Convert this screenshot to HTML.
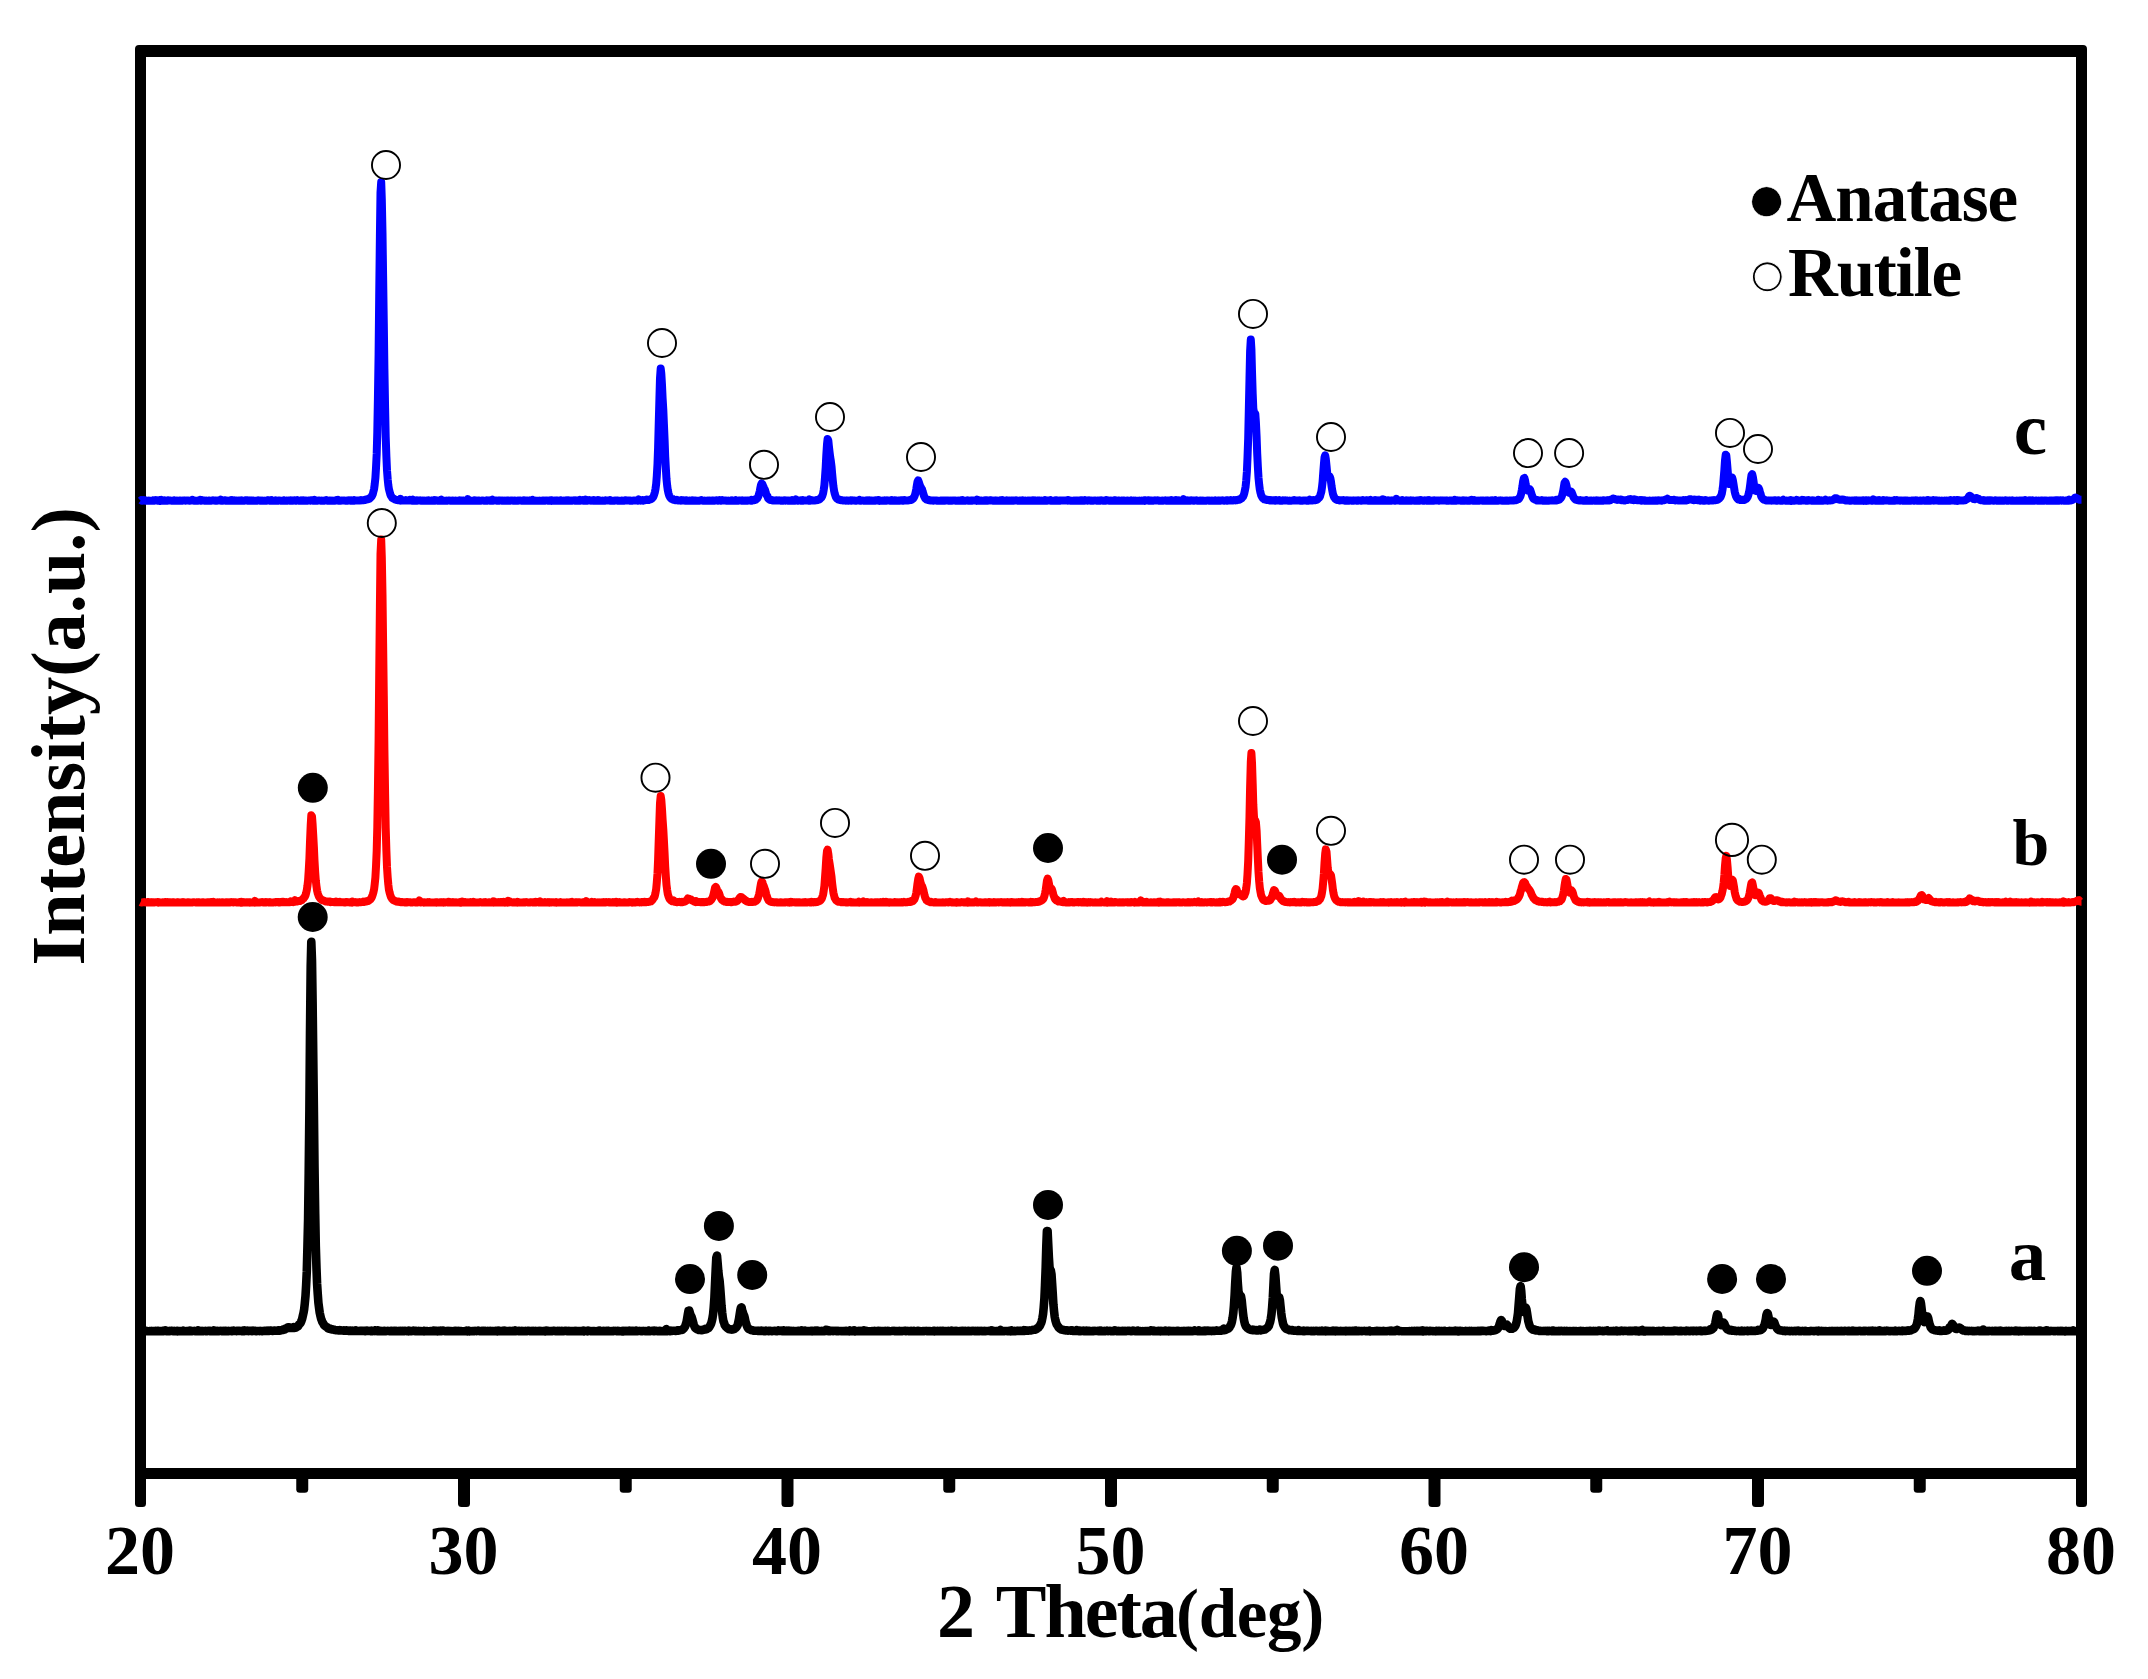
<!DOCTYPE html>
<html lang="en"><head><meta charset="utf-8"><title>XRD patterns</title>
<style>html,body{margin:0;padding:0;background:#fff}svg{display:block}text{font-family:"Liberation Serif", serif;font-weight:bold;fill:#000}</style></head><body>
<svg width="2148" height="1679" viewBox="0 0 2148 1679">
<rect width="2148" height="1679" fill="#fff"/>
<g fill="#000">
<path fill-rule="evenodd" d="M139,45H2083Q2087,45 2087,49V1479H135V49Q135,45 139,45ZM146,57V1468H2076V57Z"/>
<rect x="135" y="1465" width="11" height="42" rx="3.5"/>
<rect x="2076" y="1465" width="11" height="42" rx="3.5"/>
<rect x="458.00" y="1470" width="12" height="37" rx="3.5"/>
<rect x="781.50" y="1470" width="12" height="37" rx="3.5"/>
<rect x="1105.00" y="1470" width="12" height="37" rx="3.5"/>
<rect x="1428.50" y="1470" width="12" height="37" rx="3.5"/>
<rect x="1752.00" y="1470" width="12" height="37" rx="3.5"/>
<rect x="296.25" y="1470" width="12" height="22.8" rx="3.5"/>
<rect x="619.75" y="1470" width="12" height="22.8" rx="3.5"/>
<rect x="943.25" y="1470" width="12" height="22.8" rx="3.5"/>
<rect x="1266.75" y="1470" width="12" height="22.8" rx="3.5"/>
<rect x="1590.25" y="1470" width="12" height="22.8" rx="3.5"/>
<rect x="1913.75" y="1470" width="12" height="22.8" rx="3.5"/>
</g>
<polyline points="140.5,1331.2 141.1,1331.2 141.8,1331.0 142.4,1331.2 143.1,1331.0 143.7,1331.2 144.4,1330.8 145.0,1331.1 145.7,1330.8 146.3,1330.8 147.0,1331.2 147.6,1331.3 148.3,1331.2 148.9,1331.2 149.6,1331.1 150.2,1331.0 150.9,1331.2 151.5,1331.3 152.1,1331.2 152.8,1331.0 153.4,1331.1 154.1,1331.2 154.7,1331.3 155.4,1330.9 156.0,1331.3 156.7,1331.1 157.3,1330.9 158.0,1331.1 158.6,1330.9 159.3,1331.2 159.9,1331.1 160.6,1331.1 161.2,1331.0 161.9,1331.2 162.5,1330.9 163.1,1331.2 163.8,1330.8 164.4,1330.6 165.1,1330.4 165.7,1331.0 166.4,1331.2 167.0,1331.2 167.7,1331.2 168.3,1331.1 169.0,1331.0 169.6,1331.2 170.3,1331.1 170.9,1330.8 171.6,1330.9 172.2,1330.9 172.8,1331.2 173.5,1331.1 174.1,1330.8 174.8,1331.2 175.4,1331.1 176.1,1331.0 176.7,1330.9 177.4,1331.3 178.0,1330.9 178.7,1331.0 179.3,1331.1 180.0,1331.1 180.6,1331.2 181.3,1331.3 181.9,1331.2 182.6,1331.2 183.2,1330.7 183.8,1331.1 184.5,1331.2 185.1,1331.2 185.8,1331.2 186.4,1331.2 187.1,1331.0 187.7,1331.2 188.4,1331.2 189.0,1331.1 189.7,1330.6 190.3,1331.2 191.0,1331.2 191.6,1331.3 192.3,1331.0 192.9,1331.0 193.6,1331.0 194.2,1330.9 194.8,1331.2 195.5,1331.1 196.1,1331.0 196.8,1330.9 197.4,1331.2 198.1,1330.3 198.7,1331.1 199.4,1331.2 200.0,1331.0 200.7,1331.2 201.3,1331.0 202.0,1331.2 202.6,1331.2 203.3,1331.1 203.9,1331.1 204.6,1331.0 205.2,1330.9 205.8,1331.1 206.5,1331.3 207.1,1331.0 207.8,1331.0 208.4,1330.8 209.1,1330.7 209.7,1330.9 210.4,1331.2 211.0,1331.2 211.7,1331.0 212.3,1330.9 213.0,1331.1 213.6,1330.4 214.3,1330.9 214.9,1331.2 215.6,1330.8 216.2,1331.0 216.8,1331.3 217.5,1331.0 218.1,1331.2 218.8,1331.0 219.4,1331.1 220.1,1331.0 220.7,1330.7 221.4,1331.0 222.0,1331.2 222.7,1331.3 223.3,1330.8 224.0,1331.2 224.6,1331.2 225.3,1330.9 225.9,1330.8 226.6,1331.1 227.2,1331.3 227.8,1331.0 228.5,1330.8 229.1,1331.1 229.8,1331.0 230.4,1331.0 231.1,1330.9 231.7,1331.1 232.4,1331.1 233.0,1330.7 233.7,1330.6 234.3,1331.0 235.0,1331.0 235.6,1331.0 236.3,1330.9 236.9,1331.1 237.6,1331.0 238.2,1330.9 238.8,1330.7 239.5,1330.7 240.1,1331.0 240.8,1331.0 241.4,1331.1 242.1,1331.0 242.7,1331.1 243.4,1330.5 244.0,1330.4 244.7,1331.1 245.3,1331.0 246.0,1331.0 246.6,1331.0 247.3,1330.5 247.9,1330.7 248.5,1331.1 249.2,1330.7 249.8,1330.9 250.5,1330.8 251.1,1330.7 251.8,1331.1 252.4,1331.1 253.1,1330.6 253.7,1330.9 254.4,1330.7 255.0,1330.9 255.7,1330.9 256.3,1331.1 257.0,1331.1 257.6,1331.0 258.3,1331.0 258.9,1331.0 259.5,1331.1 260.2,1330.9 260.8,1331.0 261.5,1331.1 262.1,1331.1 262.8,1331.1 263.4,1331.0 264.1,1330.8 264.7,1331.0 265.4,1330.8 266.0,1330.8 266.7,1330.9 267.3,1330.8 268.0,1330.6 268.6,1330.8 269.3,1330.9 269.9,1330.6 270.5,1330.8 271.2,1330.5 271.8,1330.7 272.5,1330.9 273.1,1330.7 273.8,1330.7 274.4,1330.6 275.1,1330.5 275.7,1330.8 276.4,1330.5 277.0,1330.5 277.7,1330.4 278.3,1330.6 279.0,1330.4 279.6,1330.6 280.3,1330.4 280.9,1330.4 281.5,1330.0 282.2,1330.0 282.8,1329.9 283.5,1329.3 284.1,1329.5 284.8,1329.4 285.4,1328.6 286.1,1328.6 286.7,1328.4 287.4,1327.6 288.0,1327.4 288.7,1327.8 289.3,1327.3 290.0,1327.5 290.6,1327.9 291.3,1328.0 291.9,1327.7 292.5,1327.9 293.2,1327.9 293.8,1327.3 294.5,1327.9 295.1,1327.4 295.8,1327.6 296.4,1327.2 297.1,1326.7 297.7,1326.4 298.4,1325.9 299.0,1324.5 299.7,1324.0 300.3,1323.3 301.0,1322.1 301.6,1320.5 302.2,1318.7 302.9,1315.5 303.5,1312.9 304.2,1308.9 304.8,1303.4 305.5,1295.9 306.1,1285.7 306.8,1271.2 307.4,1248.1 308.1,1218.9 308.7,1173.2 309.4,1109.6 310.0,1033.6 310.7,966.6 311.3,941.9 312.0,961.0 312.6,1001.2 313.2,1051.9 313.9,1111.4 314.5,1166.6 315.2,1213.3 315.8,1246.1 316.5,1268.5 317.1,1284.0 317.8,1294.6 318.4,1302.8 319.1,1308.1 319.7,1312.6 320.4,1315.8 321.0,1318.4 321.7,1320.3 322.3,1321.9 323.0,1323.0 323.6,1324.1 324.2,1325.3 324.9,1325.8 325.5,1326.2 326.2,1326.7 326.8,1327.2 327.5,1327.5 328.1,1328.3 328.8,1328.5 329.4,1328.8 330.1,1328.6 330.7,1329.1 331.4,1329.3 332.0,1329.4 332.7,1329.3 333.3,1329.7 334.0,1329.7 334.6,1329.9 335.2,1330.0 335.9,1330.0 336.5,1330.3 337.2,1330.2 337.8,1330.3 338.5,1330.4 339.1,1330.4 339.8,1330.0 340.4,1330.3 341.1,1330.3 341.7,1330.5 342.4,1330.5 343.0,1330.6 343.7,1330.4 344.3,1330.8 345.0,1330.8 345.6,1330.6 346.2,1330.3 346.9,1330.4 347.5,1330.5 348.2,1330.8 348.8,1330.9 349.5,1330.9 350.1,1330.7 350.8,1330.5 351.4,1330.9 352.1,1330.9 352.7,1330.6 353.4,1330.9 354.0,1330.7 354.7,1331.0 355.3,1331.0 356.0,1330.5 356.6,1330.9 357.2,1330.9 357.9,1331.0 358.5,1331.0 359.2,1331.0 359.8,1330.7 360.5,1331.0 361.1,1330.8 361.8,1330.9 362.4,1330.9 363.1,1330.7 363.7,1330.8 364.4,1330.7 365.0,1331.2 365.7,1330.9 366.3,1330.6 366.9,1331.0 367.6,1330.9 368.2,1331.0 368.9,1330.7 369.5,1331.0 370.2,1331.1 370.8,1331.1 371.5,1330.7 372.1,1331.0 372.8,1331.2 373.4,1330.9 374.1,1330.6 374.7,1331.0 375.4,1330.5 376.0,1331.0 376.7,1331.1 377.3,1331.1 377.9,1330.3 378.6,1331.0 379.2,1330.6 379.9,1331.1 380.5,1331.0 381.2,1331.2 381.8,1331.2 382.5,1331.1 383.1,1331.2 383.8,1330.9 384.4,1330.8 385.1,1330.9 385.7,1331.1 386.4,1331.1 387.0,1331.0 387.7,1330.8 388.3,1331.0 388.9,1331.1 389.6,1331.2 390.2,1331.2 390.9,1330.7 391.5,1330.9 392.2,1331.2 392.8,1331.0 393.5,1331.1 394.1,1330.9 394.8,1330.7 395.4,1331.2 396.1,1330.9 396.7,1331.1 397.4,1331.1 398.0,1331.1 398.7,1331.2 399.3,1331.1 399.9,1330.8 400.6,1331.2 401.2,1331.0 401.9,1331.1 402.5,1330.8 403.2,1330.9 403.8,1331.2 404.5,1330.7 405.1,1330.7 405.8,1331.0 406.4,1331.1 407.1,1331.2 407.7,1331.0 408.4,1331.3 409.0,1330.7 409.7,1331.1 410.3,1331.1 410.9,1331.3 411.6,1331.1 412.2,1330.9 412.9,1330.8 413.5,1330.6 414.2,1330.8 414.8,1331.1 415.5,1330.9 416.1,1330.8 416.8,1331.2 417.4,1331.1 418.1,1331.2 418.7,1330.9 419.4,1331.2 420.0,1331.1 420.7,1331.1 421.3,1331.2 421.9,1331.2 422.6,1331.2 423.2,1331.0 423.9,1331.3 424.5,1330.9 425.2,1331.0 425.8,1331.3 426.5,1331.2 427.1,1331.1 427.8,1331.2 428.4,1331.2 429.1,1331.2 429.7,1331.2 430.4,1331.1 431.0,1331.2 431.6,1331.2 432.3,1331.0 432.9,1330.7 433.6,1330.6 434.2,1331.2 434.9,1331.1 435.5,1330.8 436.2,1331.1 436.8,1330.8 437.5,1331.3 438.1,1330.9 438.8,1330.8 439.4,1331.1 440.1,1331.1 440.7,1330.7 441.4,1331.2 442.0,1331.1 442.6,1330.6 443.3,1330.6 443.9,1331.0 444.6,1331.1 445.2,1331.2 445.9,1331.2 446.5,1331.2 447.2,1330.9 447.8,1331.0 448.5,1331.2 449.1,1331.0 449.8,1331.2 450.4,1331.2 451.1,1331.0 451.7,1331.2 452.4,1331.2 453.0,1331.2 453.6,1331.1 454.3,1331.1 454.9,1330.9 455.6,1331.1 456.2,1330.9 456.9,1331.2 457.5,1331.3 458.2,1330.8 458.8,1331.2 459.5,1331.3 460.1,1331.1 460.8,1331.1 461.4,1331.2 462.1,1331.2 462.7,1331.2 463.4,1331.3 464.0,1331.2 464.6,1331.3 465.3,1331.2 465.9,1330.8 466.6,1330.6 467.2,1331.3 467.9,1331.1 468.5,1330.7 469.2,1331.3 469.8,1331.1 470.5,1331.2 471.1,1331.2 471.8,1331.2 472.4,1331.1 473.1,1331.1 473.7,1331.3 474.4,1331.1 475.0,1330.8 475.6,1331.0 476.3,1331.1 476.9,1331.1 477.6,1331.0 478.2,1330.6 478.9,1330.8 479.5,1331.2 480.2,1331.1 480.8,1331.0 481.5,1330.9 482.1,1331.3 482.8,1331.2 483.4,1330.8 484.1,1330.7 484.7,1331.3 485.4,1331.3 486.0,1331.1 486.6,1331.1 487.3,1331.2 487.9,1330.9 488.6,1331.0 489.2,1331.3 489.9,1331.2 490.5,1330.9 491.2,1331.1 491.8,1331.1 492.5,1331.3 493.1,1331.1 493.8,1331.0 494.4,1331.0 495.1,1330.9 495.7,1331.3 496.4,1331.1 497.0,1331.1 497.6,1331.3 498.3,1330.7 498.9,1331.1 499.6,1331.2 500.2,1331.0 500.9,1331.3 501.5,1331.2 502.2,1330.9 502.8,1331.2 503.5,1331.1 504.1,1330.7 504.8,1331.1 505.4,1330.8 506.1,1331.3 506.7,1331.3 507.3,1331.0 508.0,1331.3 508.6,1331.2 509.3,1331.1 509.9,1330.8 510.6,1331.0 511.2,1331.2 511.9,1331.3 512.5,1330.9 513.2,1331.3 513.8,1331.3 514.5,1331.3 515.1,1330.6 515.8,1331.1 516.4,1331.1 517.1,1331.0 517.7,1331.0 518.3,1330.8 519.0,1331.2 519.6,1330.9 520.3,1331.1 520.9,1331.2 521.6,1330.9 522.2,1331.3 522.9,1331.2 523.5,1331.0 524.2,1331.2 524.8,1331.2 525.5,1330.9 526.1,1331.0 526.8,1331.2 527.4,1331.1 528.1,1330.8 528.7,1330.7 529.3,1331.0 530.0,1331.2 530.6,1331.3 531.3,1331.0 531.9,1330.9 532.6,1331.2 533.2,1331.2 533.9,1330.9 534.5,1331.0 535.2,1331.2 535.8,1330.9 536.5,1331.0 537.1,1331.2 537.8,1331.0 538.4,1331.2 539.1,1331.1 539.7,1330.9 540.3,1331.2 541.0,1331.2 541.6,1331.1 542.3,1331.3 542.9,1331.0 543.6,1331.3 544.2,1331.2 544.9,1331.0 545.5,1331.3 546.2,1330.6 546.8,1331.2 547.5,1331.0 548.1,1330.9 548.8,1331.1 549.4,1331.1 550.1,1331.1 550.7,1331.2 551.3,1331.1 552.0,1331.2 552.6,1331.1 553.3,1330.9 553.9,1330.9 554.6,1330.8 555.2,1331.2 555.9,1331.2 556.5,1331.1 557.2,1331.1 557.8,1330.9 558.5,1331.2 559.1,1330.9 559.8,1331.1 560.4,1331.2 561.0,1331.1 561.7,1330.8 562.3,1331.3 563.0,1331.1 563.6,1331.2 564.3,1331.1 564.9,1330.7 565.6,1330.9 566.2,1330.8 566.9,1331.3 567.5,1331.2 568.2,1330.9 568.8,1331.2 569.5,1331.3 570.1,1331.2 570.8,1331.0 571.4,1331.1 572.0,1331.0 572.7,1331.1 573.3,1331.1 574.0,1331.1 574.6,1331.2 575.3,1331.2 575.9,1330.9 576.6,1331.1 577.2,1331.1 577.9,1331.1 578.5,1331.1 579.2,1331.2 579.8,1331.1 580.5,1331.1 581.1,1331.1 581.8,1331.1 582.4,1330.9 583.0,1330.6 583.7,1331.3 584.3,1331.0 585.0,1330.9 585.6,1331.0 586.3,1331.1 586.9,1330.9 587.6,1331.3 588.2,1330.7 588.9,1330.9 589.5,1330.9 590.2,1331.0 590.8,1331.2 591.5,1331.2 592.1,1331.0 592.8,1331.3 593.4,1331.2 594.0,1331.1 594.7,1331.0 595.3,1331.2 596.0,1331.2 596.6,1331.2 597.3,1331.2 597.9,1330.9 598.6,1331.2 599.2,1330.6 599.9,1331.1 600.5,1330.8 601.2,1331.2 601.8,1331.3 602.5,1331.2 603.1,1331.1 603.8,1330.8 604.4,1331.2 605.0,1331.3 605.7,1331.1 606.3,1330.9 607.0,1331.1 607.6,1330.8 608.3,1331.1 608.9,1330.9 609.6,1331.0 610.2,1331.2 610.9,1331.3 611.5,1331.2 612.2,1331.1 612.8,1331.2 613.5,1330.8 614.1,1330.9 614.8,1331.0 615.4,1330.9 616.0,1331.0 616.7,1331.2 617.3,1330.8 618.0,1330.8 618.6,1331.2 619.3,1331.1 619.9,1331.2 620.6,1331.2 621.2,1331.3 621.9,1331.0 622.5,1331.3 623.2,1330.8 623.8,1331.3 624.5,1331.0 625.1,1330.8 625.8,1331.2 626.4,1331.3 627.0,1330.9 627.7,1331.2 628.3,1330.9 629.0,1330.6 629.6,1331.2 630.3,1331.2 630.9,1331.0 631.6,1330.8 632.2,1330.8 632.9,1331.2 633.5,1331.0 634.2,1331.1 634.8,1331.1 635.5,1331.0 636.1,1330.5 636.7,1331.2 637.4,1331.2 638.0,1331.1 638.7,1331.0 639.3,1330.9 640.0,1331.0 640.6,1331.0 641.3,1331.1 641.9,1331.3 642.6,1331.0 643.2,1330.9 643.9,1331.0 644.5,1331.0 645.2,1331.2 645.8,1331.1 646.5,1331.3 647.1,1331.1 647.7,1331.2 648.4,1330.7 649.0,1331.1 649.7,1330.8 650.3,1331.2 651.0,1331.0 651.6,1330.9 652.3,1330.8 652.9,1331.1 653.6,1331.2 654.2,1330.5 654.9,1331.1 655.5,1330.7 656.2,1330.9 656.8,1331.1 657.5,1331.2 658.1,1331.2 658.7,1331.2 659.4,1330.7 660.0,1330.7 660.7,1331.2 661.3,1331.2 662.0,1331.2 662.6,1331.0 663.3,1331.1 663.9,1330.7 664.6,1330.9 665.2,1330.9 665.9,1331.2 666.5,1329.1 667.2,1330.8 667.8,1331.1 668.5,1331.0 669.1,1330.7 669.7,1331.1 670.4,1331.1 671.0,1330.7 671.7,1331.0 672.3,1330.8 673.0,1330.8 673.6,1330.7 674.3,1330.7 674.9,1330.8 675.6,1330.9 676.2,1330.8 676.9,1330.4 677.5,1330.3 678.2,1330.7 678.8,1330.2 679.5,1330.4 680.1,1330.0 680.7,1330.0 681.4,1329.9 682.0,1329.9 682.7,1329.4 683.3,1328.6 684.0,1328.3 684.6,1327.2 685.3,1326.1 685.9,1324.1 686.6,1321.8 687.2,1318.1 687.9,1313.9 688.5,1310.7 689.2,1310.6 689.8,1312.6 690.5,1314.9 691.1,1315.9 691.7,1317.3 692.4,1319.6 693.0,1321.9 693.7,1324.4 694.3,1326.0 695.0,1327.6 695.6,1328.3 696.3,1328.6 696.9,1329.1 697.6,1329.5 698.2,1329.6 698.9,1330.0 699.5,1330.0 700.2,1330.0 700.8,1330.1 701.4,1330.2 702.1,1329.9 702.7,1329.9 703.4,1330.0 704.0,1329.7 704.7,1329.5 705.3,1329.0 706.0,1329.4 706.6,1329.1 707.3,1328.4 707.9,1328.3 708.6,1327.9 709.2,1327.3 709.9,1326.0 710.5,1324.9 711.2,1323.4 711.8,1321.2 712.4,1318.5 713.1,1314.1 713.7,1307.6 714.4,1297.9 715.0,1284.4 715.7,1269.4 716.3,1257.8 717.0,1255.6 717.6,1262.7 718.3,1271.0 718.9,1276.5 719.6,1280.8 720.2,1287.7 720.9,1297.0 721.5,1305.8 722.2,1312.8 722.8,1317.7 723.4,1321.1 724.1,1322.9 724.7,1325.0 725.4,1326.0 726.0,1326.8 726.7,1327.4 727.3,1328.0 728.0,1328.5 728.6,1329.0 729.3,1329.2 729.9,1329.3 730.6,1329.4 731.2,1329.2 731.9,1329.6 732.5,1329.3 733.2,1329.4 733.8,1329.1 734.4,1328.9 735.1,1328.3 735.7,1327.8 736.4,1327.4 737.0,1326.4 737.7,1325.0 738.3,1322.3 739.0,1318.9 739.6,1315.0 740.3,1310.4 740.9,1307.6 741.6,1307.4 742.2,1310.6 742.9,1312.4 743.5,1314.4 744.2,1315.7 744.8,1318.1 745.4,1321.0 746.1,1323.6 746.7,1325.4 747.4,1327.1 748.0,1328.2 748.7,1328.9 749.3,1329.2 750.0,1329.6 750.6,1329.7 751.3,1330.2 751.9,1330.1 752.6,1330.4 753.2,1330.4 753.9,1330.7 754.5,1330.8 755.1,1330.7 755.8,1330.7 756.4,1330.8 757.1,1330.8 757.7,1330.7 758.4,1331.0 759.0,1330.7 759.7,1330.8 760.3,1330.9 761.0,1330.7 761.6,1330.6 762.3,1330.9 762.9,1330.8 763.6,1331.1 764.2,1331.0 764.9,1331.1 765.5,1331.2 766.1,1330.7 766.8,1331.0 767.4,1331.0 768.1,1330.9 768.7,1331.1 769.4,1330.9 770.0,1330.9 770.7,1330.9 771.3,1331.2 772.0,1331.1 772.6,1331.1 773.3,1331.0 773.9,1330.9 774.6,1330.9 775.2,1330.7 775.9,1331.1 776.5,1331.0 777.1,1331.2 777.8,1331.0 778.4,1330.5 779.1,1330.9 779.7,1331.0 780.4,1330.8 781.0,1330.6 781.7,1331.1 782.3,1331.1 783.0,1331.1 783.6,1330.4 784.3,1331.1 784.9,1330.8 785.6,1331.2 786.2,1331.1 786.9,1330.7 787.5,1331.1 788.1,1331.1 788.8,1330.7 789.4,1331.1 790.1,1331.0 790.7,1331.2 791.4,1331.1 792.0,1330.9 792.7,1331.0 793.3,1331.2 794.0,1331.1 794.6,1331.2 795.3,1331.2 795.9,1331.0 796.6,1331.0 797.2,1331.1 797.9,1330.9 798.5,1331.1 799.1,1330.9 799.8,1331.2 800.4,1331.2 801.1,1331.1 801.7,1330.5 802.4,1331.0 803.0,1331.2 803.7,1331.1 804.3,1331.1 805.0,1330.5 805.6,1331.2 806.3,1331.2 806.9,1331.0 807.6,1331.2 808.2,1331.1 808.9,1331.2 809.5,1331.1 810.1,1331.1 810.8,1330.9 811.4,1330.9 812.1,1331.3 812.7,1330.8 813.4,1331.2 814.0,1330.9 814.7,1331.3 815.3,1331.3 816.0,1330.6 816.6,1331.3 817.3,1331.2 817.9,1330.7 818.6,1331.0 819.2,1331.2 819.9,1331.0 820.5,1331.1 821.1,1331.2 821.8,1330.8 822.4,1331.2 823.1,1331.1 823.7,1331.2 824.4,1331.2 825.0,1331.0 825.7,1330.9 826.3,1329.7 827.0,1331.0 827.6,1331.0 828.3,1331.2 828.9,1330.3 829.6,1331.1 830.2,1331.2 830.8,1331.0 831.5,1330.9 832.1,1330.8 832.8,1331.1 833.4,1331.1 834.1,1330.8 834.7,1331.0 835.4,1330.9 836.0,1331.2 836.7,1330.8 837.3,1331.2 838.0,1330.8 838.6,1331.2 839.3,1331.0 839.9,1331.0 840.6,1331.1 841.2,1331.1 841.8,1331.0 842.5,1331.3 843.1,1331.0 843.8,1331.0 844.4,1331.2 845.1,1331.2 845.7,1330.9 846.4,1330.9 847.0,1331.1 847.7,1331.0 848.3,1330.9 849.0,1331.3 849.6,1330.4 850.3,1331.1 850.9,1331.2 851.6,1331.2 852.2,1331.2 852.8,1331.2 853.5,1330.9 854.1,1330.3 854.8,1331.3 855.4,1331.1 856.1,1331.2 856.7,1331.1 857.4,1331.1 858.0,1331.2 858.7,1330.8 859.3,1331.1 860.0,1330.9 860.6,1331.2 861.3,1330.8 861.9,1331.1 862.6,1331.2 863.2,1331.1 863.8,1330.6 864.5,1331.3 865.1,1331.3 865.8,1331.1 866.4,1330.8 867.1,1331.3 867.7,1331.2 868.4,1331.2 869.0,1331.2 869.7,1331.2 870.3,1331.2 871.0,1331.2 871.6,1331.2 872.3,1331.1 872.9,1331.3 873.6,1331.2 874.2,1331.1 874.8,1330.9 875.5,1331.2 876.1,1331.2 876.8,1331.2 877.4,1331.1 878.1,1330.8 878.7,1330.8 879.4,1331.1 880.0,1331.3 880.7,1331.2 881.3,1331.1 882.0,1331.2 882.6,1331.1 883.3,1331.2 883.9,1331.2 884.5,1331.2 885.2,1330.8 885.8,1331.1 886.5,1331.2 887.1,1331.1 887.8,1330.8 888.4,1331.0 889.1,1331.1 889.7,1331.3 890.4,1331.2 891.0,1331.0 891.7,1331.0 892.3,1330.9 893.0,1331.0 893.6,1330.9 894.3,1331.1 894.9,1331.2 895.5,1331.1 896.2,1331.2 896.8,1331.1 897.5,1331.2 898.1,1331.2 898.8,1331.3 899.4,1330.9 900.1,1331.2 900.7,1331.1 901.4,1331.1 902.0,1331.2 902.7,1331.1 903.3,1331.0 904.0,1330.9 904.6,1330.8 905.3,1331.1 905.9,1330.9 906.5,1331.1 907.2,1331.0 907.8,1330.9 908.5,1331.0 909.1,1331.3 909.8,1331.2 910.4,1331.3 911.1,1330.8 911.7,1331.0 912.4,1331.2 913.0,1331.3 913.7,1330.8 914.3,1330.9 915.0,1331.2 915.6,1331.2 916.3,1331.2 916.9,1331.2 917.5,1330.8 918.2,1330.9 918.8,1331.2 919.5,1331.1 920.1,1331.2 920.8,1331.2 921.4,1331.2 922.1,1331.3 922.7,1331.1 923.4,1331.1 924.0,1331.2 924.7,1331.1 925.3,1331.0 926.0,1330.9 926.6,1331.2 927.3,1331.0 927.9,1331.1 928.5,1331.1 929.2,1331.1 929.8,1331.1 930.5,1331.2 931.1,1331.2 931.8,1331.3 932.4,1331.2 933.1,1330.9 933.7,1330.8 934.4,1331.3 935.0,1330.9 935.7,1331.2 936.3,1331.1 937.0,1331.1 937.6,1330.9 938.3,1331.1 938.9,1331.2 939.5,1331.1 940.2,1330.8 940.8,1331.2 941.5,1331.1 942.1,1330.9 942.8,1331.1 943.4,1330.9 944.1,1331.2 944.7,1331.1 945.4,1331.1 946.0,1331.0 946.7,1331.3 947.3,1331.2 948.0,1331.1 948.6,1330.9 949.2,1331.0 949.9,1331.3 950.5,1331.2 951.2,1331.2 951.8,1330.6 952.5,1331.0 953.1,1331.1 953.8,1331.1 954.4,1331.0 955.1,1330.8 955.7,1331.2 956.4,1330.9 957.0,1331.1 957.7,1331.0 958.3,1331.2 959.0,1331.2 959.6,1331.1 960.2,1331.2 960.9,1331.2 961.5,1331.0 962.2,1330.8 962.8,1330.7 963.5,1331.3 964.1,1331.2 964.8,1331.2 965.4,1330.9 966.1,1331.1 966.7,1331.1 967.4,1331.1 968.0,1331.3 968.7,1330.9 969.3,1331.1 970.0,1331.0 970.6,1331.1 971.2,1331.2 971.9,1331.2 972.5,1330.9 973.2,1330.9 973.8,1331.1 974.5,1331.2 975.1,1331.2 975.8,1330.9 976.4,1331.2 977.1,1331.2 977.7,1330.8 978.4,1331.1 979.0,1331.3 979.7,1331.1 980.3,1330.9 981.0,1331.0 981.6,1330.9 982.2,1331.2 982.9,1331.3 983.5,1331.2 984.2,1330.9 984.8,1331.2 985.5,1331.2 986.1,1331.0 986.8,1331.0 987.4,1331.0 988.1,1331.0 988.7,1330.9 989.4,1331.0 990.0,1330.8 990.7,1331.2 991.3,1330.6 992.0,1331.2 992.6,1331.2 993.2,1330.8 993.9,1330.9 994.5,1331.2 995.2,1331.0 995.8,1331.2 996.5,1331.2 997.1,1331.1 997.8,1330.9 998.4,1331.1 999.1,1331.1 999.7,1331.1 1000.4,1329.9 1001.0,1331.2 1001.7,1331.1 1002.3,1331.2 1003.0,1331.2 1003.6,1331.1 1004.2,1331.0 1004.9,1331.1 1005.5,1331.0 1006.2,1331.0 1006.8,1331.1 1007.5,1331.1 1008.1,1331.2 1008.8,1330.9 1009.4,1331.1 1010.1,1330.8 1010.7,1331.2 1011.4,1330.4 1012.0,1331.0 1012.7,1331.1 1013.3,1331.0 1014.0,1331.1 1014.6,1330.8 1015.2,1331.1 1015.9,1331.1 1016.5,1330.8 1017.2,1330.8 1017.8,1331.0 1018.5,1330.9 1019.1,1330.7 1019.8,1330.9 1020.4,1331.0 1021.1,1330.7 1021.7,1330.8 1022.4,1330.9 1023.0,1330.6 1023.7,1330.2 1024.3,1330.9 1024.9,1330.7 1025.6,1330.3 1026.2,1330.8 1026.9,1330.6 1027.5,1330.7 1028.2,1330.7 1028.8,1330.5 1029.5,1330.4 1030.1,1330.5 1030.8,1330.4 1031.4,1330.4 1032.1,1330.1 1032.7,1329.9 1033.4,1329.8 1034.0,1329.8 1034.7,1329.8 1035.3,1329.5 1035.9,1329.3 1036.6,1328.9 1037.2,1328.3 1037.9,1327.9 1038.5,1327.6 1039.2,1326.3 1039.8,1325.9 1040.5,1324.4 1041.1,1323.2 1041.8,1320.9 1042.4,1318.0 1043.1,1313.9 1043.7,1307.6 1044.4,1298.4 1045.0,1285.1 1045.7,1267.2 1046.3,1246.4 1046.9,1231.2 1047.6,1231.0 1048.2,1243.4 1048.9,1257.8 1049.5,1267.1 1050.2,1270.0 1050.8,1270.4 1051.5,1274.2 1052.1,1283.2 1052.8,1294.3 1053.4,1304.4 1054.1,1311.6 1054.7,1316.7 1055.4,1320.3 1056.0,1322.4 1056.7,1324.5 1057.3,1325.2 1057.9,1326.3 1058.6,1327.4 1059.2,1327.8 1059.9,1328.6 1060.5,1328.9 1061.2,1329.4 1061.8,1329.5 1062.5,1329.8 1063.1,1329.8 1063.8,1330.1 1064.4,1330.2 1065.1,1330.2 1065.7,1330.4 1066.4,1330.5 1067.0,1330.3 1067.7,1330.6 1068.3,1330.6 1068.9,1330.5 1069.6,1330.5 1070.2,1330.6 1070.9,1330.4 1071.5,1330.6 1072.2,1330.4 1072.8,1330.6 1073.5,1331.0 1074.1,1330.8 1074.8,1331.0 1075.4,1330.9 1076.1,1330.8 1076.7,1330.2 1077.4,1330.8 1078.0,1330.6 1078.7,1331.1 1079.3,1330.6 1079.9,1330.6 1080.6,1331.1 1081.2,1330.9 1081.9,1331.0 1082.5,1331.0 1083.2,1330.6 1083.8,1331.1 1084.5,1331.0 1085.1,1331.2 1085.8,1331.1 1086.4,1330.6 1087.1,1331.2 1087.7,1331.1 1088.4,1331.1 1089.0,1330.9 1089.6,1330.7 1090.3,1331.1 1090.9,1331.2 1091.6,1331.2 1092.2,1331.2 1092.9,1330.9 1093.5,1331.2 1094.2,1331.0 1094.8,1330.7 1095.5,1331.0 1096.1,1331.0 1096.8,1331.0 1097.4,1330.9 1098.1,1331.1 1098.7,1331.0 1099.4,1331.1 1100.0,1330.5 1100.6,1331.2 1101.3,1331.1 1101.9,1330.9 1102.6,1331.2 1103.2,1331.2 1103.9,1331.2 1104.5,1330.9 1105.2,1331.2 1105.8,1331.0 1106.5,1331.0 1107.1,1330.6 1107.8,1330.9 1108.4,1331.1 1109.1,1331.0 1109.7,1330.8 1110.4,1330.9 1111.0,1331.1 1111.6,1331.1 1112.3,1331.0 1112.9,1330.9 1113.6,1331.2 1114.2,1331.0 1114.9,1330.4 1115.5,1330.6 1116.2,1331.1 1116.8,1331.0 1117.5,1331.2 1118.1,1330.9 1118.8,1331.2 1119.4,1331.0 1120.1,1331.2 1120.7,1331.1 1121.4,1331.2 1122.0,1330.9 1122.6,1330.8 1123.3,1331.2 1123.9,1331.3 1124.6,1331.1 1125.2,1330.9 1125.9,1331.2 1126.5,1331.0 1127.2,1330.8 1127.8,1331.0 1128.5,1330.8 1129.1,1330.9 1129.8,1330.9 1130.4,1331.2 1131.1,1331.1 1131.7,1331.2 1132.4,1331.0 1133.0,1330.5 1133.6,1330.7 1134.3,1330.8 1134.9,1331.2 1135.6,1331.2 1136.2,1331.0 1136.9,1331.1 1137.5,1330.7 1138.2,1331.2 1138.8,1330.9 1139.5,1331.2 1140.1,1331.1 1140.8,1331.2 1141.4,1331.2 1142.1,1331.2 1142.7,1331.0 1143.3,1331.2 1144.0,1331.2 1144.6,1331.2 1145.3,1331.1 1145.9,1331.2 1146.6,1331.0 1147.2,1331.1 1147.9,1331.2 1148.5,1331.0 1149.2,1331.0 1149.8,1331.3 1150.5,1331.0 1151.1,1330.2 1151.8,1331.0 1152.4,1331.0 1153.1,1331.2 1153.7,1330.7 1154.3,1331.2 1155.0,1330.8 1155.6,1331.2 1156.3,1331.2 1156.9,1331.2 1157.6,1331.2 1158.2,1330.8 1158.9,1330.8 1159.5,1331.0 1160.2,1331.3 1160.8,1330.9 1161.5,1331.2 1162.1,1331.0 1162.8,1331.0 1163.4,1331.1 1164.1,1331.2 1164.7,1331.2 1165.3,1330.5 1166.0,1331.2 1166.6,1331.2 1167.3,1331.1 1167.9,1331.0 1168.6,1331.3 1169.2,1330.9 1169.9,1330.9 1170.5,1331.3 1171.2,1331.2 1171.8,1331.0 1172.5,1331.2 1173.1,1331.2 1173.8,1331.1 1174.4,1331.1 1175.1,1331.2 1175.7,1331.1 1176.3,1331.2 1177.0,1331.2 1177.6,1330.9 1178.3,1330.7 1178.9,1331.1 1179.6,1331.0 1180.2,1331.2 1180.9,1331.2 1181.5,1331.2 1182.2,1331.0 1182.8,1331.1 1183.5,1331.1 1184.1,1330.9 1184.8,1331.2 1185.4,1331.1 1186.1,1331.2 1186.7,1331.2 1187.3,1330.9 1188.0,1331.1 1188.6,1331.2 1189.3,1331.1 1189.9,1330.8 1190.6,1331.1 1191.2,1331.0 1191.9,1331.1 1192.5,1331.0 1193.2,1331.1 1193.8,1331.0 1194.5,1330.5 1195.1,1331.0 1195.8,1331.0 1196.4,1331.0 1197.1,1331.1 1197.7,1331.2 1198.3,1331.1 1199.0,1330.4 1199.6,1330.8 1200.3,1331.2 1200.9,1331.0 1201.6,1331.1 1202.2,1331.2 1202.9,1330.9 1203.5,1331.0 1204.2,1331.1 1204.8,1330.6 1205.5,1331.1 1206.1,1331.1 1206.8,1330.8 1207.4,1330.6 1208.0,1331.0 1208.7,1330.9 1209.3,1330.9 1210.0,1330.7 1210.6,1331.0 1211.3,1331.1 1211.9,1330.8 1212.6,1330.9 1213.2,1330.7 1213.9,1330.8 1214.5,1330.9 1215.2,1330.8 1215.8,1330.7 1216.5,1330.4 1217.1,1330.7 1217.8,1330.7 1218.4,1330.8 1219.0,1330.8 1219.7,1330.6 1220.3,1330.6 1221.0,1330.4 1221.6,1330.6 1222.3,1330.5 1222.9,1330.3 1223.6,1328.6 1224.2,1330.3 1224.9,1329.6 1225.5,1329.9 1226.2,1329.7 1226.8,1329.0 1227.5,1328.9 1228.1,1328.7 1228.8,1328.2 1229.4,1327.5 1230.0,1326.3 1230.7,1325.3 1231.3,1323.9 1232.0,1321.3 1232.6,1318.0 1233.3,1313.2 1233.9,1306.2 1234.6,1295.3 1235.2,1283.2 1235.9,1271.7 1236.5,1267.4 1237.2,1272.6 1237.8,1283.2 1238.5,1291.9 1239.1,1296.2 1239.8,1296.6 1240.4,1295.6 1241.0,1296.1 1241.7,1300.2 1242.3,1306.4 1243.0,1312.9 1243.6,1317.7 1244.3,1321.5 1244.9,1323.9 1245.6,1325.7 1246.2,1326.7 1246.9,1327.3 1247.5,1328.1 1248.2,1328.6 1248.8,1329.0 1249.5,1329.3 1250.1,1329.5 1250.8,1329.8 1251.4,1330.0 1252.0,1330.1 1252.7,1329.7 1253.3,1330.1 1254.0,1330.3 1254.6,1330.2 1255.3,1330.1 1255.9,1330.4 1256.6,1330.1 1257.2,1330.4 1257.9,1330.4 1258.5,1330.3 1259.2,1330.1 1259.8,1329.5 1260.5,1330.4 1261.1,1330.2 1261.8,1330.0 1262.4,1330.0 1263.0,1329.8 1263.7,1329.7 1264.3,1329.5 1265.0,1329.4 1265.6,1328.9 1266.3,1328.5 1266.9,1328.0 1267.6,1327.6 1268.2,1326.7 1268.9,1325.7 1269.5,1323.7 1270.2,1321.8 1270.8,1318.7 1271.5,1314.2 1272.1,1307.6 1272.8,1298.0 1273.4,1285.9 1274.0,1274.0 1274.7,1269.9 1275.3,1274.9 1276.0,1284.9 1276.6,1293.4 1277.3,1298.2 1277.9,1299.2 1278.6,1298.0 1279.2,1297.3 1279.9,1300.2 1280.5,1306.1 1281.2,1312.8 1281.8,1317.4 1282.5,1320.9 1283.1,1323.8 1283.7,1325.4 1284.4,1326.6 1285.0,1327.5 1285.7,1328.4 1286.3,1328.8 1287.0,1329.1 1287.6,1329.3 1288.3,1329.5 1288.9,1329.8 1289.6,1330.2 1290.2,1330.1 1290.9,1330.1 1291.5,1330.5 1292.2,1330.1 1292.8,1330.2 1293.5,1330.7 1294.1,1330.6 1294.7,1330.8 1295.4,1330.6 1296.0,1330.8 1296.7,1330.8 1297.3,1330.9 1298.0,1330.9 1298.6,1330.3 1299.3,1330.9 1299.9,1330.9 1300.6,1331.0 1301.2,1330.9 1301.9,1331.0 1302.5,1330.9 1303.2,1331.1 1303.8,1330.6 1304.5,1331.0 1305.1,1331.1 1305.7,1331.0 1306.4,1330.8 1307.0,1331.0 1307.7,1330.8 1308.3,1330.7 1309.0,1331.0 1309.6,1331.0 1310.3,1331.0 1310.9,1330.9 1311.6,1331.2 1312.2,1331.0 1312.9,1331.2 1313.5,1330.8 1314.2,1331.0 1314.8,1331.1 1315.5,1330.9 1316.1,1330.9 1316.7,1330.8 1317.4,1331.1 1318.0,1331.2 1318.7,1331.0 1319.3,1330.9 1320.0,1331.2 1320.6,1331.1 1321.3,1331.1 1321.9,1330.7 1322.6,1331.2 1323.2,1331.0 1323.9,1331.1 1324.5,1331.1 1325.2,1330.7 1325.8,1331.3 1326.5,1330.9 1327.1,1331.2 1327.7,1330.8 1328.4,1331.0 1329.0,1331.0 1329.7,1331.3 1330.3,1331.2 1331.0,1331.2 1331.6,1331.1 1332.3,1330.9 1332.9,1330.6 1333.6,1331.2 1334.2,1331.2 1334.9,1330.9 1335.5,1331.3 1336.2,1331.0 1336.8,1331.2 1337.5,1330.8 1338.1,1331.1 1338.7,1331.1 1339.4,1331.1 1340.0,1331.2 1340.7,1330.8 1341.3,1331.2 1342.0,1331.0 1342.6,1331.0 1343.3,1331.2 1343.9,1331.0 1344.6,1331.0 1345.2,1330.9 1345.9,1331.3 1346.5,1330.8 1347.2,1331.3 1347.8,1331.2 1348.4,1331.3 1349.1,1330.9 1349.7,1331.2 1350.4,1331.2 1351.0,1331.1 1351.7,1331.1 1352.3,1330.9 1353.0,1331.1 1353.6,1330.9 1354.3,1330.9 1354.9,1331.1 1355.6,1330.7 1356.2,1331.1 1356.9,1330.8 1357.5,1331.2 1358.2,1331.2 1358.8,1330.9 1359.4,1331.1 1360.1,1331.0 1360.7,1331.1 1361.4,1331.2 1362.0,1331.2 1362.7,1331.0 1363.3,1331.0 1364.0,1330.9 1364.6,1330.9 1365.3,1331.0 1365.9,1331.2 1366.6,1331.2 1367.2,1331.1 1367.9,1331.1 1368.5,1331.1 1369.2,1330.7 1369.8,1331.3 1370.4,1331.0 1371.1,1331.3 1371.7,1331.3 1372.4,1331.3 1373.0,1331.3 1373.7,1331.2 1374.3,1331.3 1375.0,1331.1 1375.6,1331.2 1376.3,1330.9 1376.9,1331.3 1377.6,1331.1 1378.2,1331.1 1378.9,1331.2 1379.5,1331.2 1380.2,1331.0 1380.8,1331.0 1381.4,1331.3 1382.1,1331.2 1382.7,1331.1 1383.4,1330.9 1384.0,1331.2 1384.7,1331.0 1385.3,1331.2 1386.0,1331.2 1386.6,1331.3 1387.3,1331.0 1387.9,1331.0 1388.6,1331.0 1389.2,1330.8 1389.9,1331.2 1390.5,1331.3 1391.2,1330.7 1391.8,1330.9 1392.4,1331.1 1393.1,1331.3 1393.7,1331.3 1394.4,1330.9 1395.0,1331.2 1395.7,1331.1 1396.3,1331.0 1397.0,1329.9 1397.6,1330.9 1398.3,1330.8 1398.9,1331.1 1399.6,1330.9 1400.2,1331.0 1400.9,1331.1 1401.5,1331.1 1402.2,1331.3 1402.8,1331.2 1403.4,1331.2 1404.1,1331.3 1404.7,1331.2 1405.4,1331.2 1406.0,1331.2 1406.7,1331.2 1407.3,1331.2 1408.0,1331.2 1408.6,1331.3 1409.3,1331.1 1409.9,1331.3 1410.6,1331.3 1411.2,1331.2 1411.9,1330.9 1412.5,1331.0 1413.1,1331.1 1413.8,1331.2 1414.4,1330.8 1415.1,1331.3 1415.7,1331.2 1416.4,1330.8 1417.0,1331.1 1417.7,1330.9 1418.3,1331.1 1419.0,1331.2 1419.6,1331.1 1420.3,1330.9 1420.9,1331.2 1421.6,1330.8 1422.2,1330.5 1422.9,1331.3 1423.5,1331.0 1424.1,1330.8 1424.8,1330.9 1425.4,1331.2 1426.1,1330.7 1426.7,1330.9 1427.4,1331.0 1428.0,1331.1 1428.7,1331.0 1429.3,1330.9 1430.0,1331.2 1430.6,1330.8 1431.3,1331.0 1431.9,1331.1 1432.6,1331.2 1433.2,1331.1 1433.9,1331.3 1434.5,1331.2 1435.1,1331.0 1435.8,1331.3 1436.4,1330.8 1437.1,1330.9 1437.7,1331.2 1438.4,1330.9 1439.0,1331.2 1439.7,1330.9 1440.3,1331.0 1441.0,1331.2 1441.6,1331.3 1442.3,1331.0 1442.9,1331.1 1443.6,1331.2 1444.2,1330.8 1444.9,1331.2 1445.5,1331.0 1446.1,1331.3 1446.8,1331.2 1447.4,1331.3 1448.1,1331.2 1448.7,1331.0 1449.4,1330.9 1450.0,1331.1 1450.7,1331.3 1451.3,1331.1 1452.0,1331.0 1452.6,1331.2 1453.3,1331.2 1453.9,1331.1 1454.6,1331.0 1455.2,1330.7 1455.9,1331.2 1456.5,1331.0 1457.1,1330.9 1457.8,1331.3 1458.4,1331.0 1459.1,1331.3 1459.7,1330.8 1460.4,1331.3 1461.0,1331.1 1461.7,1331.1 1462.3,1331.1 1463.0,1331.2 1463.6,1331.2 1464.3,1331.3 1464.9,1331.2 1465.6,1330.9 1466.2,1331.2 1466.8,1331.1 1467.5,1331.2 1468.1,1331.2 1468.8,1331.2 1469.4,1330.9 1470.1,1331.1 1470.7,1331.2 1471.4,1330.9 1472.0,1331.2 1472.7,1331.2 1473.3,1331.2 1474.0,1331.1 1474.6,1331.1 1475.3,1331.1 1475.9,1331.2 1476.6,1331.1 1477.2,1331.1 1477.8,1330.8 1478.5,1330.9 1479.1,1331.1 1479.8,1330.7 1480.4,1330.9 1481.1,1331.2 1481.7,1330.9 1482.4,1330.9 1483.0,1330.9 1483.7,1330.8 1484.3,1331.0 1485.0,1331.0 1485.6,1331.1 1486.3,1331.1 1486.9,1331.1 1487.6,1331.0 1488.2,1331.0 1488.8,1330.5 1489.5,1330.7 1490.1,1330.3 1490.8,1330.9 1491.4,1330.3 1492.1,1330.8 1492.7,1330.7 1493.4,1330.6 1494.0,1330.3 1494.7,1330.5 1495.3,1330.2 1496.0,1329.8 1496.6,1329.4 1497.3,1329.2 1497.9,1328.1 1498.6,1327.4 1499.2,1325.4 1499.8,1323.6 1500.5,1321.2 1501.1,1320.1 1501.8,1320.8 1502.4,1322.8 1503.1,1324.6 1503.7,1325.7 1504.4,1325.9 1505.0,1326.0 1505.7,1325.6 1506.3,1325.3 1507.0,1324.8 1507.6,1325.6 1508.3,1327.1 1508.9,1327.8 1509.6,1328.3 1510.2,1328.7 1510.8,1328.8 1511.5,1328.8 1512.1,1328.7 1512.8,1328.4 1513.4,1328.1 1514.1,1327.7 1514.7,1326.8 1515.4,1325.8 1516.0,1324.2 1516.7,1321.6 1517.3,1318.0 1518.0,1313.1 1518.6,1305.3 1519.3,1296.6 1519.9,1288.8 1520.6,1286.1 1521.2,1290.8 1521.8,1299.1 1522.5,1306.0 1523.1,1310.5 1523.8,1312.0 1524.4,1311.4 1525.1,1309.2 1525.7,1307.5 1526.4,1309.1 1527.0,1312.8 1527.7,1317.3 1528.3,1321.2 1529.0,1323.7 1529.6,1325.8 1530.3,1327.1 1530.9,1327.9 1531.5,1328.7 1532.2,1329.1 1532.8,1329.6 1533.5,1329.4 1534.1,1329.9 1534.8,1329.6 1535.4,1330.4 1536.1,1330.3 1536.7,1330.3 1537.4,1330.3 1538.0,1330.4 1538.7,1330.8 1539.3,1330.9 1540.0,1330.9 1540.6,1330.8 1541.3,1331.0 1541.9,1331.0 1542.5,1331.0 1543.2,1330.9 1543.8,1331.0 1544.5,1331.0 1545.1,1330.8 1545.8,1331.0 1546.4,1331.1 1547.1,1330.8 1547.7,1330.9 1548.4,1331.1 1549.0,1330.9 1549.7,1330.9 1550.3,1331.0 1551.0,1331.1 1551.6,1330.9 1552.3,1331.1 1552.9,1330.7 1553.5,1331.1 1554.2,1330.8 1554.8,1331.2 1555.5,1331.1 1556.1,1331.1 1556.8,1331.1 1557.4,1331.1 1558.1,1331.1 1558.7,1330.8 1559.4,1331.2 1560.0,1331.2 1560.7,1331.0 1561.3,1330.8 1562.0,1330.9 1562.6,1331.1 1563.3,1331.1 1563.9,1331.2 1564.5,1330.8 1565.2,1331.2 1565.8,1331.0 1566.5,1330.9 1567.1,1331.1 1567.8,1331.1 1568.4,1331.3 1569.1,1331.1 1569.7,1331.2 1570.4,1331.0 1571.0,1331.2 1571.7,1331.3 1572.3,1331.1 1573.0,1331.1 1573.6,1331.3 1574.3,1331.1 1574.9,1331.0 1575.5,1331.1 1576.2,1331.1 1576.8,1331.2 1577.5,1331.2 1578.1,1331.3 1578.8,1331.2 1579.4,1331.1 1580.1,1331.1 1580.7,1330.9 1581.4,1331.1 1582.0,1331.0 1582.7,1331.1 1583.3,1331.1 1584.0,1331.2 1584.6,1331.2 1585.3,1331.2 1585.9,1331.2 1586.5,1331.1 1587.2,1331.1 1587.8,1331.2 1588.5,1331.2 1589.1,1331.3 1589.8,1330.8 1590.4,1330.9 1591.1,1331.1 1591.7,1331.2 1592.4,1331.3 1593.0,1331.1 1593.7,1330.9 1594.3,1331.0 1595.0,1331.3 1595.6,1331.0 1596.2,1331.1 1596.9,1331.1 1597.5,1331.2 1598.2,1331.1 1598.8,1330.6 1599.5,1331.0 1600.1,1330.8 1600.8,1330.9 1601.4,1331.0 1602.1,1330.9 1602.7,1331.1 1603.4,1331.1 1604.0,1331.2 1604.7,1330.7 1605.3,1330.9 1606.0,1331.0 1606.6,1331.0 1607.2,1330.5 1607.9,1331.2 1608.5,1331.1 1609.2,1331.2 1609.8,1331.2 1610.5,1331.2 1611.1,1331.1 1611.8,1331.2 1612.4,1331.2 1613.1,1331.1 1613.7,1330.9 1614.4,1331.0 1615.0,1331.2 1615.7,1331.2 1616.3,1330.7 1617.0,1331.3 1617.6,1330.9 1618.2,1331.2 1618.9,1331.1 1619.5,1331.3 1620.2,1331.1 1620.8,1331.1 1621.5,1330.6 1622.1,1331.0 1622.8,1331.1 1623.4,1331.1 1624.1,1330.8 1624.7,1330.9 1625.4,1331.0 1626.0,1330.8 1626.7,1331.0 1627.3,1331.1 1628.0,1331.1 1628.6,1330.9 1629.2,1330.9 1629.9,1330.9 1630.5,1331.1 1631.2,1330.8 1631.8,1331.2 1632.5,1331.2 1633.1,1330.8 1633.8,1330.7 1634.4,1330.7 1635.1,1331.1 1635.7,1330.7 1636.4,1331.1 1637.0,1330.9 1637.7,1330.9 1638.3,1331.3 1639.0,1330.9 1639.6,1331.3 1640.2,1331.0 1640.9,1331.1 1641.5,1330.9 1642.2,1329.9 1642.8,1330.7 1643.5,1331.3 1644.1,1330.7 1644.8,1331.3 1645.4,1331.0 1646.1,1330.9 1646.7,1331.3 1647.4,1331.1 1648.0,1330.9 1648.7,1331.3 1649.3,1331.2 1650.0,1330.8 1650.6,1331.1 1651.2,1331.3 1651.9,1331.2 1652.5,1330.9 1653.2,1331.2 1653.8,1330.9 1654.5,1331.2 1655.1,1331.3 1655.8,1331.2 1656.4,1331.2 1657.1,1331.1 1657.7,1331.1 1658.4,1331.1 1659.0,1330.9 1659.7,1331.1 1660.3,1331.1 1661.0,1331.2 1661.6,1331.1 1662.2,1331.2 1662.9,1331.0 1663.5,1330.6 1664.2,1331.0 1664.8,1331.1 1665.5,1331.3 1666.1,1331.2 1666.8,1331.2 1667.4,1331.1 1668.1,1331.1 1668.7,1331.2 1669.4,1331.0 1670.0,1331.3 1670.7,1331.3 1671.3,1331.1 1671.9,1331.0 1672.6,1331.1 1673.2,1331.2 1673.9,1331.2 1674.5,1330.6 1675.2,1331.0 1675.8,1330.9 1676.5,1330.9 1677.1,1330.7 1677.8,1331.2 1678.4,1331.2 1679.1,1331.0 1679.7,1331.2 1680.4,1330.9 1681.0,1330.8 1681.7,1330.9 1682.3,1331.1 1682.9,1331.0 1683.6,1331.0 1684.2,1331.1 1684.9,1331.1 1685.5,1331.1 1686.2,1331.2 1686.8,1330.6 1687.5,1330.9 1688.1,1330.8 1688.8,1331.1 1689.4,1331.1 1690.1,1331.2 1690.7,1330.7 1691.4,1330.9 1692.0,1330.7 1692.7,1330.9 1693.3,1331.2 1693.9,1330.7 1694.6,1330.9 1695.2,1330.9 1695.9,1331.1 1696.5,1331.2 1697.2,1331.1 1697.8,1330.8 1698.5,1331.0 1699.1,1330.9 1699.8,1330.7 1700.4,1330.6 1701.1,1331.2 1701.7,1331.0 1702.4,1331.1 1703.0,1331.0 1703.7,1330.8 1704.3,1330.7 1704.9,1331.0 1705.6,1330.9 1706.2,1330.7 1706.9,1330.8 1707.5,1330.7 1708.2,1330.6 1708.8,1330.4 1709.5,1330.4 1710.1,1329.5 1710.8,1329.9 1711.4,1329.7 1712.1,1329.2 1712.7,1328.7 1713.4,1328.1 1714.0,1326.6 1714.7,1325.2 1715.3,1323.1 1715.9,1320.0 1716.6,1316.3 1717.2,1314.3 1717.9,1314.8 1718.5,1317.9 1719.2,1321.0 1719.8,1323.0 1720.5,1324.5 1721.1,1325.2 1721.8,1324.6 1722.4,1323.9 1723.1,1322.6 1723.7,1322.6 1724.4,1323.6 1725.0,1325.3 1725.7,1326.9 1726.3,1328.0 1726.9,1328.9 1727.6,1329.4 1728.2,1329.7 1728.9,1330.1 1729.5,1330.3 1730.2,1330.4 1730.8,1329.8 1731.5,1330.5 1732.1,1330.7 1732.8,1330.5 1733.4,1330.4 1734.1,1330.6 1734.7,1331.0 1735.4,1330.9 1736.0,1330.8 1736.6,1331.1 1737.3,1331.0 1737.9,1330.9 1738.6,1330.8 1739.2,1331.1 1739.9,1331.1 1740.5,1331.1 1741.2,1331.1 1741.8,1330.7 1742.5,1331.1 1743.1,1331.0 1743.8,1331.1 1744.4,1330.9 1745.1,1330.9 1745.7,1331.0 1746.4,1331.0 1747.0,1331.1 1747.6,1330.7 1748.3,1331.1 1748.9,1331.0 1749.6,1330.9 1750.2,1331.0 1750.9,1330.7 1751.5,1330.6 1752.2,1331.0 1752.8,1330.9 1753.5,1330.7 1754.1,1331.0 1754.8,1330.9 1755.4,1330.9 1756.1,1330.7 1756.7,1330.7 1757.4,1330.7 1758.0,1330.0 1758.6,1330.4 1759.3,1330.2 1759.9,1330.3 1760.6,1330.0 1761.2,1329.8 1761.9,1329.2 1762.5,1328.7 1763.2,1327.7 1763.8,1326.5 1764.5,1325.0 1765.1,1322.5 1765.8,1319.3 1766.4,1315.1 1767.1,1313.1 1767.7,1313.4 1768.4,1316.2 1769.0,1319.7 1769.6,1322.2 1770.3,1323.6 1770.9,1324.9 1771.6,1324.8 1772.2,1323.8 1772.9,1322.8 1773.5,1321.6 1774.2,1322.2 1774.8,1323.9 1775.5,1325.9 1776.1,1326.9 1776.8,1328.1 1777.4,1328.9 1778.1,1329.7 1778.7,1330.0 1779.4,1330.2 1780.0,1330.2 1780.6,1330.4 1781.3,1330.5 1781.9,1330.5 1782.6,1330.5 1783.2,1330.9 1783.9,1331.0 1784.5,1330.7 1785.2,1331.1 1785.8,1330.9 1786.5,1330.7 1787.1,1330.9 1787.8,1330.8 1788.4,1331.0 1789.1,1331.1 1789.7,1331.2 1790.3,1331.2 1791.0,1331.0 1791.6,1330.9 1792.3,1331.0 1792.9,1331.2 1793.6,1331.0 1794.2,1330.9 1794.9,1331.1 1795.5,1331.2 1796.2,1331.2 1796.8,1330.9 1797.5,1331.0 1798.1,1330.6 1798.8,1331.2 1799.4,1331.2 1800.1,1331.0 1800.7,1331.1 1801.3,1331.2 1802.0,1331.0 1802.6,1330.9 1803.3,1331.0 1803.9,1331.2 1804.6,1331.3 1805.2,1330.8 1805.9,1331.1 1806.5,1331.0 1807.2,1331.3 1807.8,1331.3 1808.5,1331.2 1809.1,1331.2 1809.8,1331.2 1810.4,1331.1 1811.1,1330.9 1811.7,1331.0 1812.3,1331.0 1813.0,1331.1 1813.6,1331.0 1814.3,1331.1 1814.9,1331.1 1815.6,1331.0 1816.2,1330.8 1816.9,1331.1 1817.5,1331.1 1818.2,1331.3 1818.8,1330.6 1819.5,1330.9 1820.1,1331.2 1820.8,1331.2 1821.4,1330.9 1822.1,1331.1 1822.7,1331.0 1823.3,1331.0 1824.0,1331.3 1824.6,1331.3 1825.3,1331.0 1825.9,1331.0 1826.6,1331.3 1827.2,1331.2 1827.9,1331.2 1828.5,1331.3 1829.2,1331.0 1829.8,1331.3 1830.5,1331.0 1831.1,1331.0 1831.8,1331.0 1832.4,1331.2 1833.1,1331.0 1833.7,1331.3 1834.3,1331.1 1835.0,1331.2 1835.6,1331.0 1836.3,1331.3 1836.9,1331.1 1837.6,1331.2 1838.2,1331.2 1838.9,1331.0 1839.5,1331.0 1840.2,1331.3 1840.8,1331.2 1841.5,1330.8 1842.1,1331.2 1842.8,1331.0 1843.4,1331.0 1844.1,1330.9 1844.7,1331.2 1845.3,1330.8 1846.0,1331.0 1846.6,1331.0 1847.3,1331.2 1847.9,1331.2 1848.6,1330.9 1849.2,1330.7 1849.9,1331.2 1850.5,1331.2 1851.2,1331.0 1851.8,1331.3 1852.5,1331.2 1853.1,1330.7 1853.8,1331.0 1854.4,1331.2 1855.0,1331.2 1855.7,1331.1 1856.3,1331.1 1857.0,1331.1 1857.6,1331.1 1858.3,1331.2 1858.9,1330.9 1859.6,1330.9 1860.2,1330.8 1860.9,1331.2 1861.5,1331.3 1862.2,1331.3 1862.8,1331.1 1863.5,1330.9 1864.1,1330.9 1864.8,1331.2 1865.4,1331.1 1866.0,1330.8 1866.7,1331.0 1867.3,1331.1 1868.0,1331.1 1868.6,1330.9 1869.3,1331.1 1869.9,1331.2 1870.6,1330.9 1871.2,1330.8 1871.9,1331.2 1872.5,1330.7 1873.2,1331.2 1873.8,1331.2 1874.5,1331.2 1875.1,1330.8 1875.8,1331.0 1876.4,1331.2 1877.0,1331.2 1877.7,1330.8 1878.3,1331.2 1879.0,1331.2 1879.6,1330.5 1880.3,1331.0 1880.9,1331.3 1881.6,1331.3 1882.2,1331.1 1882.9,1331.1 1883.5,1331.2 1884.2,1330.9 1884.8,1330.9 1885.5,1331.2 1886.1,1331.1 1886.8,1330.7 1887.4,1331.0 1888.0,1331.0 1888.7,1331.0 1889.3,1331.2 1890.0,1331.0 1890.6,1331.2 1891.3,1331.1 1891.9,1331.0 1892.6,1331.1 1893.2,1331.1 1893.9,1331.0 1894.5,1331.1 1895.2,1330.7 1895.8,1331.1 1896.5,1331.0 1897.1,1331.2 1897.8,1331.0 1898.4,1330.9 1899.0,1331.0 1899.7,1330.8 1900.3,1331.1 1901.0,1331.0 1901.6,1330.9 1902.3,1331.1 1902.9,1330.7 1903.6,1331.0 1904.2,1330.9 1904.9,1330.7 1905.5,1330.8 1906.2,1330.9 1906.8,1330.5 1907.5,1330.7 1908.1,1330.3 1908.8,1330.7 1909.4,1330.6 1910.0,1330.5 1910.7,1330.4 1911.3,1330.1 1912.0,1329.7 1912.6,1329.6 1913.3,1329.1 1913.9,1329.0 1914.6,1328.5 1915.2,1327.7 1915.9,1326.5 1916.5,1325.2 1917.2,1322.8 1917.8,1319.4 1918.5,1314.6 1919.1,1308.0 1919.8,1302.7 1920.4,1301.0 1921.0,1303.7 1921.7,1309.6 1922.3,1314.7 1923.0,1318.7 1923.6,1321.2 1924.3,1322.1 1924.9,1322.0 1925.6,1320.5 1926.2,1318.6 1926.9,1316.4 1927.5,1316.5 1928.2,1318.2 1928.8,1321.1 1929.5,1324.0 1930.1,1325.6 1930.7,1327.4 1931.4,1328.3 1932.0,1328.9 1932.7,1329.4 1933.3,1329.7 1934.0,1329.9 1934.6,1330.2 1935.3,1330.3 1935.9,1330.2 1936.6,1330.5 1937.2,1330.6 1937.9,1330.5 1938.5,1330.6 1939.2,1330.4 1939.8,1330.9 1940.5,1330.6 1941.1,1330.8 1941.7,1330.9 1942.4,1330.7 1943.0,1330.7 1943.7,1330.4 1944.3,1330.7 1945.0,1330.7 1945.6,1330.6 1946.3,1330.6 1946.9,1330.3 1947.6,1330.2 1948.2,1329.8 1948.9,1329.2 1949.5,1327.3 1950.2,1327.8 1950.8,1326.5 1951.5,1325.0 1952.1,1323.9 1952.7,1324.3 1953.4,1325.5 1954.0,1326.7 1954.7,1327.8 1955.3,1328.5 1956.0,1329.0 1956.6,1329.0 1957.3,1328.6 1957.9,1328.3 1958.6,1328.1 1959.2,1327.6 1959.9,1327.7 1960.5,1328.4 1961.2,1328.8 1961.8,1329.4 1962.5,1330.2 1963.1,1330.4 1963.7,1330.5 1964.4,1330.3 1965.0,1330.5 1965.7,1330.9 1966.3,1330.8 1967.0,1330.9 1967.6,1330.8 1968.3,1331.1 1968.9,1331.0 1969.6,1330.9 1970.2,1331.0 1970.9,1331.0 1971.5,1330.9 1972.2,1331.1 1972.8,1331.1 1973.5,1331.1 1974.1,1331.2 1974.7,1331.2 1975.4,1331.1 1976.0,1331.0 1976.7,1331.1 1977.3,1330.8 1978.0,1330.6 1978.6,1330.9 1979.3,1331.1 1979.9,1330.9 1980.6,1331.2 1981.2,1331.1 1981.9,1330.8 1982.5,1331.1 1983.2,1329.5 1983.8,1331.0 1984.5,1331.2 1985.1,1331.1 1985.7,1331.2 1986.4,1331.2 1987.0,1331.0 1987.7,1331.2 1988.3,1331.0 1989.0,1331.2 1989.6,1330.9 1990.3,1331.0 1990.9,1331.0 1991.6,1331.2 1992.2,1330.9 1992.9,1331.1 1993.5,1331.0 1994.2,1331.3 1994.8,1331.3 1995.4,1330.9 1996.1,1330.7 1996.7,1331.1 1997.4,1331.3 1998.0,1331.2 1998.7,1330.9 1999.3,1330.9 2000.0,1330.6 2000.6,1331.1 2001.3,1331.3 2001.9,1331.2 2002.6,1331.1 2003.2,1331.3 2003.9,1331.3 2004.5,1331.1 2005.2,1331.3 2005.8,1331.2 2006.4,1330.8 2007.1,1331.0 2007.7,1331.2 2008.4,1330.9 2009.0,1331.1 2009.7,1331.3 2010.3,1331.1 2011.0,1331.2 2011.6,1330.9 2012.3,1331.0 2012.9,1331.0 2013.6,1331.1 2014.2,1331.1 2014.9,1331.1 2015.5,1330.7 2016.2,1331.2 2016.8,1331.3 2017.4,1330.8 2018.1,1330.9 2018.7,1331.3 2019.4,1330.8 2020.0,1331.0 2020.7,1331.2 2021.3,1331.2 2022.0,1331.0 2022.6,1331.1 2023.3,1331.0 2023.9,1331.0 2024.6,1331.0 2025.2,1331.2 2025.9,1331.1 2026.5,1330.9 2027.2,1331.0 2027.8,1331.2 2028.4,1330.8 2029.1,1331.2 2029.7,1331.2 2030.4,1331.1 2031.0,1330.8 2031.7,1331.1 2032.3,1331.2 2033.0,1331.0 2033.6,1331.1 2034.3,1330.8 2034.9,1331.2 2035.6,1331.2 2036.2,1331.2 2036.9,1331.2 2037.5,1331.2 2038.2,1330.8 2038.8,1331.2 2039.4,1330.7 2040.1,1330.6 2040.7,1331.2 2041.4,1331.3 2042.0,1331.3 2042.7,1331.3 2043.3,1331.2 2044.0,1331.0 2044.6,1331.1 2045.3,1331.0 2045.9,1331.2 2046.6,1330.2 2047.2,1330.9 2047.9,1331.1 2048.5,1330.9 2049.2,1331.1 2049.8,1331.0 2050.4,1331.1 2051.1,1330.9 2051.7,1331.0 2052.4,1331.0 2053.0,1331.1 2053.7,1331.2 2054.3,1331.1 2055.0,1331.2 2055.6,1331.1 2056.3,1331.0 2056.9,1331.0 2057.6,1331.2 2058.2,1331.0 2058.9,1331.1 2059.5,1331.1 2060.1,1330.8 2060.8,1331.1 2061.4,1331.3 2062.1,1330.8 2062.7,1331.1 2063.4,1331.1 2064.0,1331.3 2064.7,1331.0 2065.3,1331.3 2066.0,1330.8 2066.6,1331.0 2067.3,1331.3 2067.9,1331.1 2068.6,1331.1 2069.2,1331.0 2069.9,1331.1 2070.5,1331.3 2071.1,1331.2 2071.8,1331.2 2072.4,1331.1 2073.1,1330.6 2073.7,1331.3 2074.4,1331.3 2075.0,1331.2 2075.7,1331.2 2076.3,1331.0 2077.0,1331.3 2077.6,1331.2 2078.3,1330.9 2078.9,1330.7 2079.6,1330.7 2080.2,1331.0 2080.9,1331.0 2081.5,1331.0" fill="none" stroke="#000000" stroke-width="8.6" stroke-linejoin="round" stroke-linecap="butt"/>
<polyline points="140.5,902.1 141.1,902.4 141.8,902.4 142.4,902.4 143.1,902.3 143.7,902.3 144.4,902.0 145.0,902.3 145.7,902.5 146.3,902.4 147.0,902.4 147.6,902.0 148.3,902.0 148.9,902.5 149.6,902.5 150.2,902.3 150.9,902.2 151.5,902.5 152.1,902.2 152.8,902.4 153.4,902.3 154.1,902.4 154.7,902.5 155.4,902.3 156.0,902.2 156.7,902.3 157.3,902.0 158.0,902.0 158.6,902.6 159.3,902.3 159.9,902.4 160.6,902.5 161.2,902.5 161.9,902.5 162.5,902.3 163.1,902.4 163.8,902.6 164.4,902.5 165.1,902.0 165.7,902.0 166.4,902.6 167.0,902.6 167.7,902.1 168.3,902.4 169.0,902.6 169.6,902.4 170.3,902.2 170.9,902.4 171.6,902.5 172.2,902.2 172.8,902.2 173.5,902.5 174.1,902.2 174.8,902.6 175.4,902.4 176.1,902.6 176.7,902.3 177.4,902.4 178.0,902.4 178.7,902.2 179.3,902.4 180.0,902.4 180.6,902.5 181.3,902.3 181.9,902.4 182.6,902.6 183.2,902.1 183.8,902.2 184.5,902.5 185.1,902.5 185.8,902.4 186.4,902.5 187.1,902.4 187.7,902.3 188.4,902.6 189.0,902.3 189.7,902.5 190.3,902.6 191.0,902.5 191.6,902.4 192.3,902.4 192.9,902.2 193.6,902.2 194.2,902.3 194.8,902.3 195.5,902.5 196.1,902.4 196.8,902.3 197.4,902.5 198.1,902.3 198.7,902.5 199.4,902.2 200.0,902.4 200.7,902.5 201.3,902.6 202.0,902.2 202.6,902.2 203.3,902.3 203.9,902.5 204.6,902.6 205.2,902.5 205.8,902.4 206.5,902.4 207.1,902.2 207.8,902.5 208.4,902.3 209.1,902.5 209.7,902.3 210.4,902.6 211.0,902.3 211.7,902.0 212.3,902.4 213.0,902.5 213.6,901.9 214.3,902.3 214.9,902.4 215.6,902.5 216.2,902.4 216.8,902.5 217.5,902.3 218.1,902.5 218.8,902.4 219.4,902.2 220.1,902.5 220.7,902.4 221.4,902.5 222.0,902.4 222.7,902.2 223.3,902.5 224.0,902.4 224.6,902.5 225.3,902.5 225.9,902.3 226.6,902.5 227.2,902.2 227.8,902.4 228.5,902.5 229.1,902.2 229.8,902.5 230.4,902.4 231.1,902.1 231.7,902.3 232.4,902.2 233.0,902.5 233.7,902.2 234.3,902.3 235.0,902.2 235.6,902.3 236.3,902.5 236.9,902.5 237.6,902.5 238.2,902.6 238.8,902.3 239.5,902.1 240.1,902.4 240.8,902.6 241.4,902.0 242.1,902.6 242.7,902.2 243.4,902.2 244.0,902.4 244.7,902.2 245.3,902.5 246.0,902.5 246.6,902.3 247.3,902.5 247.9,902.2 248.5,902.2 249.2,902.3 249.8,902.6 250.5,902.2 251.1,902.4 251.8,902.5 252.4,902.4 253.1,902.5 253.7,902.3 254.4,902.6 255.0,901.0 255.7,902.3 256.3,902.6 257.0,902.5 257.6,902.5 258.3,902.4 258.9,902.5 259.5,902.4 260.2,902.5 260.8,902.2 261.5,902.2 262.1,902.0 262.8,902.3 263.4,902.5 264.1,902.5 264.7,902.5 265.4,902.1 266.0,902.5 266.7,902.4 267.3,902.3 268.0,902.4 268.6,902.2 269.3,902.4 269.9,902.1 270.5,902.4 271.2,902.4 271.8,902.5 272.5,902.4 273.1,902.4 273.8,902.4 274.4,902.3 275.1,902.4 275.7,902.1 276.4,901.9 277.0,901.9 277.7,902.3 278.3,902.4 279.0,902.0 279.6,902.4 280.3,902.4 280.9,902.3 281.5,902.1 282.2,901.8 282.8,902.3 283.5,901.9 284.1,902.3 284.8,902.1 285.4,902.3 286.1,902.3 286.7,902.1 287.4,902.2 288.0,902.3 288.7,902.3 289.3,902.3 290.0,901.9 290.6,901.4 291.3,902.0 291.9,902.1 292.5,901.7 293.2,902.1 293.8,901.7 294.5,901.8 295.1,900.2 295.8,901.5 296.4,900.9 297.1,901.4 297.7,901.4 298.4,901.1 299.0,901.0 299.7,901.1 300.3,900.9 301.0,900.5 301.6,900.3 302.2,899.7 302.9,898.9 303.5,898.5 304.2,897.4 304.8,896.8 305.5,895.3 306.1,893.2 306.8,890.2 307.4,886.2 308.1,880.2 308.7,870.9 309.4,858.6 310.0,841.9 310.7,825.3 311.3,815.3 312.0,816.4 312.6,824.3 313.2,834.8 313.9,847.2 314.5,860.7 315.2,872.4 315.8,880.6 316.5,886.4 317.1,890.6 317.8,893.5 318.4,895.2 319.1,896.9 319.7,897.8 320.4,898.8 321.0,899.1 321.7,900.0 322.3,900.2 323.0,900.3 323.6,900.5 324.2,900.7 324.9,901.3 325.5,901.4 326.2,901.6 326.8,901.5 327.5,901.5 328.1,901.8 328.8,901.6 329.4,901.6 330.1,901.6 330.7,902.1 331.4,901.7 332.0,902.0 332.7,902.1 333.3,902.0 334.0,902.2 334.6,902.2 335.2,902.3 335.9,901.7 336.5,902.3 337.2,902.1 337.8,901.9 338.5,902.2 339.1,902.1 339.8,901.8 340.4,902.3 341.1,902.3 341.7,902.3 342.4,902.2 343.0,902.3 343.7,902.4 344.3,902.2 345.0,902.3 345.6,902.4 346.2,902.0 346.9,901.9 347.5,902.2 348.2,902.3 348.8,902.3 349.5,902.5 350.1,902.2 350.8,902.4 351.4,901.9 352.1,902.5 352.7,901.7 353.4,902.3 354.0,902.3 354.7,902.2 355.3,902.1 356.0,902.4 356.6,902.3 357.2,902.4 357.9,902.4 358.5,902.2 359.2,902.3 359.8,902.1 360.5,902.2 361.1,902.2 361.8,902.0 362.4,902.0 363.1,901.6 363.7,901.9 364.4,902.0 365.0,901.7 365.7,901.5 366.3,901.2 366.9,901.4 367.6,901.1 368.2,901.0 368.9,900.5 369.5,900.1 370.2,899.6 370.8,898.9 371.5,897.8 372.1,896.5 372.8,894.4 373.4,892.3 374.1,889.2 374.7,884.3 375.4,877.4 376.0,866.6 376.7,850.7 377.3,826.8 377.9,791.1 378.6,740.3 379.2,675.2 379.9,606.8 380.5,554.0 381.2,539.4 381.8,557.2 382.5,594.5 383.1,642.4 383.8,696.0 384.4,749.3 385.1,793.9 385.7,827.7 386.4,851.1 387.0,866.9 387.7,877.5 388.3,884.4 388.9,889.5 389.6,892.6 390.2,894.7 390.9,896.9 391.5,897.9 392.2,899.0 392.8,899.7 393.5,900.2 394.1,900.5 394.8,900.9 395.4,900.9 396.1,901.5 396.7,901.6 397.4,901.7 398.0,901.8 398.7,901.5 399.3,902.0 399.9,901.7 400.6,902.2 401.2,902.2 401.9,902.0 402.5,902.1 403.2,902.3 403.8,902.3 404.5,902.2 405.1,902.4 405.8,902.4 406.4,902.1 407.1,902.4 407.7,902.0 408.4,902.2 409.0,902.3 409.7,902.2 410.3,902.3 410.9,902.5 411.6,902.5 412.2,902.4 412.9,902.4 413.5,902.3 414.2,902.3 414.8,902.4 415.5,902.5 416.1,902.2 416.8,902.1 417.4,902.5 418.1,902.4 418.7,902.3 419.4,900.5 420.0,902.4 420.7,902.5 421.3,902.3 421.9,902.3 422.6,902.2 423.2,902.2 423.9,902.6 424.5,902.3 425.2,902.4 425.8,902.5 426.5,902.5 427.1,902.3 427.8,902.5 428.4,902.2 429.1,902.0 429.7,902.5 430.4,902.5 431.0,902.4 431.6,902.4 432.3,902.4 432.9,902.4 433.6,902.6 434.2,902.5 434.9,902.4 435.5,902.3 436.2,902.6 436.8,902.2 437.5,902.4 438.1,902.5 438.8,902.5 439.4,902.5 440.1,902.3 440.7,902.2 441.4,902.5 442.0,902.2 442.6,902.3 443.3,902.6 443.9,902.2 444.6,902.3 445.2,902.5 445.9,902.4 446.5,902.2 447.2,902.3 447.8,902.5 448.5,901.8 449.1,901.9 449.8,901.9 450.4,902.6 451.1,902.5 451.7,902.4 452.4,902.5 453.0,902.1 453.6,902.4 454.3,902.3 454.9,902.6 455.6,902.4 456.2,902.3 456.9,902.5 457.5,902.5 458.2,902.5 458.8,902.4 459.5,902.1 460.1,902.6 460.8,902.0 461.4,902.5 462.1,901.8 462.7,902.5 463.4,902.4 464.0,902.4 464.6,902.1 465.3,902.1 465.9,902.5 466.6,902.5 467.2,902.5 467.9,902.3 468.5,902.5 469.2,902.6 469.8,902.6 470.5,902.1 471.1,902.6 471.8,902.6 472.4,902.6 473.1,902.6 473.7,901.9 474.4,902.2 475.0,902.6 475.6,902.5 476.3,902.4 476.9,902.6 477.6,902.5 478.2,902.4 478.9,902.5 479.5,902.4 480.2,902.0 480.8,902.4 481.5,902.5 482.1,902.4 482.8,902.6 483.4,902.3 484.1,902.4 484.7,902.4 485.4,902.0 486.0,902.4 486.6,902.5 487.3,902.4 487.9,902.6 488.6,902.2 489.2,902.3 489.9,902.5 490.5,902.5 491.2,902.4 491.8,902.5 492.5,902.3 493.1,901.5 493.8,902.4 494.4,901.7 495.1,902.5 495.7,902.5 496.4,902.5 497.0,902.3 497.6,902.5 498.3,902.5 498.9,902.1 499.6,902.4 500.2,902.1 500.9,902.5 501.5,902.2 502.2,902.5 502.8,902.3 503.5,901.8 504.1,902.3 504.8,902.6 505.4,902.2 506.1,902.4 506.7,902.2 507.3,902.5 508.0,900.8 508.6,902.5 509.3,902.4 509.9,901.4 510.6,902.3 511.2,902.3 511.9,902.3 512.5,902.5 513.2,902.5 513.8,902.3 514.5,902.2 515.1,902.5 515.8,902.3 516.4,902.3 517.1,902.6 517.7,901.9 518.3,902.2 519.0,902.5 519.6,902.6 520.3,902.5 520.9,902.4 521.6,902.5 522.2,902.5 522.9,902.5 523.5,902.3 524.2,902.2 524.8,902.4 525.5,902.4 526.1,902.1 526.8,902.3 527.4,902.4 528.1,902.5 528.7,902.5 529.3,902.6 530.0,902.2 530.6,902.4 531.3,902.3 531.9,902.4 532.6,902.5 533.2,902.2 533.9,902.1 534.5,902.5 535.2,902.6 535.8,902.0 536.5,902.5 537.1,902.2 537.8,901.9 538.4,902.1 539.1,902.5 539.7,902.5 540.3,901.4 541.0,902.6 541.6,902.6 542.3,902.6 542.9,902.6 543.6,902.5 544.2,902.3 544.9,902.1 545.5,902.5 546.2,902.4 546.8,902.6 547.5,902.5 548.1,902.1 548.8,902.2 549.4,902.6 550.1,902.3 550.7,902.3 551.3,902.4 552.0,902.5 552.6,902.2 553.3,902.2 553.9,902.5 554.6,902.4 555.2,902.4 555.9,902.1 556.5,902.6 557.2,902.2 557.8,902.5 558.5,902.5 559.1,902.5 559.8,902.4 560.4,902.1 561.0,902.5 561.7,902.4 562.3,902.6 563.0,902.4 563.6,902.5 564.3,902.4 564.9,902.5 565.6,902.5 566.2,902.6 566.9,902.2 567.5,902.4 568.2,902.4 568.8,902.6 569.5,902.3 570.1,902.4 570.8,902.6 571.4,902.3 572.0,901.9 572.7,902.4 573.3,902.3 574.0,902.5 574.6,902.5 575.3,902.2 575.9,902.5 576.6,902.2 577.2,902.5 577.9,902.4 578.5,902.3 579.2,902.3 579.8,902.3 580.5,902.5 581.1,902.5 581.8,902.6 582.4,902.4 583.0,902.3 583.7,902.6 584.3,902.6 585.0,902.5 585.6,902.3 586.3,901.1 586.9,902.6 587.6,902.5 588.2,902.3 588.9,902.3 589.5,902.5 590.2,902.4 590.8,902.3 591.5,901.9 592.1,902.4 592.8,902.2 593.4,902.4 594.0,902.5 594.7,902.0 595.3,902.4 596.0,902.5 596.6,902.5 597.3,902.6 597.9,902.3 598.6,902.5 599.2,902.6 599.9,902.5 600.5,902.5 601.2,902.3 601.8,902.6 602.5,902.4 603.1,902.3 603.8,902.1 604.4,902.4 605.0,902.3 605.7,902.5 606.3,902.0 607.0,902.2 607.6,902.2 608.3,902.1 608.9,902.4 609.6,902.4 610.2,902.3 610.9,902.4 611.5,902.6 612.2,902.4 612.8,902.1 613.5,902.5 614.1,902.6 614.8,902.6 615.4,902.1 616.0,901.9 616.7,902.6 617.3,902.4 618.0,902.4 618.6,902.5 619.3,902.0 619.9,902.5 620.6,902.5 621.2,902.4 621.9,902.5 622.5,902.5 623.2,902.6 623.8,902.3 624.5,902.5 625.1,902.2 625.8,902.6 626.4,902.4 627.0,902.5 627.7,902.5 628.3,902.5 629.0,902.1 629.6,902.0 630.3,902.2 630.9,902.2 631.6,902.2 632.2,902.6 632.9,902.3 633.5,902.3 634.2,902.5 634.8,902.6 635.5,902.5 636.1,902.0 636.7,902.3 637.4,901.9 638.0,902.2 638.7,902.3 639.3,902.4 640.0,902.4 640.6,902.3 641.3,902.4 641.9,902.0 642.6,901.9 643.2,902.0 643.9,902.2 644.5,901.7 645.2,902.0 645.8,902.1 646.5,902.2 647.1,901.9 647.7,902.1 648.4,901.9 649.0,901.7 649.7,901.8 650.3,901.3 651.0,901.3 651.6,900.7 652.3,900.2 652.9,899.4 653.6,897.9 654.2,897.5 654.9,895.7 655.5,892.9 656.2,888.8 656.8,882.5 657.5,873.2 658.1,859.7 658.7,841.2 659.4,820.9 660.0,803.1 660.7,796.0 661.3,799.9 662.0,809.4 662.6,819.4 663.3,829.3 663.9,840.3 664.6,853.8 665.2,866.7 665.9,877.3 666.5,885.0 667.2,890.3 667.8,894.0 668.5,896.3 669.1,898.0 669.7,899.2 670.4,899.7 671.0,900.5 671.7,900.9 672.3,901.3 673.0,901.3 673.6,900.5 674.3,901.6 674.9,901.9 675.6,902.0 676.2,902.1 676.9,902.2 677.5,902.1 678.2,902.1 678.8,902.0 679.5,901.8 680.1,902.1 680.7,902.2 681.4,902.3 682.0,901.9 682.7,902.2 683.3,901.9 684.0,901.6 684.6,901.8 685.3,901.3 685.9,901.0 686.6,900.4 687.2,899.8 687.9,898.5 688.5,898.8 689.2,898.8 689.8,899.3 690.5,899.6 691.1,899.5 691.7,900.2 692.4,900.6 693.0,901.0 693.7,901.2 694.3,901.6 695.0,901.2 695.6,901.9 696.3,901.3 696.9,902.0 697.6,902.0 698.2,901.9 698.9,902.1 699.5,902.0 700.2,902.2 700.8,902.1 701.4,902.3 702.1,902.0 702.7,902.0 703.4,902.0 704.0,902.2 704.7,902.2 705.3,901.9 706.0,902.1 706.6,901.9 707.3,901.7 707.9,901.6 708.6,901.6 709.2,901.4 709.9,901.1 710.5,900.7 711.2,899.9 711.8,898.9 712.4,898.0 713.1,896.0 713.7,893.8 714.4,890.5 715.0,887.8 715.7,886.9 716.3,887.9 717.0,889.6 717.6,890.9 718.3,891.7 718.9,892.9 719.6,894.9 720.2,896.8 720.9,898.1 721.5,899.1 722.2,900.1 722.8,900.2 723.4,901.0 724.1,901.1 724.7,901.6 725.4,901.6 726.0,901.9 726.7,901.8 727.3,901.9 728.0,902.1 728.6,902.0 729.3,902.0 729.9,902.0 730.6,902.0 731.2,902.2 731.9,901.9 732.5,902.0 733.2,901.9 733.8,901.5 734.4,901.8 735.1,901.6 735.7,901.7 736.4,901.2 737.0,901.1 737.7,900.5 738.3,899.9 739.0,899.1 739.6,897.9 740.3,897.1 740.9,896.9 741.6,897.2 742.2,898.0 742.9,898.3 743.5,898.7 744.2,899.2 744.8,899.7 745.4,900.5 746.1,900.7 746.7,901.4 747.4,901.6 748.0,901.8 748.7,901.8 749.3,902.1 750.0,902.0 750.6,902.0 751.3,902.1 751.9,901.8 752.6,902.0 753.2,901.9 753.9,901.8 754.5,901.8 755.1,901.5 755.8,901.1 756.4,900.6 757.1,900.0 757.7,898.8 758.4,896.6 759.0,894.6 759.7,891.4 760.3,887.4 761.0,883.4 761.6,881.5 762.3,882.0 762.9,884.0 763.6,885.7 764.2,887.4 764.9,889.3 765.5,891.2 766.1,893.9 766.8,896.0 767.4,898.0 768.1,899.4 768.7,900.5 769.4,901.0 770.0,901.5 770.7,901.4 771.3,901.9 772.0,901.8 772.6,902.0 773.3,902.2 773.9,902.3 774.6,902.4 775.2,902.3 775.9,902.3 776.5,902.4 777.1,902.3 777.8,902.5 778.4,902.5 779.1,902.4 779.7,902.5 780.4,902.3 781.0,902.2 781.7,902.5 782.3,902.6 783.0,902.5 783.6,902.5 784.3,902.5 784.9,902.3 785.6,902.5 786.2,902.2 786.9,902.3 787.5,902.3 788.1,902.5 788.8,902.3 789.4,902.6 790.1,902.2 790.7,901.9 791.4,902.5 792.0,902.4 792.7,902.1 793.3,902.2 794.0,902.3 794.6,902.4 795.3,902.5 795.9,902.2 796.6,902.3 797.2,902.6 797.9,902.4 798.5,902.3 799.1,902.4 799.8,902.2 800.4,902.6 801.1,902.5 801.7,902.5 802.4,902.6 803.0,902.2 803.7,902.3 804.3,902.4 805.0,902.4 805.6,902.1 806.3,902.4 806.9,902.4 807.6,902.5 808.2,902.2 808.9,902.3 809.5,902.4 810.1,902.5 810.8,902.3 811.4,901.8 812.1,902.4 812.7,902.3 813.4,902.4 814.0,902.1 814.7,901.9 815.3,902.3 816.0,901.9 816.6,901.9 817.3,901.9 817.9,901.7 818.6,901.5 819.2,901.2 819.9,901.0 820.5,900.3 821.1,899.7 821.8,898.6 822.4,896.7 823.1,894.7 823.7,890.8 824.4,885.7 825.0,877.6 825.7,868.1 826.3,858.0 827.0,851.0 827.6,849.7 828.3,853.8 828.9,859.3 829.6,863.7 830.2,867.5 830.8,871.7 831.5,876.6 832.1,883.1 832.8,888.6 833.4,892.7 834.1,895.6 834.7,897.9 835.4,899.2 836.0,900.0 836.7,900.8 837.3,901.3 838.0,901.5 838.6,901.8 839.3,901.7 839.9,901.9 840.6,902.0 841.2,902.2 841.8,902.1 842.5,902.2 843.1,901.9 843.8,902.2 844.4,902.2 845.1,902.2 845.7,902.5 846.4,902.3 847.0,902.5 847.7,902.5 848.3,902.4 849.0,902.2 849.6,902.3 850.3,901.9 850.9,902.5 851.6,902.3 852.2,902.5 852.8,902.3 853.5,902.4 854.1,902.4 854.8,902.4 855.4,902.5 856.1,902.5 856.7,902.5 857.4,902.2 858.0,902.3 858.7,901.8 859.3,902.6 860.0,902.2 860.6,902.4 861.3,902.6 861.9,902.4 862.6,902.2 863.2,901.5 863.8,902.4 864.5,902.4 865.1,902.6 865.8,902.6 866.4,902.1 867.1,902.4 867.7,902.1 868.4,902.4 869.0,902.4 869.7,902.4 870.3,902.5 871.0,902.2 871.6,902.3 872.3,902.5 872.9,902.4 873.6,902.5 874.2,902.6 874.8,902.2 875.5,902.4 876.1,902.4 876.8,902.2 877.4,902.5 878.1,902.3 878.7,902.5 879.4,902.6 880.0,902.6 880.7,902.1 881.3,902.2 882.0,902.6 882.6,902.6 883.3,901.9 883.9,902.4 884.5,902.2 885.2,902.2 885.8,901.8 886.5,902.5 887.1,902.5 887.8,902.5 888.4,902.2 889.1,902.6 889.7,902.2 890.4,902.2 891.0,902.5 891.7,902.6 892.3,902.4 893.0,902.5 893.6,902.5 894.3,902.1 894.9,902.0 895.5,902.4 896.2,902.3 896.8,902.6 897.5,902.3 898.1,902.4 898.8,902.4 899.4,902.2 900.1,902.3 900.7,902.4 901.4,902.1 902.0,902.5 902.7,902.5 903.3,902.4 904.0,901.9 904.6,902.2 905.3,902.3 905.9,902.4 906.5,902.3 907.2,902.2 907.8,902.1 908.5,901.8 909.1,902.1 909.8,902.0 910.4,902.0 911.1,901.9 911.7,900.8 912.4,900.9 913.0,901.0 913.7,900.1 914.3,899.5 915.0,897.7 915.6,896.0 916.3,892.8 916.9,888.3 917.5,883.6 918.2,879.0 918.8,876.6 919.5,878.0 920.1,880.6 920.8,883.4 921.4,884.8 922.1,886.1 922.7,887.8 923.4,890.2 924.0,893.0 924.7,895.9 925.3,898.0 926.0,898.9 926.6,900.3 927.3,900.8 927.9,901.2 928.5,901.5 929.2,901.7 929.8,901.9 930.5,902.2 931.1,901.8 931.8,902.3 932.4,902.3 933.1,902.4 933.7,902.5 934.4,902.3 935.0,902.5 935.7,902.1 936.3,902.5 937.0,902.5 937.6,902.4 938.3,902.4 938.9,902.5 939.5,902.5 940.2,902.4 940.8,902.4 941.5,902.4 942.1,902.5 942.8,902.2 943.4,902.5 944.1,902.6 944.7,902.6 945.4,902.4 946.0,902.3 946.7,902.2 947.3,902.3 948.0,902.5 948.6,902.5 949.2,902.2 949.9,901.8 950.5,902.3 951.2,902.4 951.8,902.4 952.5,902.2 953.1,902.4 953.8,902.5 954.4,902.6 955.1,902.5 955.7,902.4 956.4,902.6 957.0,902.0 957.7,902.4 958.3,902.4 959.0,902.5 959.6,902.5 960.2,902.5 960.9,902.4 961.5,902.1 962.2,902.3 962.8,902.2 963.5,902.4 964.1,902.3 964.8,902.4 965.4,902.5 966.1,902.2 966.7,902.1 967.4,902.6 968.0,901.4 968.7,902.3 969.3,902.5 970.0,902.6 970.6,902.5 971.2,902.5 971.9,902.2 972.5,902.2 973.2,902.6 973.8,902.4 974.5,902.4 975.1,902.0 975.8,901.5 976.4,902.4 977.1,902.5 977.7,902.6 978.4,902.5 979.0,902.3 979.7,902.3 980.3,902.3 981.0,902.3 981.6,902.6 982.2,902.5 982.9,902.5 983.5,902.6 984.2,902.5 984.8,902.2 985.5,902.5 986.1,902.3 986.8,902.5 987.4,902.4 988.1,902.4 988.7,902.1 989.4,902.6 990.0,902.3 990.7,902.3 991.3,902.4 992.0,902.6 992.6,902.6 993.2,902.5 993.9,902.0 994.5,902.4 995.2,902.3 995.8,902.5 996.5,902.5 997.1,902.2 997.8,902.3 998.4,902.4 999.1,902.4 999.7,902.3 1000.4,902.3 1001.0,902.0 1001.7,902.3 1002.3,902.4 1003.0,902.6 1003.6,902.4 1004.2,902.3 1004.9,902.3 1005.5,902.5 1006.2,902.3 1006.8,902.4 1007.5,902.1 1008.1,902.4 1008.8,902.3 1009.4,902.3 1010.1,902.6 1010.7,902.2 1011.4,902.5 1012.0,902.1 1012.7,902.5 1013.3,902.5 1014.0,902.2 1014.6,902.4 1015.2,902.5 1015.9,902.4 1016.5,902.3 1017.2,902.5 1017.8,902.4 1018.5,902.1 1019.1,902.5 1019.8,902.5 1020.4,902.5 1021.1,902.1 1021.7,901.8 1022.4,902.4 1023.0,902.1 1023.7,902.5 1024.3,902.2 1024.9,902.2 1025.6,902.5 1026.2,902.2 1026.9,902.3 1027.5,902.3 1028.2,902.5 1028.8,902.4 1029.5,902.2 1030.1,902.4 1030.8,901.9 1031.4,902.2 1032.1,902.4 1032.7,902.0 1033.4,902.1 1034.0,902.3 1034.7,902.2 1035.3,902.1 1035.9,902.0 1036.6,902.0 1037.2,901.9 1037.9,902.0 1038.5,901.5 1039.2,901.7 1039.8,901.3 1040.5,901.0 1041.1,900.8 1041.8,900.4 1042.4,899.7 1043.1,899.1 1043.7,898.1 1044.4,896.2 1045.0,893.6 1045.7,889.9 1046.3,885.5 1046.9,880.9 1047.6,878.6 1048.2,879.9 1048.9,883.4 1049.5,886.6 1050.2,887.8 1050.8,888.5 1051.5,888.4 1052.1,890.0 1052.8,892.3 1053.4,895.0 1054.1,896.6 1054.7,898.4 1055.4,899.5 1056.0,900.2 1056.7,899.6 1057.3,901.0 1057.9,901.0 1058.6,901.6 1059.2,901.6 1059.9,901.6 1060.5,901.6 1061.2,901.9 1061.8,901.9 1062.5,901.9 1063.1,902.1 1063.8,901.0 1064.4,902.0 1065.1,902.0 1065.7,902.4 1066.4,902.4 1067.0,902.4 1067.7,902.4 1068.3,902.4 1068.9,902.0 1069.6,902.4 1070.2,902.2 1070.9,901.9 1071.5,902.2 1072.2,902.0 1072.8,902.5 1073.5,902.3 1074.1,902.2 1074.8,902.4 1075.4,902.3 1076.1,902.2 1076.7,902.3 1077.4,902.0 1078.0,902.0 1078.7,902.5 1079.3,902.2 1079.9,902.3 1080.6,902.1 1081.2,902.5 1081.9,902.3 1082.5,902.3 1083.2,901.8 1083.8,902.4 1084.5,902.4 1085.1,902.2 1085.8,902.5 1086.4,902.2 1087.1,902.6 1087.7,902.2 1088.4,902.1 1089.0,902.5 1089.6,902.5 1090.3,902.1 1090.9,902.4 1091.6,902.3 1092.2,902.4 1092.9,902.4 1093.5,902.4 1094.2,902.5 1094.8,902.5 1095.5,902.2 1096.1,902.4 1096.8,902.6 1097.4,902.4 1098.1,902.5 1098.7,902.5 1099.4,902.6 1100.0,902.4 1100.6,902.4 1101.3,901.8 1101.9,902.4 1102.6,902.3 1103.2,902.3 1103.9,902.5 1104.5,902.5 1105.2,902.6 1105.8,902.3 1106.5,902.6 1107.1,901.1 1107.8,902.5 1108.4,901.6 1109.1,902.4 1109.7,902.2 1110.4,902.4 1111.0,901.7 1111.6,902.4 1112.3,902.2 1112.9,902.4 1113.6,902.4 1114.2,902.1 1114.9,902.5 1115.5,902.0 1116.2,902.3 1116.8,902.3 1117.5,902.5 1118.1,902.4 1118.8,902.6 1119.4,902.3 1120.1,902.2 1120.7,902.5 1121.4,902.6 1122.0,902.2 1122.6,902.5 1123.3,902.3 1123.9,902.5 1124.6,902.4 1125.2,902.2 1125.9,902.2 1126.5,902.2 1127.2,902.4 1127.8,902.4 1128.5,902.3 1129.1,902.5 1129.8,902.3 1130.4,902.4 1131.1,902.5 1131.7,902.1 1132.4,902.3 1133.0,902.2 1133.6,902.3 1134.3,902.6 1134.9,901.9 1135.6,902.4 1136.2,902.5 1136.9,902.5 1137.5,902.3 1138.2,902.4 1138.8,902.5 1139.5,902.4 1140.1,902.0 1140.8,900.4 1141.4,902.3 1142.1,902.4 1142.7,902.4 1143.3,902.4 1144.0,902.5 1144.6,902.1 1145.3,902.4 1145.9,902.4 1146.6,901.8 1147.2,902.3 1147.9,902.5 1148.5,902.4 1149.2,902.4 1149.8,902.4 1150.5,902.4 1151.1,902.3 1151.8,902.6 1152.4,902.6 1153.1,902.5 1153.7,902.3 1154.3,902.6 1155.0,902.3 1155.6,902.5 1156.3,902.5 1156.9,902.2 1157.6,902.4 1158.2,901.9 1158.9,902.6 1159.5,902.1 1160.2,901.6 1160.8,902.4 1161.5,902.4 1162.1,902.2 1162.8,902.2 1163.4,902.5 1164.1,902.6 1164.7,902.4 1165.3,902.5 1166.0,902.4 1166.6,902.4 1167.3,902.2 1167.9,902.5 1168.6,902.2 1169.2,902.5 1169.9,902.5 1170.5,902.4 1171.2,902.4 1171.8,902.5 1172.5,902.6 1173.1,902.2 1173.8,902.4 1174.4,902.3 1175.1,902.5 1175.7,902.3 1176.3,902.4 1177.0,902.4 1177.6,902.3 1178.3,902.2 1178.9,902.5 1179.6,902.2 1180.2,902.4 1180.9,902.6 1181.5,902.6 1182.2,902.4 1182.8,902.2 1183.5,902.2 1184.1,902.4 1184.8,902.5 1185.4,902.4 1186.1,902.4 1186.7,902.5 1187.3,902.3 1188.0,902.1 1188.6,902.5 1189.3,902.6 1189.9,902.4 1190.6,902.2 1191.2,902.4 1191.9,902.3 1192.5,902.4 1193.2,902.2 1193.8,902.3 1194.5,901.9 1195.1,902.2 1195.8,902.2 1196.4,902.5 1197.1,902.4 1197.7,902.1 1198.3,901.5 1199.0,902.5 1199.6,902.4 1200.3,902.5 1200.9,902.6 1201.6,902.1 1202.2,902.3 1202.9,902.5 1203.5,902.6 1204.2,902.5 1204.8,902.3 1205.5,902.3 1206.1,902.4 1206.8,902.5 1207.4,902.4 1208.0,902.3 1208.7,902.3 1209.3,902.2 1210.0,901.9 1210.6,902.2 1211.3,902.5 1211.9,902.2 1212.6,902.4 1213.2,902.0 1213.9,902.2 1214.5,902.4 1215.2,902.5 1215.8,902.5 1216.5,902.3 1217.1,902.4 1217.8,902.4 1218.4,902.2 1219.0,902.3 1219.7,901.8 1220.3,902.4 1221.0,902.4 1221.6,902.3 1222.3,902.0 1222.9,901.7 1223.6,902.0 1224.2,902.1 1224.9,902.2 1225.5,902.2 1226.2,902.1 1226.8,902.1 1227.5,901.9 1228.1,901.5 1228.8,901.5 1229.4,901.6 1230.0,901.1 1230.7,900.7 1231.3,900.3 1232.0,899.7 1232.6,899.1 1233.3,897.7 1233.9,895.5 1234.6,893.0 1235.2,890.4 1235.9,889.0 1236.5,889.2 1237.2,891.4 1237.8,893.0 1238.5,894.3 1239.1,894.3 1239.8,893.9 1240.4,893.9 1241.0,894.2 1241.7,895.2 1242.3,896.0 1243.0,896.5 1243.6,896.3 1244.3,895.5 1244.9,893.9 1245.6,892.2 1246.2,888.5 1246.9,882.9 1247.5,874.2 1248.2,860.9 1248.8,841.6 1249.5,816.3 1250.1,787.3 1250.8,762.1 1251.4,752.9 1252.0,762.7 1252.7,783.9 1253.3,804.5 1254.0,817.1 1254.6,821.2 1255.3,820.6 1255.9,822.2 1256.6,830.5 1257.2,844.2 1257.9,859.4 1258.5,872.0 1259.2,881.6 1259.8,887.8 1260.5,892.1 1261.1,895.2 1261.8,896.8 1262.4,898.2 1263.0,899.4 1263.7,900.1 1264.3,900.5 1265.0,900.7 1265.6,900.9 1266.3,900.9 1266.9,900.7 1267.6,900.4 1268.2,900.8 1268.9,900.6 1269.5,900.5 1270.2,900.1 1270.8,899.0 1271.5,898.1 1272.1,896.3 1272.8,894.0 1273.4,891.8 1274.0,890.1 1274.7,890.5 1275.3,891.6 1276.0,894.3 1276.6,895.4 1277.3,895.9 1277.9,895.8 1278.6,895.7 1279.2,895.8 1279.9,897.0 1280.5,898.1 1281.2,899.5 1281.8,899.9 1282.5,900.7 1283.1,901.2 1283.7,901.1 1284.4,901.7 1285.0,901.6 1285.7,902.0 1286.3,902.0 1287.0,902.1 1287.6,902.2 1288.3,902.1 1288.9,902.2 1289.6,902.2 1290.2,902.4 1290.9,902.1 1291.5,902.2 1292.2,902.0 1292.8,902.2 1293.5,902.2 1294.1,901.8 1294.7,902.3 1295.4,902.5 1296.0,902.3 1296.7,902.4 1297.3,902.4 1298.0,902.3 1298.6,902.4 1299.3,902.5 1299.9,902.2 1300.6,902.5 1301.2,902.5 1301.9,902.4 1302.5,901.8 1303.2,902.2 1303.8,902.1 1304.5,902.4 1305.1,902.0 1305.7,902.3 1306.4,902.4 1307.0,902.3 1307.7,902.3 1308.3,902.5 1309.0,902.2 1309.6,902.3 1310.3,902.4 1310.9,902.3 1311.6,902.3 1312.2,902.3 1312.9,902.3 1313.5,902.0 1314.2,902.1 1314.8,902.0 1315.5,902.0 1316.1,902.0 1316.7,901.5 1317.4,901.0 1318.0,901.0 1318.7,900.7 1319.3,899.7 1320.0,899.1 1320.6,897.9 1321.3,896.1 1321.9,893.1 1322.6,888.7 1323.2,881.8 1323.9,873.5 1324.5,862.9 1325.2,853.6 1325.8,849.4 1326.5,851.6 1327.1,859.5 1327.7,867.6 1328.4,873.0 1329.0,874.6 1329.7,874.6 1330.3,874.2 1331.0,875.3 1331.6,879.3 1332.3,884.4 1332.9,889.7 1333.6,893.7 1334.2,896.3 1334.9,898.1 1335.5,899.3 1336.2,900.3 1336.8,900.5 1337.5,901.2 1338.1,901.5 1338.7,901.8 1339.4,901.8 1340.0,901.9 1340.7,902.2 1341.3,902.2 1342.0,902.3 1342.6,902.1 1343.3,902.2 1343.9,902.3 1344.6,902.2 1345.2,902.5 1345.9,902.3 1346.5,902.3 1347.2,902.3 1347.8,902.5 1348.4,902.2 1349.1,902.5 1349.7,902.2 1350.4,902.4 1351.0,902.5 1351.7,902.5 1352.3,902.4 1353.0,902.4 1353.6,902.2 1354.3,901.8 1354.9,902.4 1355.6,902.2 1356.2,902.2 1356.9,902.4 1357.5,902.0 1358.2,902.4 1358.8,901.1 1359.4,902.5 1360.1,902.6 1360.7,902.2 1361.4,902.4 1362.0,902.1 1362.7,902.4 1363.3,901.8 1364.0,902.6 1364.6,902.6 1365.3,902.5 1365.9,902.3 1366.6,902.4 1367.2,902.3 1367.9,902.6 1368.5,902.5 1369.2,902.1 1369.8,902.5 1370.4,902.0 1371.1,902.1 1371.7,902.4 1372.4,902.3 1373.0,902.4 1373.7,902.3 1374.3,902.4 1375.0,902.6 1375.6,902.6 1376.3,902.6 1376.9,902.4 1377.6,902.4 1378.2,902.6 1378.9,902.6 1379.5,902.3 1380.2,902.4 1380.8,902.1 1381.4,902.5 1382.1,902.5 1382.7,902.3 1383.4,902.0 1384.0,902.2 1384.7,902.6 1385.3,902.4 1386.0,902.5 1386.6,902.5 1387.3,902.6 1387.9,902.3 1388.6,902.6 1389.2,902.2 1389.9,902.5 1390.5,902.5 1391.2,902.1 1391.8,902.4 1392.4,902.4 1393.1,902.6 1393.7,902.4 1394.4,902.3 1395.0,902.4 1395.7,902.5 1396.3,902.6 1397.0,902.0 1397.6,902.4 1398.3,902.3 1398.9,902.6 1399.6,902.4 1400.2,902.5 1400.9,902.1 1401.5,902.6 1402.2,902.3 1402.8,902.3 1403.4,902.0 1404.1,902.3 1404.7,902.6 1405.4,901.8 1406.0,902.4 1406.7,902.5 1407.3,902.5 1408.0,902.5 1408.6,902.4 1409.3,902.5 1409.9,902.5 1410.6,902.5 1411.2,902.3 1411.9,902.5 1412.5,902.3 1413.1,902.2 1413.8,902.5 1414.4,902.1 1415.1,902.4 1415.7,902.2 1416.4,902.4 1417.0,902.1 1417.7,902.4 1418.3,902.3 1419.0,902.5 1419.6,902.3 1420.3,902.3 1420.9,901.9 1421.6,902.6 1422.2,902.4 1422.9,902.4 1423.5,902.4 1424.1,901.8 1424.8,902.6 1425.4,902.3 1426.1,901.9 1426.7,902.3 1427.4,902.3 1428.0,902.4 1428.7,902.6 1429.3,902.4 1430.0,902.2 1430.6,902.3 1431.3,902.4 1431.9,902.6 1432.6,902.6 1433.2,902.4 1433.9,902.4 1434.5,902.4 1435.1,902.4 1435.8,902.3 1436.4,902.5 1437.1,902.4 1437.7,902.3 1438.4,902.5 1439.0,902.5 1439.7,902.2 1440.3,902.4 1441.0,902.2 1441.6,902.0 1442.3,902.5 1442.9,902.3 1443.6,902.6 1444.2,902.4 1444.9,902.6 1445.5,902.2 1446.1,902.6 1446.8,902.6 1447.4,901.7 1448.1,902.4 1448.7,902.4 1449.4,902.4 1450.0,902.3 1450.7,902.2 1451.3,902.2 1452.0,902.6 1452.6,902.5 1453.3,902.3 1453.9,902.5 1454.6,902.4 1455.2,902.4 1455.9,902.4 1456.5,902.1 1457.1,902.4 1457.8,902.5 1458.4,902.4 1459.1,902.3 1459.7,902.4 1460.4,902.2 1461.0,902.5 1461.7,902.5 1462.3,902.2 1463.0,902.4 1463.6,902.4 1464.3,902.1 1464.9,902.4 1465.6,902.5 1466.2,902.2 1466.8,902.3 1467.5,902.1 1468.1,902.3 1468.8,902.3 1469.4,902.5 1470.1,902.6 1470.7,902.2 1471.4,902.4 1472.0,902.4 1472.7,902.6 1473.3,902.5 1474.0,902.6 1474.6,902.4 1475.3,902.4 1475.9,902.3 1476.6,902.4 1477.2,902.5 1477.8,902.5 1478.5,902.5 1479.1,902.2 1479.8,902.5 1480.4,902.2 1481.1,902.3 1481.7,902.2 1482.4,902.4 1483.0,902.4 1483.7,902.5 1484.3,902.4 1485.0,902.0 1485.6,902.5 1486.3,902.5 1486.9,902.5 1487.6,902.4 1488.2,902.4 1488.8,902.1 1489.5,902.1 1490.1,902.5 1490.8,902.4 1491.4,902.5 1492.1,902.1 1492.7,902.2 1493.4,902.3 1494.0,902.5 1494.7,902.4 1495.3,902.4 1496.0,902.4 1496.6,901.9 1497.3,902.4 1497.9,902.1 1498.6,902.2 1499.2,902.2 1499.8,902.5 1500.5,902.5 1501.1,902.4 1501.8,902.4 1502.4,902.3 1503.1,902.2 1503.7,902.3 1504.4,902.3 1505.0,902.3 1505.7,901.8 1506.3,902.1 1507.0,902.2 1507.6,902.2 1508.3,901.9 1508.9,901.9 1509.6,902.0 1510.2,902.0 1510.8,901.4 1511.5,901.7 1512.1,900.7 1512.8,901.2 1513.4,901.1 1514.1,901.1 1514.7,900.3 1515.4,900.2 1516.0,900.0 1516.7,899.6 1517.3,899.0 1518.0,898.1 1518.6,897.1 1519.3,895.9 1519.9,894.3 1520.6,891.3 1521.2,889.9 1521.8,887.2 1522.5,884.9 1523.1,882.8 1523.8,882.2 1524.4,882.1 1525.1,883.0 1525.7,884.6 1526.4,885.9 1527.0,886.5 1527.7,888.1 1528.3,888.7 1529.0,889.4 1529.6,890.2 1530.3,891.3 1530.9,892.6 1531.5,894.4 1532.2,895.8 1532.8,896.7 1533.5,898.1 1534.1,898.7 1534.8,899.5 1535.4,900.1 1536.1,900.4 1536.7,900.7 1537.4,900.9 1538.0,901.3 1538.7,901.3 1539.3,901.7 1540.0,901.8 1540.6,901.8 1541.3,901.7 1541.9,901.9 1542.5,901.8 1543.2,902.1 1543.8,902.2 1544.5,902.2 1545.1,902.3 1545.8,902.1 1546.4,902.2 1547.1,902.4 1547.7,902.1 1548.4,902.3 1549.0,902.3 1549.7,901.7 1550.3,902.4 1551.0,902.4 1551.6,902.3 1552.3,902.3 1552.9,902.2 1553.5,902.3 1554.2,902.3 1554.8,902.0 1555.5,902.3 1556.1,902.3 1556.8,901.9 1557.4,901.9 1558.1,901.8 1558.7,901.5 1559.4,901.2 1560.0,901.2 1560.7,900.3 1561.3,899.9 1562.0,898.7 1562.6,896.7 1563.3,894.2 1563.9,890.6 1564.5,885.9 1565.2,881.6 1565.8,879.0 1566.5,879.7 1567.1,883.0 1567.8,886.9 1568.4,890.2 1569.1,892.0 1569.7,892.6 1570.4,892.0 1571.0,891.0 1571.7,890.5 1572.3,891.5 1573.0,893.4 1573.6,896.0 1574.3,897.6 1574.9,898.8 1575.5,900.2 1576.2,900.7 1576.8,901.2 1577.5,901.1 1578.1,901.8 1578.8,902.0 1579.4,902.2 1580.1,901.9 1580.7,902.2 1581.4,902.4 1582.0,902.4 1582.7,902.3 1583.3,902.4 1584.0,902.4 1584.6,902.3 1585.3,902.3 1585.9,902.2 1586.5,902.3 1587.2,901.9 1587.8,902.5 1588.5,902.3 1589.1,902.0 1589.8,902.6 1590.4,902.3 1591.1,902.4 1591.7,902.5 1592.4,902.3 1593.0,902.6 1593.7,902.4 1594.3,902.1 1595.0,902.6 1595.6,902.5 1596.2,902.3 1596.9,902.6 1597.5,902.3 1598.2,902.6 1598.8,902.4 1599.5,902.2 1600.1,902.4 1600.8,902.3 1601.4,902.2 1602.1,902.6 1602.7,902.6 1603.4,902.4 1604.0,902.3 1604.7,902.5 1605.3,902.5 1606.0,902.2 1606.6,902.4 1607.2,902.3 1607.9,901.9 1608.5,902.1 1609.2,902.5 1609.8,902.5 1610.5,902.5 1611.1,902.4 1611.8,902.4 1612.4,902.5 1613.1,902.2 1613.7,902.2 1614.4,902.3 1615.0,902.5 1615.7,902.3 1616.3,902.5 1617.0,902.4 1617.6,902.2 1618.2,902.5 1618.9,902.5 1619.5,902.2 1620.2,902.4 1620.8,902.4 1621.5,902.3 1622.1,902.5 1622.8,902.4 1623.4,902.5 1624.1,902.4 1624.7,902.3 1625.4,902.0 1626.0,902.2 1626.7,902.3 1627.3,902.4 1628.0,902.5 1628.6,902.5 1629.2,902.5 1629.9,902.4 1630.5,902.5 1631.2,902.2 1631.8,902.6 1632.5,902.4 1633.1,902.4 1633.8,902.4 1634.4,902.4 1635.1,902.4 1635.7,902.3 1636.4,902.5 1637.0,902.2 1637.7,902.5 1638.3,902.4 1639.0,902.3 1639.6,902.5 1640.2,902.3 1640.9,902.5 1641.5,902.2 1642.2,902.0 1642.8,902.5 1643.5,902.5 1644.1,902.4 1644.8,902.3 1645.4,902.6 1646.1,902.4 1646.7,902.6 1647.4,902.5 1648.0,902.3 1648.7,901.9 1649.3,901.5 1650.0,902.2 1650.6,902.4 1651.2,902.5 1651.9,902.4 1652.5,902.5 1653.2,902.2 1653.8,902.6 1654.5,902.3 1655.1,902.4 1655.8,902.5 1656.4,902.3 1657.1,902.3 1657.7,902.5 1658.4,902.6 1659.0,901.9 1659.7,902.4 1660.3,902.5 1661.0,902.3 1661.6,902.6 1662.2,902.4 1662.9,902.4 1663.5,902.4 1664.2,902.5 1664.8,902.5 1665.5,902.5 1666.1,902.4 1666.8,902.3 1667.4,902.5 1668.1,902.1 1668.7,902.4 1669.4,901.6 1670.0,902.1 1670.7,902.3 1671.3,902.4 1671.9,902.3 1672.6,902.2 1673.2,902.5 1673.9,902.3 1674.5,902.4 1675.2,902.5 1675.8,902.2 1676.5,902.3 1677.1,902.5 1677.8,902.6 1678.4,902.5 1679.1,902.5 1679.7,902.5 1680.4,902.6 1681.0,902.2 1681.7,902.4 1682.3,902.4 1682.9,902.3 1683.6,902.0 1684.2,902.6 1684.9,902.5 1685.5,902.3 1686.2,902.5 1686.8,902.1 1687.5,902.3 1688.1,902.5 1688.8,902.5 1689.4,902.6 1690.1,902.4 1690.7,902.5 1691.4,902.2 1692.0,902.3 1692.7,902.5 1693.3,902.5 1693.9,902.0 1694.6,902.4 1695.2,902.2 1695.9,902.4 1696.5,902.1 1697.2,902.5 1697.8,902.5 1698.5,902.4 1699.1,902.1 1699.8,902.4 1700.4,902.5 1701.1,902.4 1701.7,902.5 1702.4,902.1 1703.0,902.3 1703.7,902.4 1704.3,902.0 1704.9,902.1 1705.6,902.1 1706.2,902.2 1706.9,902.4 1707.5,902.2 1708.2,902.3 1708.8,902.1 1709.5,902.0 1710.1,902.0 1710.8,901.7 1711.4,901.2 1712.1,901.2 1712.7,900.6 1713.4,900.1 1714.0,899.1 1714.7,898.0 1715.3,897.2 1715.9,897.1 1716.6,897.8 1717.2,898.6 1717.9,899.2 1718.5,899.4 1719.2,899.1 1719.8,898.4 1720.5,897.6 1721.1,895.6 1721.8,893.9 1722.4,891.2 1723.1,887.5 1723.7,882.4 1724.4,874.6 1725.0,865.6 1725.7,858.3 1726.3,855.9 1726.9,859.4 1727.6,867.2 1728.2,875.7 1728.9,881.6 1729.5,884.2 1730.2,885.9 1730.8,884.3 1731.5,881.7 1732.1,879.7 1732.8,880.4 1733.4,883.3 1734.1,887.5 1734.7,891.9 1735.4,895.1 1736.0,897.1 1736.6,898.9 1737.3,900.0 1737.9,900.6 1738.6,901.0 1739.2,901.4 1739.9,901.8 1740.5,901.8 1741.2,901.9 1741.8,902.0 1742.5,902.0 1743.1,902.0 1743.8,901.8 1744.4,901.7 1745.1,901.3 1745.7,901.2 1746.4,900.7 1747.0,900.5 1747.6,899.5 1748.3,898.0 1748.9,896.4 1749.6,893.3 1750.2,889.8 1750.9,885.7 1751.5,882.9 1752.2,882.4 1752.8,885.0 1753.5,888.7 1754.1,891.6 1754.8,894.3 1755.4,895.2 1756.1,895.3 1756.7,894.6 1757.4,893.4 1758.0,892.6 1758.6,892.8 1759.3,894.3 1759.9,896.1 1760.6,897.7 1761.2,899.4 1761.9,900.4 1762.5,900.9 1763.2,901.3 1763.8,901.6 1764.5,901.6 1765.1,901.8 1765.8,901.6 1766.4,901.6 1767.1,901.2 1767.7,900.8 1768.4,900.6 1769.0,899.8 1769.6,898.3 1770.3,898.2 1770.9,898.3 1771.6,899.0 1772.2,900.0 1772.9,900.5 1773.5,901.0 1774.2,900.7 1774.8,901.0 1775.5,900.4 1776.1,900.4 1776.8,900.2 1777.4,900.2 1778.1,900.6 1778.7,901.1 1779.4,901.5 1780.0,901.7 1780.6,901.5 1781.3,902.2 1781.9,902.3 1782.6,901.9 1783.2,902.3 1783.9,902.2 1784.5,902.3 1785.2,902.4 1785.8,902.4 1786.5,902.3 1787.1,902.5 1787.8,902.5 1788.4,902.2 1789.1,902.3 1789.7,902.4 1790.3,902.4 1791.0,902.5 1791.6,902.5 1792.3,902.6 1792.9,902.5 1793.6,902.5 1794.2,901.8 1794.9,902.5 1795.5,902.2 1796.2,902.3 1796.8,902.0 1797.5,902.4 1798.1,902.5 1798.8,902.5 1799.4,902.3 1800.1,902.5 1800.7,902.4 1801.3,902.4 1802.0,902.2 1802.6,902.5 1803.3,902.5 1803.9,902.4 1804.6,902.1 1805.2,902.4 1805.9,902.5 1806.5,902.6 1807.2,902.5 1807.8,902.5 1808.5,902.3 1809.1,902.4 1809.8,902.6 1810.4,902.3 1811.1,902.0 1811.7,902.6 1812.3,902.2 1813.0,902.5 1813.6,902.1 1814.3,902.5 1814.9,902.1 1815.6,902.5 1816.2,902.0 1816.9,902.4 1817.5,902.3 1818.2,902.5 1818.8,902.3 1819.5,902.4 1820.1,902.4 1820.8,902.3 1821.4,902.2 1822.1,902.3 1822.7,902.2 1823.3,902.4 1824.0,902.6 1824.6,902.4 1825.3,902.4 1825.9,902.5 1826.6,902.4 1827.2,902.4 1827.9,902.2 1828.5,902.4 1829.2,902.0 1829.8,902.3 1830.5,901.9 1831.1,901.9 1831.8,902.2 1832.4,902.1 1833.1,901.7 1833.7,901.4 1834.3,901.0 1835.0,900.9 1835.6,900.3 1836.3,900.4 1836.9,900.9 1837.6,901.2 1838.2,901.4 1838.9,901.6 1839.5,901.8 1840.2,901.7 1840.8,901.9 1841.5,901.6 1842.1,901.3 1842.8,901.4 1843.4,901.6 1844.1,901.9 1844.7,902.0 1845.3,902.2 1846.0,902.1 1846.6,902.2 1847.3,902.3 1847.9,901.9 1848.6,901.8 1849.2,902.4 1849.9,902.3 1850.5,902.5 1851.2,902.4 1851.8,902.4 1852.5,902.4 1853.1,902.5 1853.8,902.2 1854.4,902.1 1855.0,902.6 1855.7,902.5 1856.3,902.5 1857.0,902.4 1857.6,902.6 1858.3,902.4 1858.9,902.1 1859.6,902.6 1860.2,902.5 1860.9,902.2 1861.5,902.5 1862.2,902.4 1862.8,902.5 1863.5,902.6 1864.1,902.4 1864.8,902.2 1865.4,902.4 1866.0,902.3 1866.7,902.6 1867.3,902.5 1868.0,902.5 1868.6,902.4 1869.3,902.2 1869.9,902.3 1870.6,902.4 1871.2,902.0 1871.9,902.1 1872.5,902.3 1873.2,902.3 1873.8,902.5 1874.5,902.3 1875.1,902.5 1875.8,902.5 1876.4,902.5 1877.0,902.3 1877.7,902.3 1878.3,902.3 1879.0,902.2 1879.6,902.5 1880.3,902.4 1880.9,902.0 1881.6,902.3 1882.2,902.5 1882.9,902.5 1883.5,902.4 1884.2,902.4 1884.8,902.4 1885.5,902.5 1886.1,902.6 1886.8,902.2 1887.4,902.0 1888.0,902.5 1888.7,902.6 1889.3,902.5 1890.0,902.5 1890.6,902.4 1891.3,902.6 1891.9,902.4 1892.6,902.0 1893.2,902.5 1893.9,902.3 1894.5,902.5 1895.2,902.5 1895.8,902.5 1896.5,902.6 1897.1,902.4 1897.8,902.6 1898.4,902.2 1899.0,902.5 1899.7,902.5 1900.3,902.5 1901.0,902.4 1901.6,902.4 1902.3,902.4 1902.9,902.5 1903.6,902.5 1904.2,902.4 1904.9,902.5 1905.5,902.3 1906.2,902.5 1906.8,902.2 1907.5,902.5 1908.1,902.3 1908.8,902.2 1909.4,902.4 1910.0,902.2 1910.7,902.3 1911.3,902.3 1912.0,902.1 1912.6,902.2 1913.3,902.3 1913.9,902.2 1914.6,902.1 1915.2,901.6 1915.9,901.9 1916.5,901.7 1917.2,901.1 1917.8,900.9 1918.5,900.2 1919.1,899.3 1919.8,897.8 1920.4,896.6 1921.0,895.3 1921.7,895.1 1922.3,895.7 1923.0,896.9 1923.6,898.5 1924.3,899.6 1924.9,899.6 1925.6,900.1 1926.2,900.1 1926.9,899.9 1927.5,898.7 1928.2,898.9 1928.8,898.1 1929.5,899.0 1930.1,900.2 1930.7,900.8 1931.4,901.2 1932.0,901.3 1932.7,901.6 1933.3,901.8 1934.0,902.0 1934.6,901.9 1935.3,902.2 1935.9,901.9 1936.6,902.3 1937.2,902.2 1937.9,902.2 1938.5,902.5 1939.2,902.2 1939.8,902.5 1940.5,902.5 1941.1,902.1 1941.7,902.3 1942.4,902.2 1943.0,902.4 1943.7,902.4 1944.3,902.4 1945.0,902.5 1945.6,902.2 1946.3,902.3 1946.9,902.1 1947.6,902.6 1948.2,902.4 1948.9,902.5 1949.5,902.0 1950.2,902.5 1950.8,902.5 1951.5,902.4 1952.1,902.6 1952.7,902.3 1953.4,902.3 1954.0,902.6 1954.7,902.5 1955.3,902.5 1956.0,902.5 1956.6,902.5 1957.3,902.3 1957.9,902.5 1958.6,902.2 1959.2,902.2 1959.9,902.3 1960.5,902.1 1961.2,902.3 1961.8,902.4 1962.5,902.3 1963.1,902.2 1963.7,902.3 1964.4,901.9 1965.0,902.2 1965.7,902.1 1966.3,901.8 1967.0,901.5 1967.6,900.4 1968.3,900.1 1968.9,899.6 1969.6,898.4 1970.2,898.7 1970.9,899.1 1971.5,899.8 1972.2,900.5 1972.8,901.1 1973.5,901.3 1974.1,900.8 1974.7,901.5 1975.4,901.2 1976.0,901.1 1976.7,900.8 1977.3,900.7 1978.0,900.8 1978.6,901.0 1979.3,901.6 1979.9,901.9 1980.6,902.1 1981.2,901.9 1981.9,901.8 1982.5,902.3 1983.2,902.4 1983.8,902.1 1984.5,902.3 1985.1,902.3 1985.7,902.1 1986.4,902.4 1987.0,902.6 1987.7,902.3 1988.3,902.5 1989.0,902.0 1989.6,902.2 1990.3,902.4 1990.9,902.1 1991.6,902.3 1992.2,902.0 1992.9,902.3 1993.5,902.2 1994.2,902.4 1994.8,902.4 1995.4,902.3 1996.1,902.5 1996.7,902.1 1997.4,902.5 1998.0,902.5 1998.7,902.1 1999.3,902.4 2000.0,902.5 2000.6,902.4 2001.3,902.5 2001.9,902.5 2002.6,902.3 2003.2,902.4 2003.9,902.5 2004.5,902.5 2005.2,902.5 2005.8,901.7 2006.4,902.5 2007.1,902.3 2007.7,902.6 2008.4,902.5 2009.0,902.4 2009.7,902.5 2010.3,901.6 2011.0,902.2 2011.6,902.6 2012.3,902.4 2012.9,902.3 2013.6,902.6 2014.2,902.3 2014.9,902.4 2015.5,902.5 2016.2,902.1 2016.8,902.3 2017.4,902.4 2018.1,902.5 2018.7,902.3 2019.4,902.5 2020.0,902.4 2020.7,902.6 2021.3,902.3 2022.0,902.4 2022.6,902.4 2023.3,902.6 2023.9,902.5 2024.6,902.4 2025.2,902.2 2025.9,902.4 2026.5,902.4 2027.2,902.5 2027.8,902.5 2028.4,902.5 2029.1,902.2 2029.7,902.6 2030.4,902.3 2031.0,901.7 2031.7,902.5 2032.3,902.6 2033.0,902.4 2033.6,902.3 2034.3,902.3 2034.9,902.4 2035.6,902.6 2036.2,902.5 2036.9,902.2 2037.5,902.3 2038.2,902.2 2038.8,902.5 2039.4,902.4 2040.1,902.4 2040.7,902.6 2041.4,902.3 2042.0,901.9 2042.7,902.4 2043.3,902.5 2044.0,902.3 2044.6,902.3 2045.3,902.3 2045.9,902.4 2046.6,902.5 2047.2,902.1 2047.9,902.6 2048.5,902.6 2049.2,902.5 2049.8,902.1 2050.4,902.5 2051.1,902.5 2051.7,902.3 2052.4,902.5 2053.0,902.3 2053.7,902.5 2054.3,902.4 2055.0,902.5 2055.6,902.3 2056.3,902.6 2056.9,902.5 2057.6,902.4 2058.2,902.4 2058.9,902.6 2059.5,902.2 2060.1,902.2 2060.8,902.5 2061.4,902.4 2062.1,902.2 2062.7,902.5 2063.4,901.4 2064.0,902.6 2064.7,902.1 2065.3,902.5 2066.0,902.3 2066.6,902.4 2067.3,902.5 2067.9,902.5 2068.6,902.1 2069.2,902.5 2069.9,902.4 2070.5,902.4 2071.1,902.4 2071.8,902.3 2072.4,902.1 2073.1,902.3 2073.7,901.9 2074.4,901.9 2075.0,901.7 2075.7,901.5 2076.3,901.3 2077.0,900.7 2077.6,900.5 2078.3,900.2 2078.9,900.1 2079.6,901.2 2080.2,901.5 2080.9,901.7 2081.5,901.7" fill="none" stroke="#ff0000" stroke-width="8" stroke-linejoin="round" stroke-linecap="butt"/>
<polyline points="140.5,500.7 141.1,500.2 141.8,500.8 142.4,500.7 143.1,500.3 143.7,500.1 144.4,500.4 145.0,500.7 145.7,500.4 146.3,500.5 147.0,500.7 147.6,500.7 148.3,500.7 148.9,500.5 149.6,500.7 150.2,500.7 150.9,500.7 151.5,500.7 152.1,500.6 152.8,500.8 153.4,500.4 154.1,500.7 154.7,500.6 155.4,500.6 156.0,500.1 156.7,500.4 157.3,500.7 158.0,500.7 158.6,500.4 159.3,500.8 159.9,500.2 160.6,500.7 161.2,500.0 161.9,500.7 162.5,500.8 163.1,500.7 163.8,500.4 164.4,500.8 165.1,500.6 165.7,500.6 166.4,500.7 167.0,500.5 167.7,500.7 168.3,500.3 169.0,500.6 169.6,500.6 170.3,500.5 170.9,500.6 171.6,500.7 172.2,500.8 172.8,500.5 173.5,500.8 174.1,500.3 174.8,500.4 175.4,500.7 176.1,500.8 176.7,500.5 177.4,500.6 178.0,500.7 178.7,500.7 179.3,500.5 180.0,500.6 180.6,500.4 181.3,500.7 181.9,500.8 182.6,500.4 183.2,500.6 183.8,500.5 184.5,500.6 185.1,500.6 185.8,500.7 186.4,500.4 187.1,500.4 187.7,500.6 188.4,500.4 189.0,500.7 189.7,500.7 190.3,500.6 191.0,500.6 191.6,500.6 192.3,499.9 192.9,500.6 193.6,500.6 194.2,500.7 194.8,500.6 195.5,500.8 196.1,500.8 196.8,500.7 197.4,500.7 198.1,500.7 198.7,500.3 199.4,500.5 200.0,500.0 200.7,500.7 201.3,500.8 202.0,500.2 202.6,500.6 203.3,500.4 203.9,500.6 204.6,500.7 205.2,500.6 205.8,500.7 206.5,500.5 207.1,500.8 207.8,500.7 208.4,500.6 209.1,500.6 209.7,500.6 210.4,500.8 211.0,500.7 211.7,500.6 212.3,500.6 213.0,500.3 213.6,500.5 214.3,500.6 214.9,500.4 215.6,500.7 216.2,500.5 216.8,500.7 217.5,500.6 218.1,500.5 218.8,500.5 219.4,500.5 220.1,500.5 220.7,499.6 221.4,500.2 222.0,500.8 222.7,500.7 223.3,500.5 224.0,500.4 224.6,500.3 225.3,500.8 225.9,500.6 226.6,500.6 227.2,500.6 227.8,500.7 228.5,500.8 229.1,500.5 229.8,500.5 230.4,500.7 231.1,500.3 231.7,500.1 232.4,500.8 233.0,500.7 233.7,500.8 234.3,500.4 235.0,500.8 235.6,500.7 236.3,500.4 236.9,500.4 237.6,500.8 238.2,500.5 238.8,500.7 239.5,500.5 240.1,500.8 240.8,500.5 241.4,500.3 242.1,500.5 242.7,500.6 243.4,500.8 244.0,500.7 244.7,500.7 245.3,500.4 246.0,500.2 246.6,500.5 247.3,500.7 247.9,500.4 248.5,500.6 249.2,500.7 249.8,500.4 250.5,500.5 251.1,500.7 251.8,500.4 252.4,500.6 253.1,500.5 253.7,500.6 254.4,500.8 255.0,500.7 255.7,500.8 256.3,500.8 257.0,500.7 257.6,500.6 258.3,500.3 258.9,500.6 259.5,500.6 260.2,500.7 260.8,500.4 261.5,500.7 262.1,500.6 262.8,500.8 263.4,500.7 264.1,500.6 264.7,500.7 265.4,500.7 266.0,500.7 266.7,500.8 267.3,500.3 268.0,500.4 268.6,500.3 269.3,500.6 269.9,500.7 270.5,500.5 271.2,500.0 271.8,500.5 272.5,500.8 273.1,500.6 273.8,500.7 274.4,500.7 275.1,500.8 275.7,500.3 276.4,500.7 277.0,500.7 277.7,500.8 278.3,500.4 279.0,500.6 279.6,500.5 280.3,500.6 280.9,500.8 281.5,500.8 282.2,500.7 282.8,500.7 283.5,500.4 284.1,500.8 284.8,500.5 285.4,500.8 286.1,500.6 286.7,500.5 287.4,500.8 288.0,500.6 288.7,500.5 289.3,500.6 290.0,500.7 290.6,500.2 291.3,500.5 291.9,500.7 292.5,500.6 293.2,500.7 293.8,500.4 294.5,500.3 295.1,500.4 295.8,500.8 296.4,500.4 297.1,500.1 297.7,500.5 298.4,500.5 299.0,500.7 299.7,500.7 300.3,500.7 301.0,500.3 301.6,500.7 302.2,500.5 302.9,500.3 303.5,500.4 304.2,500.7 304.8,500.6 305.5,500.6 306.1,500.5 306.8,500.8 307.4,500.7 308.1,500.6 308.7,500.5 309.4,500.5 310.0,500.6 310.7,500.7 311.3,500.4 312.0,500.2 312.6,500.6 313.2,500.7 313.9,500.8 314.5,499.9 315.2,500.7 315.8,500.7 316.5,500.7 317.1,500.7 317.8,500.7 318.4,500.4 319.1,500.4 319.7,500.5 320.4,500.6 321.0,500.7 321.7,500.5 322.3,500.7 323.0,500.7 323.6,500.8 324.2,500.4 324.9,500.6 325.5,500.6 326.2,500.1 326.8,500.6 327.5,500.7 328.1,500.7 328.8,500.7 329.4,500.4 330.1,500.6 330.7,500.7 331.4,500.8 332.0,500.6 332.7,500.8 333.3,500.7 334.0,500.6 334.6,500.7 335.2,500.7 335.9,500.5 336.5,500.0 337.2,500.2 337.8,499.9 338.5,500.6 339.1,500.4 339.8,500.7 340.4,500.7 341.1,500.4 341.7,500.5 342.4,500.6 343.0,500.6 343.7,500.6 344.3,500.6 345.0,500.6 345.6,500.7 346.2,500.7 346.9,500.4 347.5,500.7 348.2,500.6 348.8,500.3 349.5,500.4 350.1,500.7 350.8,500.3 351.4,500.4 352.1,500.6 352.7,500.7 353.4,500.6 354.0,500.1 354.7,500.7 355.3,500.4 356.0,500.6 356.6,500.6 357.2,500.4 357.9,500.6 358.5,500.4 359.2,500.5 359.8,500.3 360.5,500.4 361.1,500.3 361.8,500.4 362.4,500.3 363.1,500.3 363.7,500.0 364.4,500.1 365.0,500.0 365.7,499.5 366.3,499.6 366.9,499.3 367.6,499.1 368.2,499.2 368.9,498.6 369.5,498.7 370.2,498.0 370.8,497.4 371.5,496.6 372.1,495.6 372.8,494.1 373.4,491.6 374.1,488.9 374.7,484.4 375.4,477.9 376.0,468.0 376.7,453.9 377.3,431.9 377.9,399.6 378.6,354.0 379.2,296.4 379.9,236.2 380.5,192.6 381.2,181.9 381.8,199.4 382.5,233.1 383.1,275.6 383.8,323.3 384.4,368.7 385.1,407.9 385.7,436.9 386.4,456.8 387.0,470.3 387.7,479.3 388.3,485.1 388.9,489.1 389.6,491.8 390.2,494.0 390.9,495.9 391.5,496.7 392.2,497.8 392.8,498.2 393.5,498.6 394.1,498.9 394.8,499.3 395.4,499.6 396.1,499.9 396.7,499.8 397.4,500.1 398.0,500.1 398.7,500.3 399.3,500.2 399.9,500.4 400.6,498.9 401.2,500.5 401.9,500.1 402.5,500.4 403.2,500.5 403.8,500.5 404.5,500.6 405.1,500.6 405.8,500.1 406.4,500.5 407.1,500.6 407.7,500.6 408.4,500.6 409.0,500.3 409.7,499.8 410.3,500.4 410.9,500.0 411.6,500.5 412.2,500.7 412.9,499.7 413.5,500.7 414.2,500.6 414.8,500.4 415.5,500.4 416.1,500.8 416.8,500.4 417.4,500.7 418.1,500.5 418.7,500.5 419.4,500.6 420.0,500.3 420.7,500.8 421.3,500.8 421.9,500.7 422.6,500.6 423.2,500.4 423.9,500.7 424.5,500.6 425.2,500.7 425.8,500.8 426.5,500.5 427.1,500.6 427.8,500.8 428.4,500.3 429.1,500.4 429.7,500.8 430.4,500.7 431.0,500.6 431.6,500.8 432.3,500.5 432.9,500.3 433.6,500.7 434.2,500.2 434.9,500.8 435.5,500.6 436.2,500.3 436.8,500.5 437.5,500.4 438.1,500.8 438.8,500.6 439.4,500.8 440.1,500.7 440.7,500.8 441.4,499.8 442.0,500.7 442.6,500.5 443.3,500.8 443.9,500.7 444.6,500.7 445.2,500.7 445.9,500.8 446.5,500.6 447.2,500.7 447.8,500.6 448.5,500.5 449.1,500.5 449.8,500.5 450.4,500.7 451.1,500.7 451.7,500.6 452.4,500.5 453.0,500.5 453.6,500.7 454.3,500.8 454.9,500.8 455.6,500.5 456.2,500.7 456.9,500.7 457.5,500.7 458.2,500.6 458.8,500.6 459.5,500.2 460.1,500.7 460.8,500.6 461.4,500.6 462.1,500.7 462.7,500.4 463.4,500.7 464.0,500.5 464.6,500.8 465.3,500.6 465.9,500.8 466.6,500.8 467.2,500.6 467.9,499.1 468.5,500.7 469.2,500.6 469.8,500.4 470.5,500.8 471.1,500.8 471.8,500.7 472.4,500.7 473.1,500.7 473.7,500.4 474.4,500.3 475.0,500.8 475.6,500.7 476.3,500.5 476.9,500.7 477.6,500.7 478.2,500.4 478.9,500.5 479.5,500.8 480.2,500.7 480.8,500.7 481.5,500.6 482.1,500.6 482.8,500.6 483.4,500.6 484.1,500.7 484.7,500.7 485.4,500.8 486.0,500.6 486.6,500.3 487.3,500.7 487.9,500.6 488.6,500.5 489.2,500.6 489.9,500.5 490.5,500.8 491.2,500.6 491.8,500.7 492.5,499.7 493.1,500.7 493.8,500.5 494.4,500.6 495.1,500.4 495.7,500.6 496.4,500.5 497.0,500.7 497.6,500.7 498.3,500.4 498.9,500.7 499.6,500.4 500.2,500.4 500.9,500.4 501.5,500.7 502.2,500.7 502.8,500.4 503.5,500.7 504.1,500.7 504.8,500.5 505.4,500.8 506.1,500.7 506.7,500.4 507.3,500.6 508.0,500.7 508.6,500.5 509.3,500.7 509.9,500.7 510.6,500.4 511.2,500.4 511.9,500.5 512.5,500.5 513.2,500.7 513.8,500.8 514.5,500.6 515.1,500.4 515.8,500.8 516.4,500.7 517.1,500.7 517.7,500.5 518.3,500.7 519.0,500.5 519.6,500.6 520.3,500.6 520.9,500.6 521.6,500.7 522.2,500.8 522.9,500.5 523.5,500.7 524.2,500.3 524.8,500.6 525.5,500.7 526.1,500.5 526.8,500.8 527.4,500.5 528.1,500.7 528.7,500.7 529.3,500.7 530.0,500.3 530.6,500.6 531.3,500.7 531.9,500.8 532.6,500.1 533.2,500.7 533.9,500.7 534.5,500.8 535.2,500.7 535.8,500.6 536.5,500.7 537.1,500.8 537.8,500.7 538.4,500.8 539.1,500.7 539.7,500.6 540.3,500.7 541.0,500.8 541.6,500.8 542.3,500.6 542.9,500.7 543.6,500.6 544.2,500.4 544.9,500.7 545.5,500.6 546.2,500.5 546.8,500.6 547.5,500.6 548.1,500.7 548.8,500.5 549.4,500.7 550.1,500.5 550.7,500.3 551.3,500.8 552.0,500.3 552.6,500.5 553.3,500.7 553.9,500.7 554.6,500.5 555.2,500.7 555.9,500.4 556.5,500.7 557.2,500.4 557.8,500.5 558.5,500.6 559.1,500.8 559.8,500.5 560.4,500.7 561.0,500.3 561.7,500.8 562.3,500.7 563.0,500.7 563.6,500.6 564.3,500.8 564.9,500.5 565.6,500.5 566.2,500.3 566.9,500.7 567.5,500.4 568.2,500.8 568.8,500.3 569.5,500.7 570.1,500.7 570.8,500.6 571.4,500.5 572.0,500.7 572.7,500.6 573.3,500.5 574.0,500.3 574.6,500.5 575.3,500.8 575.9,500.4 576.6,500.7 577.2,500.6 577.9,500.6 578.5,500.7 579.2,500.8 579.8,500.1 580.5,500.7 581.1,500.2 581.8,500.4 582.4,500.0 583.0,500.5 583.7,500.8 584.3,500.6 585.0,500.7 585.6,499.6 586.3,500.7 586.9,500.8 587.6,500.5 588.2,500.5 588.9,500.6 589.5,500.1 590.2,500.4 590.8,500.7 591.5,500.6 592.1,500.5 592.8,500.6 593.4,500.2 594.0,500.8 594.7,500.7 595.3,500.6 596.0,500.6 596.6,500.4 597.3,500.7 597.9,500.1 598.6,500.7 599.2,500.8 599.9,500.5 600.5,500.6 601.2,500.8 601.8,500.8 602.5,500.6 603.1,500.8 603.8,500.8 604.4,500.8 605.0,500.4 605.7,500.3 606.3,500.6 607.0,500.5 607.6,500.6 608.3,500.6 608.9,500.4 609.6,500.1 610.2,500.7 610.9,500.8 611.5,500.6 612.2,500.7 612.8,500.8 613.5,500.8 614.1,500.8 614.8,500.5 615.4,500.6 616.0,500.6 616.7,500.4 617.3,500.7 618.0,500.5 618.6,500.8 619.3,500.8 619.9,500.8 620.6,500.7 621.2,500.6 621.9,500.5 622.5,500.7 623.2,500.6 623.8,500.7 624.5,500.4 625.1,500.4 625.8,500.2 626.4,500.6 627.0,500.6 627.7,500.5 628.3,500.5 629.0,500.6 629.6,500.4 630.3,500.7 630.9,500.6 631.6,500.7 632.2,500.7 632.9,500.6 633.5,500.5 634.2,500.6 634.8,500.4 635.5,500.6 636.1,500.4 636.7,500.4 637.4,500.6 638.0,500.7 638.7,499.5 639.3,500.4 640.0,500.3 640.6,500.6 641.3,500.2 641.9,500.1 642.6,500.0 643.2,500.6 643.9,500.4 644.5,500.3 645.2,500.3 645.8,499.8 646.5,499.6 647.1,500.1 647.7,500.1 648.4,500.1 649.0,499.7 649.7,499.4 650.3,499.4 651.0,499.2 651.6,498.7 652.3,498.2 652.9,497.4 653.6,496.2 654.2,494.5 654.9,492.1 655.5,488.9 656.2,483.7 656.8,476.1 657.5,464.0 658.1,447.7 658.7,424.9 659.4,399.5 660.0,378.2 660.7,368.6 661.3,373.6 662.0,385.3 662.6,398.1 663.3,409.8 663.9,423.9 664.6,439.9 665.2,456.3 665.9,469.3 666.5,479.2 667.2,485.9 667.8,490.2 668.5,493.4 669.1,495.3 669.7,496.7 670.4,497.8 671.0,498.3 671.7,499.1 672.3,499.2 673.0,499.1 673.6,499.8 674.3,499.9 674.9,500.2 675.6,500.1 676.2,500.3 676.9,499.9 677.5,500.2 678.2,500.4 678.8,500.6 679.5,500.6 680.1,500.4 680.7,500.7 681.4,500.1 682.0,500.5 682.7,500.5 683.3,500.3 684.0,500.3 684.6,500.6 685.3,500.7 685.9,500.3 686.6,500.7 687.2,500.4 687.9,500.7 688.5,500.7 689.2,500.6 689.8,500.5 690.5,500.7 691.1,500.6 691.7,500.7 692.4,500.3 693.0,500.7 693.7,500.7 694.3,500.5 695.0,500.6 695.6,500.4 696.3,500.7 696.9,500.8 697.6,500.7 698.2,500.7 698.9,500.8 699.5,500.5 700.2,500.6 700.8,500.6 701.4,500.1 702.1,500.6 702.7,500.5 703.4,500.8 704.0,500.7 704.7,500.5 705.3,500.8 706.0,500.8 706.6,500.8 707.3,500.6 707.9,500.8 708.6,500.7 709.2,500.5 709.9,500.4 710.5,500.8 711.2,500.7 711.8,500.5 712.4,500.7 713.1,500.5 713.7,500.4 714.4,500.7 715.0,500.6 715.7,500.5 716.3,500.3 717.0,500.4 717.6,500.7 718.3,500.4 718.9,500.6 719.6,500.1 720.2,500.4 720.9,500.7 721.5,500.6 722.2,500.1 722.8,500.5 723.4,500.5 724.1,500.4 724.7,500.6 725.4,500.6 726.0,500.4 726.7,500.7 727.3,500.7 728.0,500.6 728.6,500.8 729.3,500.8 729.9,500.7 730.6,500.6 731.2,500.7 731.9,500.3 732.5,500.8 733.2,500.6 733.8,500.8 734.4,500.5 735.1,500.6 735.7,500.2 736.4,500.7 737.0,500.5 737.7,500.8 738.3,500.5 739.0,500.6 739.6,500.6 740.3,500.4 740.9,500.5 741.6,500.7 742.2,500.3 742.9,500.7 743.5,500.7 744.2,500.6 744.8,500.7 745.4,500.5 746.1,500.7 746.7,500.5 747.4,500.7 748.0,500.6 748.7,500.4 749.3,500.5 750.0,500.2 750.6,500.6 751.3,500.0 751.9,500.6 752.6,500.4 753.2,500.2 753.9,500.3 754.5,500.1 755.1,499.3 755.8,499.7 756.4,499.1 757.1,498.6 757.7,497.4 758.4,496.3 759.0,494.0 759.7,491.5 760.3,488.1 761.0,485.0 761.6,483.5 762.3,484.0 762.9,485.5 763.6,487.3 764.2,488.6 764.9,489.7 765.5,491.6 766.1,493.5 766.8,495.5 767.4,496.0 768.1,498.3 768.7,499.0 769.4,499.4 770.0,499.8 770.7,500.1 771.3,500.1 772.0,500.0 772.6,500.5 773.3,500.4 773.9,500.4 774.6,500.5 775.2,500.4 775.9,500.5 776.5,500.2 777.1,500.5 777.8,500.5 778.4,500.5 779.1,500.3 779.7,500.6 780.4,500.6 781.0,500.8 781.7,500.6 782.3,500.7 783.0,500.7 783.6,500.5 784.3,500.2 784.9,500.6 785.6,500.7 786.2,500.4 786.9,500.4 787.5,500.6 788.1,500.7 788.8,500.6 789.4,500.6 790.1,500.7 790.7,500.7 791.4,500.6 792.0,500.2 792.7,500.7 793.3,500.5 794.0,500.5 794.6,500.8 795.3,500.5 795.9,499.5 796.6,500.4 797.2,500.5 797.9,500.8 798.5,500.6 799.1,500.5 799.8,500.4 800.4,500.4 801.1,500.7 801.7,500.2 802.4,500.0 803.0,500.7 803.7,500.6 804.3,500.5 805.0,500.4 805.6,500.5 806.3,500.4 806.9,500.5 807.6,500.3 808.2,500.4 808.9,500.7 809.5,499.5 810.1,500.6 810.8,500.4 811.4,500.6 812.1,500.3 812.7,500.4 813.4,500.5 814.0,500.6 814.7,500.4 815.3,500.4 816.0,500.1 816.6,500.2 817.3,500.1 817.9,499.9 818.6,499.7 819.2,499.5 819.9,499.1 820.5,498.2 821.1,497.8 821.8,497.0 822.4,495.6 823.1,493.4 823.7,489.9 824.4,485.1 825.0,477.4 825.7,467.3 826.3,455.3 827.0,444.5 827.6,438.9 828.3,440.4 828.9,446.5 829.6,452.5 830.2,457.3 830.8,460.7 831.5,466.2 832.1,473.4 832.8,480.6 833.4,486.3 834.1,490.9 834.7,493.6 835.4,495.7 836.0,497.4 836.7,498.3 837.3,498.6 838.0,499.4 838.6,499.7 839.3,499.5 839.9,500.0 840.6,500.1 841.2,500.2 841.8,500.1 842.5,500.4 843.1,500.5 843.8,500.4 844.4,500.4 845.1,500.4 845.7,500.7 846.4,500.6 847.0,500.6 847.7,500.5 848.3,500.7 849.0,500.7 849.6,500.4 850.3,500.4 850.9,500.3 851.6,500.7 852.2,500.3 852.8,500.6 853.5,500.6 854.1,500.6 854.8,500.5 855.4,500.7 856.1,500.7 856.7,500.6 857.4,500.5 858.0,500.4 858.7,500.4 859.3,500.0 860.0,500.7 860.6,500.7 861.3,500.4 861.9,500.5 862.6,500.6 863.2,500.6 863.8,500.7 864.5,500.7 865.1,500.6 865.8,500.8 866.4,500.8 867.1,500.3 867.7,500.7 868.4,500.8 869.0,500.4 869.7,500.7 870.3,500.4 871.0,500.7 871.6,500.5 872.3,500.7 872.9,500.6 873.6,500.8 874.2,500.5 874.8,500.5 875.5,500.7 876.1,500.3 876.8,500.6 877.4,500.3 878.1,500.6 878.7,500.2 879.4,500.8 880.0,500.4 880.7,500.8 881.3,500.7 882.0,500.7 882.6,500.6 883.3,500.7 883.9,500.7 884.5,500.4 885.2,500.8 885.8,500.6 886.5,500.7 887.1,500.2 887.8,500.6 888.4,500.5 889.1,500.4 889.7,500.7 890.4,500.5 891.0,500.8 891.7,500.2 892.3,500.7 893.0,500.7 893.6,500.7 894.3,500.4 894.9,500.3 895.5,500.7 896.2,500.6 896.8,500.5 897.5,500.8 898.1,500.8 898.8,500.6 899.4,500.7 900.1,500.4 900.7,500.2 901.4,500.4 902.0,500.7 902.7,500.5 903.3,500.7 904.0,500.6 904.6,500.1 905.3,500.6 905.9,500.5 906.5,500.4 907.2,500.6 907.8,500.4 908.5,500.3 909.1,500.2 909.8,500.2 910.4,499.8 911.1,500.0 911.7,499.8 912.4,498.9 913.0,498.7 913.7,497.8 914.3,496.7 915.0,494.9 915.6,492.5 916.3,488.9 916.9,485.1 917.5,481.8 918.2,480.4 918.8,481.9 919.5,484.1 920.1,486.0 920.8,487.2 921.4,488.3 922.1,489.4 922.7,491.7 923.4,494.0 924.0,496.0 924.7,497.4 925.3,498.5 926.0,499.0 926.6,499.6 927.3,499.7 927.9,499.9 928.5,499.8 929.2,500.3 929.8,500.4 930.5,500.2 931.1,500.6 931.8,500.5 932.4,500.5 933.1,500.7 933.7,500.5 934.4,500.4 935.0,500.6 935.7,500.6 936.3,500.6 937.0,500.4 937.6,500.8 938.3,500.7 938.9,500.7 939.5,500.7 940.2,500.8 940.8,500.6 941.5,500.4 942.1,500.7 942.8,500.7 943.4,500.4 944.1,500.5 944.7,500.7 945.4,500.6 946.0,500.5 946.7,500.5 947.3,500.4 948.0,500.5 948.6,500.7 949.2,500.7 949.9,500.5 950.5,500.7 951.2,500.5 951.8,500.7 952.5,500.6 953.1,500.5 953.8,500.6 954.4,500.4 955.1,500.5 955.7,500.7 956.4,500.7 957.0,500.6 957.7,500.7 958.3,500.5 959.0,500.8 959.6,500.7 960.2,500.8 960.9,500.3 961.5,500.6 962.2,500.8 962.8,500.2 963.5,500.6 964.1,500.6 964.8,500.7 965.4,500.7 966.1,500.6 966.7,500.6 967.4,500.2 968.0,500.4 968.7,500.7 969.3,500.8 970.0,500.8 970.6,500.4 971.2,500.6 971.9,500.8 972.5,500.6 973.2,500.4 973.8,500.5 974.5,500.4 975.1,500.5 975.8,500.3 976.4,500.8 977.1,499.6 977.7,500.6 978.4,500.4 979.0,500.8 979.7,500.5 980.3,500.7 981.0,500.5 981.6,500.5 982.2,500.8 982.9,500.8 983.5,500.5 984.2,500.6 984.8,500.3 985.5,500.7 986.1,500.4 986.8,500.2 987.4,500.8 988.1,500.5 988.7,500.4 989.4,500.5 990.0,500.2 990.7,500.5 991.3,500.2 992.0,500.6 992.6,500.5 993.2,500.7 993.9,500.7 994.5,500.4 995.2,500.6 995.8,500.8 996.5,500.6 997.1,500.4 997.8,500.8 998.4,500.7 999.1,500.6 999.7,500.7 1000.4,500.3 1001.0,500.3 1001.7,500.7 1002.3,500.1 1003.0,500.7 1003.6,500.5 1004.2,500.6 1004.9,500.7 1005.5,500.6 1006.2,500.8 1006.8,500.3 1007.5,500.5 1008.1,500.6 1008.8,500.7 1009.4,500.6 1010.1,500.4 1010.7,500.7 1011.4,500.6 1012.0,500.8 1012.7,500.5 1013.3,500.7 1014.0,500.4 1014.6,500.6 1015.2,500.6 1015.9,500.2 1016.5,500.5 1017.2,500.6 1017.8,500.7 1018.5,500.7 1019.1,500.6 1019.8,500.8 1020.4,500.6 1021.1,500.8 1021.7,500.7 1022.4,500.3 1023.0,500.4 1023.7,500.7 1024.3,500.7 1024.9,500.6 1025.6,500.6 1026.2,500.7 1026.9,500.8 1027.5,500.5 1028.2,500.7 1028.8,500.5 1029.5,500.5 1030.1,500.8 1030.8,500.4 1031.4,500.5 1032.1,500.8 1032.7,500.3 1033.4,500.7 1034.0,500.3 1034.7,500.7 1035.3,500.6 1035.9,500.6 1036.6,500.7 1037.2,500.5 1037.9,500.7 1038.5,500.4 1039.2,500.7 1039.8,500.4 1040.5,500.7 1041.1,500.7 1041.8,500.5 1042.4,500.8 1043.1,500.7 1043.7,500.8 1044.4,500.8 1045.0,500.2 1045.7,500.8 1046.3,500.8 1046.9,500.7 1047.6,500.6 1048.2,500.4 1048.9,500.4 1049.5,500.4 1050.2,500.1 1050.8,500.8 1051.5,500.7 1052.1,500.5 1052.8,500.8 1053.4,500.7 1054.1,500.6 1054.7,500.5 1055.4,500.7 1056.0,500.3 1056.7,500.3 1057.3,500.5 1057.9,500.8 1058.6,500.7 1059.2,500.5 1059.9,500.8 1060.5,500.6 1061.2,500.6 1061.8,500.6 1062.5,500.6 1063.1,500.4 1063.8,500.5 1064.4,500.6 1065.1,500.6 1065.7,500.4 1066.4,500.5 1067.0,500.2 1067.7,500.6 1068.3,500.1 1068.9,500.6 1069.6,500.5 1070.2,500.4 1070.9,500.7 1071.5,500.8 1072.2,500.7 1072.8,500.7 1073.5,500.6 1074.1,500.6 1074.8,500.8 1075.4,500.4 1076.1,500.6 1076.7,500.7 1077.4,500.5 1078.0,500.5 1078.7,500.7 1079.3,500.8 1079.9,500.5 1080.6,500.2 1081.2,500.3 1081.9,500.7 1082.5,500.7 1083.2,500.6 1083.8,500.4 1084.5,500.7 1085.1,500.1 1085.8,500.5 1086.4,500.6 1087.1,500.5 1087.7,500.7 1088.4,500.5 1089.0,500.3 1089.6,500.5 1090.3,500.7 1090.9,500.6 1091.6,500.8 1092.2,500.6 1092.9,500.7 1093.5,500.7 1094.2,500.5 1094.8,500.4 1095.5,500.5 1096.1,500.6 1096.8,500.7 1097.4,500.6 1098.1,500.7 1098.7,500.4 1099.4,500.5 1100.0,500.7 1100.6,500.8 1101.3,500.3 1101.9,500.5 1102.6,500.6 1103.2,500.7 1103.9,500.6 1104.5,500.5 1105.2,500.8 1105.8,500.8 1106.5,500.2 1107.1,500.6 1107.8,500.6 1108.4,500.6 1109.1,500.5 1109.7,500.8 1110.4,500.6 1111.0,500.5 1111.6,500.7 1112.3,500.7 1112.9,500.6 1113.6,500.7 1114.2,500.2 1114.9,500.5 1115.5,500.2 1116.2,500.8 1116.8,500.8 1117.5,500.7 1118.1,500.5 1118.8,500.7 1119.4,500.4 1120.1,500.7 1120.7,500.7 1121.4,500.6 1122.0,500.7 1122.6,500.4 1123.3,500.4 1123.9,500.8 1124.6,500.5 1125.2,500.8 1125.9,500.7 1126.5,500.7 1127.2,500.4 1127.8,500.5 1128.5,500.6 1129.1,500.7 1129.8,500.7 1130.4,500.8 1131.1,500.4 1131.7,500.7 1132.4,500.8 1133.0,500.7 1133.6,500.5 1134.3,500.6 1134.9,500.8 1135.6,500.6 1136.2,500.7 1136.9,500.7 1137.5,500.8 1138.2,500.7 1138.8,500.8 1139.5,500.6 1140.1,500.7 1140.8,500.8 1141.4,500.5 1142.1,500.7 1142.7,500.8 1143.3,500.8 1144.0,500.3 1144.6,500.8 1145.3,500.3 1145.9,500.4 1146.6,500.5 1147.2,500.5 1147.9,500.3 1148.5,500.7 1149.2,500.4 1149.8,500.7 1150.5,500.4 1151.1,500.5 1151.8,500.4 1152.4,500.7 1153.1,500.8 1153.7,500.6 1154.3,500.5 1155.0,500.3 1155.6,500.6 1156.3,500.4 1156.9,500.6 1157.6,500.3 1158.2,500.5 1158.9,500.4 1159.5,500.8 1160.2,500.7 1160.8,500.7 1161.5,500.7 1162.1,500.5 1162.8,500.6 1163.4,500.7 1164.1,500.5 1164.7,500.6 1165.3,500.3 1166.0,500.8 1166.6,500.8 1167.3,500.6 1167.9,500.5 1168.6,500.4 1169.2,500.8 1169.9,500.7 1170.5,500.3 1171.2,500.1 1171.8,500.3 1172.5,500.7 1173.1,500.7 1173.8,500.6 1174.4,500.7 1175.1,500.6 1175.7,500.2 1176.3,500.7 1177.0,500.7 1177.6,500.5 1178.3,500.7 1178.9,500.4 1179.6,500.8 1180.2,500.7 1180.9,500.6 1181.5,500.6 1182.2,500.7 1182.8,500.8 1183.5,499.2 1184.1,500.8 1184.8,500.8 1185.4,500.5 1186.1,500.8 1186.7,500.5 1187.3,500.2 1188.0,500.6 1188.6,500.8 1189.3,500.6 1189.9,500.7 1190.6,500.7 1191.2,500.2 1191.9,500.5 1192.5,500.6 1193.2,500.5 1193.8,500.8 1194.5,500.5 1195.1,500.6 1195.8,500.4 1196.4,500.2 1197.1,500.7 1197.7,500.7 1198.3,500.8 1199.0,500.8 1199.6,500.8 1200.3,500.6 1200.9,500.4 1201.6,500.7 1202.2,500.8 1202.9,500.5 1203.5,500.7 1204.2,500.8 1204.8,500.7 1205.5,500.7 1206.1,500.7 1206.8,500.6 1207.4,500.5 1208.0,500.5 1208.7,500.7 1209.3,500.5 1210.0,500.8 1210.6,500.7 1211.3,500.7 1211.9,500.4 1212.6,500.7 1213.2,500.8 1213.9,500.7 1214.5,500.5 1215.2,500.3 1215.8,500.7 1216.5,500.7 1217.1,500.7 1217.8,500.5 1218.4,500.7 1219.0,500.4 1219.7,500.5 1220.3,500.7 1221.0,500.6 1221.6,500.6 1222.3,500.2 1222.9,500.4 1223.6,500.6 1224.2,500.7 1224.9,500.7 1225.5,500.4 1226.2,500.3 1226.8,500.2 1227.5,500.7 1228.1,500.2 1228.8,500.6 1229.4,500.5 1230.0,500.3 1230.7,500.1 1231.3,500.5 1232.0,500.4 1232.6,500.5 1233.3,500.5 1233.9,500.1 1234.6,500.3 1235.2,500.4 1235.9,500.0 1236.5,500.2 1237.2,500.2 1237.8,499.9 1238.5,499.5 1239.1,499.7 1239.8,499.4 1240.4,499.2 1241.0,498.6 1241.7,498.4 1242.3,497.3 1243.0,496.7 1243.6,495.4 1244.3,493.3 1244.9,490.4 1245.6,486.7 1246.2,480.8 1246.9,471.5 1247.5,457.6 1248.2,438.1 1248.8,410.5 1249.5,378.7 1250.1,351.3 1250.8,339.6 1251.4,348.9 1252.0,371.5 1252.7,393.8 1253.3,408.3 1254.0,413.1 1254.6,412.8 1255.3,413.9 1255.9,422.4 1256.6,436.8 1257.2,453.5 1257.9,467.5 1258.5,477.6 1259.2,484.8 1259.8,489.5 1260.5,492.8 1261.1,495.1 1261.8,496.5 1262.4,497.6 1263.0,498.3 1263.7,498.7 1264.3,499.3 1265.0,499.3 1265.6,499.8 1266.3,499.9 1266.9,499.7 1267.6,499.9 1268.2,499.9 1268.9,500.1 1269.5,500.4 1270.2,500.0 1270.8,500.2 1271.5,500.5 1272.1,500.3 1272.8,500.6 1273.4,500.3 1274.0,500.3 1274.7,500.6 1275.3,500.7 1276.0,500.1 1276.6,500.6 1277.3,500.6 1277.9,500.6 1278.6,500.6 1279.2,500.2 1279.9,500.7 1280.5,500.6 1281.2,500.7 1281.8,500.7 1282.5,500.4 1283.1,500.3 1283.7,500.6 1284.4,500.6 1285.0,500.3 1285.7,500.6 1286.3,500.5 1287.0,500.6 1287.6,500.6 1288.3,500.7 1288.9,500.7 1289.6,500.5 1290.2,500.8 1290.9,500.7 1291.5,500.7 1292.2,500.5 1292.8,500.5 1293.5,500.3 1294.1,500.1 1294.7,500.6 1295.4,500.5 1296.0,500.5 1296.7,500.6 1297.3,500.4 1298.0,500.5 1298.6,500.6 1299.3,500.2 1299.9,500.4 1300.6,500.7 1301.2,500.7 1301.9,500.8 1302.5,500.7 1303.2,500.5 1303.8,500.4 1304.5,500.6 1305.1,500.5 1305.7,500.5 1306.4,500.7 1307.0,500.5 1307.7,500.5 1308.3,500.7 1309.0,500.6 1309.6,499.8 1310.3,500.3 1310.9,500.5 1311.6,500.4 1312.2,500.5 1312.9,500.2 1313.5,499.9 1314.2,500.2 1314.8,500.3 1315.5,499.9 1316.1,499.9 1316.7,499.9 1317.4,499.6 1318.0,498.7 1318.7,498.0 1319.3,497.6 1320.0,496.3 1320.6,494.2 1321.3,491.9 1321.9,487.9 1322.6,481.8 1323.2,473.4 1323.9,464.4 1324.5,457.5 1325.2,455.3 1325.8,458.9 1326.5,465.7 1327.1,472.1 1327.7,476.0 1328.4,477.0 1329.0,476.8 1329.7,476.6 1330.3,478.0 1331.0,481.8 1331.6,486.5 1332.3,490.6 1332.9,493.8 1333.6,495.9 1334.2,497.3 1334.9,498.2 1335.5,499.0 1336.2,499.5 1336.8,499.8 1337.5,500.1 1338.1,500.1 1338.7,499.9 1339.4,500.4 1340.0,500.4 1340.7,500.2 1341.3,500.3 1342.0,500.3 1342.6,500.3 1343.3,500.1 1343.9,500.5 1344.6,500.5 1345.2,500.7 1345.9,500.7 1346.5,500.2 1347.2,500.2 1347.8,500.6 1348.4,500.8 1349.1,500.6 1349.7,500.6 1350.4,500.6 1351.0,500.6 1351.7,500.7 1352.3,500.4 1353.0,500.6 1353.6,500.7 1354.3,500.6 1354.9,500.4 1355.6,500.5 1356.2,500.4 1356.9,500.7 1357.5,500.7 1358.2,500.3 1358.8,500.6 1359.4,500.5 1360.1,500.4 1360.7,500.5 1361.4,500.8 1362.0,500.6 1362.7,500.1 1363.3,500.6 1364.0,500.6 1364.6,500.4 1365.3,500.6 1365.9,500.3 1366.6,500.4 1367.2,500.2 1367.9,500.7 1368.5,500.7 1369.2,500.5 1369.8,500.7 1370.4,500.0 1371.1,500.7 1371.7,500.6 1372.4,500.5 1373.0,500.7 1373.7,500.8 1374.3,500.6 1375.0,500.1 1375.6,500.8 1376.3,500.5 1376.9,500.2 1377.6,500.6 1378.2,500.8 1378.9,500.5 1379.5,500.7 1380.2,500.3 1380.8,500.6 1381.4,500.8 1382.1,500.5 1382.7,499.4 1383.4,500.6 1384.0,499.7 1384.7,500.8 1385.3,500.8 1386.0,500.4 1386.6,500.6 1387.3,500.8 1387.9,500.3 1388.6,500.4 1389.2,500.5 1389.9,500.8 1390.5,500.7 1391.2,500.4 1391.8,500.7 1392.4,500.4 1393.1,500.4 1393.7,500.5 1394.4,500.7 1395.0,500.7 1395.7,500.7 1396.3,498.9 1397.0,500.3 1397.6,500.6 1398.3,500.6 1398.9,500.5 1399.6,500.5 1400.2,500.8 1400.9,500.6 1401.5,500.7 1402.2,500.1 1402.8,500.7 1403.4,500.6 1404.1,500.8 1404.7,500.7 1405.4,500.6 1406.0,500.3 1406.7,500.8 1407.3,500.8 1408.0,500.5 1408.6,500.6 1409.3,500.7 1409.9,500.7 1410.6,500.3 1411.2,500.8 1411.9,500.4 1412.5,500.4 1413.1,500.6 1413.8,500.6 1414.4,500.7 1415.1,500.7 1415.7,500.6 1416.4,500.5 1417.0,500.6 1417.7,500.8 1418.3,500.5 1419.0,500.2 1419.6,500.7 1420.3,500.6 1420.9,500.1 1421.6,500.6 1422.2,500.5 1422.9,500.5 1423.5,500.8 1424.1,500.7 1424.8,500.3 1425.4,500.6 1426.1,500.6 1426.7,500.7 1427.4,500.3 1428.0,500.6 1428.7,500.8 1429.3,500.1 1430.0,500.4 1430.6,500.7 1431.3,500.7 1431.9,500.8 1432.6,500.5 1433.2,500.7 1433.9,500.8 1434.5,500.3 1435.1,500.6 1435.8,500.6 1436.4,500.4 1437.1,500.5 1437.7,500.4 1438.4,500.5 1439.0,500.7 1439.7,500.6 1440.3,500.5 1441.0,500.6 1441.6,500.5 1442.3,500.6 1442.9,500.6 1443.6,500.6 1444.2,500.6 1444.9,500.6 1445.5,500.6 1446.1,500.4 1446.8,500.7 1447.4,500.4 1448.1,500.7 1448.7,500.7 1449.4,500.6 1450.0,500.6 1450.7,500.5 1451.3,500.7 1452.0,500.4 1452.6,500.6 1453.3,500.8 1453.9,500.7 1454.6,500.0 1455.2,500.7 1455.9,500.3 1456.5,500.7 1457.1,500.3 1457.8,500.6 1458.4,500.4 1459.1,500.6 1459.7,500.5 1460.4,500.6 1461.0,500.8 1461.7,500.7 1462.3,500.6 1463.0,500.3 1463.6,500.8 1464.3,500.8 1464.9,500.4 1465.6,500.5 1466.2,500.5 1466.8,500.4 1467.5,500.8 1468.1,500.7 1468.8,500.5 1469.4,500.5 1470.1,500.7 1470.7,500.4 1471.4,499.9 1472.0,500.5 1472.7,500.7 1473.3,500.7 1474.0,500.1 1474.6,500.7 1475.3,500.8 1475.9,500.7 1476.6,500.8 1477.2,500.6 1477.8,500.7 1478.5,500.6 1479.1,500.7 1479.8,500.6 1480.4,500.5 1481.1,500.5 1481.7,500.4 1482.4,500.5 1483.0,500.8 1483.7,500.6 1484.3,500.8 1485.0,500.8 1485.6,500.5 1486.3,500.4 1486.9,500.7 1487.6,500.5 1488.2,500.4 1488.8,500.7 1489.5,500.7 1490.1,500.6 1490.8,500.7 1491.4,500.5 1492.1,500.2 1492.7,500.7 1493.4,500.7 1494.0,500.8 1494.7,500.7 1495.3,500.2 1496.0,500.8 1496.6,500.5 1497.3,500.8 1497.9,500.7 1498.6,500.6 1499.2,500.5 1499.8,500.5 1500.5,500.6 1501.1,500.5 1501.8,500.7 1502.4,500.5 1503.1,500.7 1503.7,500.7 1504.4,500.7 1505.0,500.6 1505.7,500.7 1506.3,500.4 1507.0,500.6 1507.6,500.7 1508.3,500.7 1508.9,500.7 1509.6,500.5 1510.2,500.4 1510.8,500.6 1511.5,500.4 1512.1,500.6 1512.8,500.6 1513.4,500.6 1514.1,500.3 1514.7,500.2 1515.4,500.3 1516.0,500.0 1516.7,500.0 1517.3,499.4 1518.0,499.3 1518.6,499.1 1519.3,498.3 1519.9,497.2 1520.6,495.7 1521.2,493.4 1521.8,490.2 1522.5,485.9 1523.1,481.3 1523.8,478.3 1524.4,478.0 1525.1,480.6 1525.7,484.4 1526.4,487.8 1527.0,490.1 1527.7,490.5 1528.3,490.3 1529.0,489.4 1529.6,489.1 1530.3,490.1 1530.9,492.0 1531.5,494.0 1532.2,496.2 1532.8,497.6 1533.5,498.6 1534.1,499.1 1534.8,499.5 1535.4,499.7 1536.1,499.8 1536.7,500.4 1537.4,500.0 1538.0,500.2 1538.7,500.5 1539.3,500.6 1540.0,500.6 1540.6,500.5 1541.3,500.5 1541.9,500.1 1542.5,500.4 1543.2,500.7 1543.8,500.5 1544.5,500.4 1545.1,500.7 1545.8,500.7 1546.4,500.4 1547.1,500.7 1547.7,500.7 1548.4,500.6 1549.0,500.7 1549.7,500.5 1550.3,500.5 1551.0,500.4 1551.6,500.6 1552.3,500.3 1552.9,500.5 1553.5,500.5 1554.2,500.6 1554.8,500.2 1555.5,500.3 1556.1,499.9 1556.8,500.4 1557.4,500.0 1558.1,499.6 1558.7,499.9 1559.4,499.6 1560.0,498.8 1560.7,498.3 1561.3,497.4 1562.0,495.7 1562.6,493.6 1563.3,490.3 1563.9,486.6 1564.5,482.9 1565.2,481.8 1565.8,483.0 1566.5,485.5 1567.1,489.1 1567.8,491.4 1568.4,492.4 1569.1,492.8 1569.7,492.1 1570.4,491.3 1571.0,491.5 1571.7,492.3 1572.3,493.9 1573.0,495.9 1573.6,497.3 1574.3,498.4 1574.9,499.0 1575.5,499.7 1576.2,499.6 1576.8,500.0 1577.5,500.2 1578.1,500.2 1578.8,500.4 1579.4,500.2 1580.1,500.1 1580.7,500.5 1581.4,500.6 1582.0,500.6 1582.7,500.6 1583.3,500.7 1584.0,500.4 1584.6,500.7 1585.3,500.6 1585.9,500.7 1586.5,500.2 1587.2,500.7 1587.8,500.4 1588.5,500.7 1589.1,500.6 1589.8,500.7 1590.4,500.5 1591.1,500.8 1591.7,500.6 1592.4,500.7 1593.0,500.6 1593.7,500.6 1594.3,500.6 1595.0,500.7 1595.6,500.7 1596.2,500.4 1596.9,500.8 1597.5,500.5 1598.2,500.7 1598.8,500.5 1599.5,500.7 1600.1,500.8 1600.8,500.5 1601.4,500.7 1602.1,500.7 1602.7,500.7 1603.4,500.3 1604.0,500.2 1604.7,500.6 1605.3,500.4 1606.0,500.6 1606.6,500.3 1607.2,500.3 1607.9,500.4 1608.5,500.3 1609.2,500.5 1609.8,500.3 1610.5,500.1 1611.1,499.4 1611.8,499.3 1612.4,499.1 1613.1,498.5 1613.7,498.6 1614.4,498.9 1615.0,499.1 1615.7,499.5 1616.3,499.6 1617.0,499.9 1617.6,499.5 1618.2,499.8 1618.9,499.6 1619.5,499.7 1620.2,499.6 1620.8,499.5 1621.5,500.3 1622.1,500.2 1622.8,500.1 1623.4,500.3 1624.1,500.5 1624.7,500.6 1625.4,500.2 1626.0,500.1 1626.7,500.0 1627.3,500.1 1628.0,499.8 1628.6,499.5 1629.2,499.2 1629.9,499.2 1630.5,499.0 1631.2,499.5 1631.8,499.9 1632.5,500.0 1633.1,499.9 1633.8,500.1 1634.4,499.4 1635.1,499.6 1635.7,499.9 1636.4,499.8 1637.0,500.2 1637.7,500.2 1638.3,500.3 1639.0,500.2 1639.6,500.1 1640.2,500.3 1640.9,500.1 1641.5,500.7 1642.2,500.6 1642.8,500.2 1643.5,500.4 1644.1,500.7 1644.8,500.3 1645.4,500.7 1646.1,500.7 1646.7,500.8 1647.4,500.8 1648.0,500.7 1648.7,500.7 1649.3,500.6 1650.0,500.6 1650.6,500.7 1651.2,500.8 1651.9,500.8 1652.5,500.5 1653.2,500.7 1653.8,500.6 1654.5,500.7 1655.1,500.4 1655.8,500.7 1656.4,500.4 1657.1,500.7 1657.7,500.7 1658.4,500.2 1659.0,500.5 1659.7,500.6 1660.3,500.5 1661.0,500.5 1661.6,500.7 1662.2,500.5 1662.9,500.4 1663.5,500.3 1664.2,500.1 1664.8,499.8 1665.5,499.7 1666.1,499.4 1666.8,499.2 1667.4,498.7 1668.1,499.5 1668.7,499.6 1669.4,499.9 1670.0,500.1 1670.7,499.9 1671.3,499.9 1671.9,500.1 1672.6,500.0 1673.2,499.9 1673.9,499.8 1674.5,499.9 1675.2,500.4 1675.8,500.4 1676.5,500.3 1677.1,500.3 1677.8,500.5 1678.4,500.4 1679.1,500.6 1679.7,500.6 1680.4,500.4 1681.0,500.5 1681.7,500.5 1682.3,500.6 1682.9,500.6 1683.6,500.0 1684.2,500.3 1684.9,500.5 1685.5,500.0 1686.2,500.3 1686.8,500.4 1687.5,500.1 1688.1,499.9 1688.8,499.6 1689.4,499.3 1690.1,499.2 1690.7,499.3 1691.4,499.6 1692.0,499.6 1692.7,499.8 1693.3,500.1 1693.9,500.2 1694.6,499.6 1695.2,500.1 1695.9,499.9 1696.5,499.9 1697.2,499.8 1697.8,500.2 1698.5,500.3 1699.1,499.6 1699.8,500.0 1700.4,500.6 1701.1,500.1 1701.7,500.6 1702.4,500.5 1703.0,500.3 1703.7,500.7 1704.3,500.6 1704.9,500.7 1705.6,500.2 1706.2,500.6 1706.9,500.5 1707.5,500.5 1708.2,500.7 1708.8,500.7 1709.5,500.6 1710.1,500.6 1710.8,500.5 1711.4,500.6 1712.1,500.3 1712.7,500.3 1713.4,500.4 1714.0,500.1 1714.7,500.3 1715.3,500.2 1715.9,499.9 1716.6,500.0 1717.2,499.8 1717.9,499.6 1718.5,499.0 1719.2,498.6 1719.8,497.9 1720.5,497.1 1721.1,495.7 1721.8,493.7 1722.4,490.4 1723.1,485.5 1723.7,478.2 1724.4,469.7 1725.0,460.5 1725.7,454.8 1726.3,455.4 1726.9,461.3 1727.6,469.8 1728.2,477.0 1728.9,481.4 1729.5,484.0 1730.2,483.3 1730.8,481.4 1731.5,479.1 1732.1,477.5 1732.8,479.8 1733.4,483.5 1734.1,487.9 1734.7,491.7 1735.4,494.4 1736.0,496.3 1736.6,497.5 1737.3,498.5 1737.9,499.2 1738.6,498.7 1739.2,499.7 1739.9,499.6 1740.5,500.1 1741.2,500.0 1741.8,499.7 1742.5,499.8 1743.1,500.0 1743.8,500.1 1744.4,499.7 1745.1,499.7 1745.7,499.0 1746.4,498.9 1747.0,498.0 1747.6,497.0 1748.3,495.1 1748.9,492.9 1749.6,489.3 1750.2,484.7 1750.9,479.1 1751.5,475.2 1752.2,474.1 1752.8,476.6 1753.5,481.0 1754.1,485.6 1754.8,489.2 1755.4,490.9 1756.1,491.0 1756.7,490.4 1757.4,489.0 1758.0,487.6 1758.6,488.1 1759.3,489.5 1759.9,492.1 1760.6,494.0 1761.2,496.4 1761.9,497.7 1762.5,498.4 1763.2,499.2 1763.8,499.7 1764.5,499.7 1765.1,500.0 1765.8,500.4 1766.4,500.3 1767.1,500.5 1767.7,500.5 1768.4,500.6 1769.0,500.6 1769.6,500.5 1770.3,500.5 1770.9,500.5 1771.6,500.7 1772.2,500.4 1772.9,500.6 1773.5,500.6 1774.2,500.5 1774.8,500.3 1775.5,500.2 1776.1,500.7 1776.8,500.7 1777.4,500.7 1778.1,500.2 1778.7,500.3 1779.4,500.4 1780.0,500.7 1780.6,500.7 1781.3,500.7 1781.9,500.8 1782.6,500.5 1783.2,499.8 1783.9,500.5 1784.5,500.6 1785.2,500.6 1785.8,500.7 1786.5,500.5 1787.1,500.6 1787.8,500.7 1788.4,500.7 1789.1,500.8 1789.7,500.4 1790.3,500.1 1791.0,500.8 1791.6,500.5 1792.3,500.7 1792.9,500.4 1793.6,500.7 1794.2,500.8 1794.9,500.5 1795.5,500.5 1796.2,500.6 1796.8,499.9 1797.5,500.2 1798.1,500.2 1798.8,500.7 1799.4,500.8 1800.1,500.4 1800.7,500.4 1801.3,500.7 1802.0,499.9 1802.6,500.3 1803.3,500.4 1803.9,500.0 1804.6,500.5 1805.2,500.5 1805.9,500.7 1806.5,500.3 1807.2,500.7 1807.8,500.7 1808.5,500.1 1809.1,500.6 1809.8,500.6 1810.4,500.6 1811.1,500.6 1811.7,500.8 1812.3,500.3 1813.0,500.6 1813.6,500.7 1814.3,500.5 1814.9,500.7 1815.6,500.7 1816.2,500.6 1816.9,500.7 1817.5,500.8 1818.2,500.1 1818.8,500.7 1819.5,500.8 1820.1,500.4 1820.8,500.7 1821.4,500.3 1822.1,500.7 1822.7,500.7 1823.3,500.7 1824.0,500.5 1824.6,500.6 1825.3,499.8 1825.9,500.5 1826.6,500.4 1827.2,500.7 1827.9,500.4 1828.5,500.6 1829.2,500.2 1829.8,500.3 1830.5,500.4 1831.1,500.4 1831.8,500.3 1832.4,500.0 1833.1,499.8 1833.7,499.6 1834.3,499.0 1835.0,498.3 1835.6,498.2 1836.3,498.2 1836.9,498.5 1837.6,499.0 1838.2,499.3 1838.9,499.4 1839.5,499.6 1840.2,499.8 1840.8,499.8 1841.5,499.7 1842.1,499.5 1842.8,499.4 1843.4,499.7 1844.1,499.9 1844.7,500.0 1845.3,500.4 1846.0,500.4 1846.6,500.6 1847.3,500.3 1847.9,500.6 1848.6,500.4 1849.2,500.7 1849.9,500.6 1850.5,500.7 1851.2,500.7 1851.8,500.4 1852.5,500.5 1853.1,500.5 1853.8,500.5 1854.4,500.4 1855.0,500.8 1855.7,500.5 1856.3,500.2 1857.0,500.8 1857.6,500.7 1858.3,500.6 1858.9,500.5 1859.6,500.4 1860.2,500.8 1860.9,500.6 1861.5,500.7 1862.2,500.5 1862.8,500.3 1863.5,500.8 1864.1,500.4 1864.8,500.6 1865.4,500.3 1866.0,500.8 1866.7,500.3 1867.3,500.7 1868.0,500.7 1868.6,500.2 1869.3,500.6 1869.9,500.6 1870.6,500.4 1871.2,500.5 1871.9,500.8 1872.5,500.4 1873.2,499.4 1873.8,500.5 1874.5,500.6 1875.1,500.3 1875.8,500.7 1876.4,500.4 1877.0,500.2 1877.7,500.7 1878.3,500.7 1879.0,500.2 1879.6,500.8 1880.3,500.7 1880.9,500.7 1881.6,500.8 1882.2,500.5 1882.9,500.1 1883.5,500.7 1884.2,500.5 1884.8,500.6 1885.5,500.5 1886.1,500.5 1886.8,500.2 1887.4,500.4 1888.0,500.5 1888.7,500.7 1889.3,500.6 1890.0,500.7 1890.6,500.7 1891.3,500.7 1891.9,500.8 1892.6,500.7 1893.2,500.5 1893.9,500.6 1894.5,500.1 1895.2,500.7 1895.8,500.4 1896.5,500.0 1897.1,500.6 1897.8,500.6 1898.4,500.5 1899.0,500.4 1899.7,500.6 1900.3,500.7 1901.0,500.5 1901.6,500.6 1902.3,500.6 1902.9,500.7 1903.6,500.5 1904.2,500.5 1904.9,500.5 1905.5,500.8 1906.2,500.5 1906.8,500.4 1907.5,500.4 1908.1,500.8 1908.8,500.8 1909.4,500.8 1910.0,500.8 1910.7,500.7 1911.3,500.6 1912.0,500.6 1912.6,500.4 1913.3,500.6 1913.9,500.8 1914.6,500.6 1915.2,500.5 1915.9,500.2 1916.5,500.6 1917.2,500.7 1917.8,500.6 1918.5,500.7 1919.1,500.8 1919.8,500.6 1920.4,500.8 1921.0,500.6 1921.7,500.7 1922.3,500.5 1923.0,500.5 1923.6,500.6 1924.3,500.5 1924.9,500.8 1925.6,500.4 1926.2,500.6 1926.9,500.7 1927.5,500.1 1928.2,500.6 1928.8,500.3 1929.5,500.6 1930.1,500.8 1930.7,500.5 1931.4,500.4 1932.0,500.6 1932.7,500.6 1933.3,500.2 1934.0,500.7 1934.6,500.4 1935.3,500.5 1935.9,500.3 1936.6,500.6 1937.2,500.6 1937.9,500.5 1938.5,500.7 1939.2,500.6 1939.8,500.8 1940.5,500.7 1941.1,500.7 1941.7,500.6 1942.4,500.8 1943.0,500.7 1943.7,500.7 1944.3,500.6 1945.0,500.5 1945.6,500.8 1946.3,500.6 1946.9,500.5 1947.6,500.7 1948.2,500.6 1948.9,500.8 1949.5,500.5 1950.2,500.7 1950.8,500.1 1951.5,500.5 1952.1,500.6 1952.7,500.4 1953.4,500.5 1954.0,500.1 1954.7,500.7 1955.3,500.7 1956.0,500.3 1956.6,500.1 1957.3,500.8 1957.9,500.1 1958.6,500.6 1959.2,500.3 1959.9,500.6 1960.5,500.6 1961.2,500.4 1961.8,500.4 1962.5,500.5 1963.1,500.6 1963.7,500.3 1964.4,500.3 1965.0,500.3 1965.7,500.0 1966.3,499.3 1967.0,499.1 1967.6,498.7 1968.3,497.7 1968.9,496.4 1969.6,495.8 1970.2,495.9 1970.9,496.4 1971.5,497.3 1972.2,498.2 1972.8,498.5 1973.5,499.0 1974.1,499.1 1974.7,499.2 1975.4,498.9 1976.0,498.0 1976.7,498.0 1977.3,498.5 1978.0,498.7 1978.6,498.9 1979.3,499.5 1979.9,499.9 1980.6,499.9 1981.2,500.3 1981.9,500.3 1982.5,500.4 1983.2,500.0 1983.8,500.4 1984.5,500.7 1985.1,500.5 1985.7,500.6 1986.4,500.7 1987.0,500.5 1987.7,500.2 1988.3,500.7 1989.0,500.4 1989.6,500.3 1990.3,500.7 1990.9,500.3 1991.6,500.6 1992.2,500.6 1992.9,500.6 1993.5,500.7 1994.2,500.7 1994.8,500.4 1995.4,500.3 1996.1,500.6 1996.7,500.7 1997.4,500.6 1998.0,500.7 1998.7,500.5 1999.3,500.7 2000.0,500.4 2000.6,500.5 2001.3,500.7 2001.9,500.6 2002.6,500.5 2003.2,500.7 2003.9,500.7 2004.5,500.5 2005.2,500.3 2005.8,500.3 2006.4,500.7 2007.1,500.7 2007.7,500.6 2008.4,500.7 2009.0,500.5 2009.7,500.6 2010.3,500.6 2011.0,500.7 2011.6,500.7 2012.3,500.3 2012.9,500.6 2013.6,500.8 2014.2,500.7 2014.9,500.7 2015.5,500.7 2016.2,500.7 2016.8,500.5 2017.4,500.7 2018.1,500.7 2018.7,500.7 2019.4,500.4 2020.0,500.5 2020.7,500.7 2021.3,500.6 2022.0,500.6 2022.6,500.7 2023.3,500.6 2023.9,500.4 2024.6,500.7 2025.2,500.1 2025.9,500.6 2026.5,500.4 2027.2,500.7 2027.8,500.8 2028.4,500.7 2029.1,500.3 2029.7,500.5 2030.4,500.5 2031.0,500.8 2031.7,500.4 2032.3,500.2 2033.0,500.8 2033.6,500.8 2034.3,500.7 2034.9,500.7 2035.6,500.5 2036.2,500.6 2036.9,500.6 2037.5,500.7 2038.2,500.7 2038.8,500.5 2039.4,500.8 2040.1,500.7 2040.7,500.5 2041.4,500.7 2042.0,500.5 2042.7,500.4 2043.3,500.7 2044.0,500.7 2044.6,500.6 2045.3,500.4 2045.9,500.6 2046.6,500.7 2047.2,500.7 2047.9,500.6 2048.5,500.7 2049.2,500.6 2049.8,500.6 2050.4,500.5 2051.1,500.8 2051.7,500.6 2052.4,500.8 2053.0,500.4 2053.7,500.6 2054.3,500.7 2055.0,500.7 2055.6,500.3 2056.3,500.7 2056.9,500.5 2057.6,500.7 2058.2,500.3 2058.9,500.7 2059.5,500.6 2060.1,500.2 2060.8,500.4 2061.4,500.7 2062.1,500.6 2062.7,500.3 2063.4,500.4 2064.0,500.7 2064.7,500.8 2065.3,500.5 2066.0,500.6 2066.6,500.4 2067.3,500.7 2067.9,500.3 2068.6,500.7 2069.2,499.8 2069.9,500.4 2070.5,500.2 2071.1,500.4 2071.8,500.2 2072.4,499.9 2073.1,499.7 2073.7,499.1 2074.4,498.6 2075.0,497.8 2075.7,497.5 2076.3,497.9 2077.0,498.3 2077.6,498.9 2078.3,499.2 2078.9,499.4 2079.6,499.7 2080.2,499.7 2080.9,499.7 2081.5,499.7" fill="none" stroke="#0000ff" stroke-width="8" stroke-linejoin="round" stroke-linecap="butt"/>
<g fill="none" stroke="#000" stroke-width="1.9">
<circle cx="386.0" cy="165.0" r="14.05"/>
<circle cx="662.0" cy="343.0" r="14.05"/>
<circle cx="764.0" cy="464.8" r="14.05"/>
<circle cx="830.0" cy="417.0" r="14.05"/>
<circle cx="921.0" cy="457.0" r="14.05"/>
<circle cx="1253.0" cy="313.9" r="14.05"/>
<circle cx="1331.0" cy="437.0" r="14.05"/>
<circle cx="1528.0" cy="453.1" r="14.05"/>
<circle cx="1569.1" cy="453.0" r="14.05"/>
<circle cx="1730.0" cy="432.9" r="14.05"/>
<circle cx="1758.0" cy="449.0" r="14.05"/>
<circle cx="381.8" cy="523.0" r="14.05"/>
<circle cx="655.5" cy="777.7" r="14.05"/>
<circle cx="765.0" cy="863.8" r="14.05"/>
<circle cx="835.0" cy="822.9" r="14.05"/>
<circle cx="925.0" cy="855.8" r="14.05"/>
<circle cx="1253.0" cy="721.0" r="14.05"/>
<circle cx="1331.0" cy="830.8" r="14.05"/>
<circle cx="1524.0" cy="859.7" r="14.05"/>
<circle cx="1570.0" cy="859.7" r="14.05"/>
<circle cx="1761.8" cy="859.7" r="14.05"/>
<circle cx="1732.0" cy="839.9" r="16.1"/>
</g>
<g fill="#000">
<circle cx="312.8" cy="787.8" r="15"/>
<circle cx="711.0" cy="863.8" r="15"/>
<circle cx="1048.0" cy="848.0" r="15"/>
<circle cx="1282.0" cy="859.7" r="15"/>
<circle cx="312.7" cy="917.0" r="15"/>
<circle cx="690.0" cy="1279.1" r="15"/>
<circle cx="718.9" cy="1225.9" r="15"/>
<circle cx="752.2" cy="1274.9" r="15"/>
<circle cx="1048.0" cy="1204.9" r="15"/>
<circle cx="1236.9" cy="1250.8" r="15"/>
<circle cx="1278.0" cy="1245.7" r="15"/>
<circle cx="1524.0" cy="1267.2" r="15"/>
<circle cx="1722.1" cy="1278.9" r="15"/>
<circle cx="1771.0" cy="1278.9" r="15"/>
<circle cx="1927.0" cy="1270.8" r="15"/>
</g>
<g font-size="70" text-anchor="middle">
<text x="140.0" y="1573.5">20</text>
<text x="463.5" y="1573.5">30</text>
<text x="787.0" y="1573.5">40</text>
<text x="1110.5" y="1573.5">50</text>
<text x="1434.0" y="1573.5">60</text>
<text x="1757.5" y="1573.5">70</text>
<text x="2081.0" y="1573.5">80</text>
</g>
<text id="xt" y="1637" font-size="76"><tspan x="937">2</tspan> <tspan x="995.7" letter-spacing="-2">Theta</tspan><tspan id="xt2" x="1176" font-size="69" letter-spacing="-0.3">(deg)</tspan></text>
<text id="yt" transform="translate(83.7,965.5) rotate(-90)" font-size="76.4">Intensity(a.u.)</text>
<text id="lm1" x="1745.65" y="221" font-size="69" stroke="#fff" stroke-width="0.5">●</text>
<text id="la" x="1786.5" y="221" font-size="69" letter-spacing="-1">Anatase</text>
<text id="lm2" x="1746.9" y="296.7" font-size="68" stroke="#fff" stroke-width="1">○</text>
<text id="lr" x="1788" y="295.5" font-size="69" letter-spacing="-1.2">Rutile</text>
<text id="tc" x="2013.8" y="453.5" font-size="75">c</text>
<text id="tb" x="2012.5" y="864.5" font-size="66">b</text>
<text id="ta" x="2008.8" y="1279.5" font-size="75">a</text>
</svg></body></html>
